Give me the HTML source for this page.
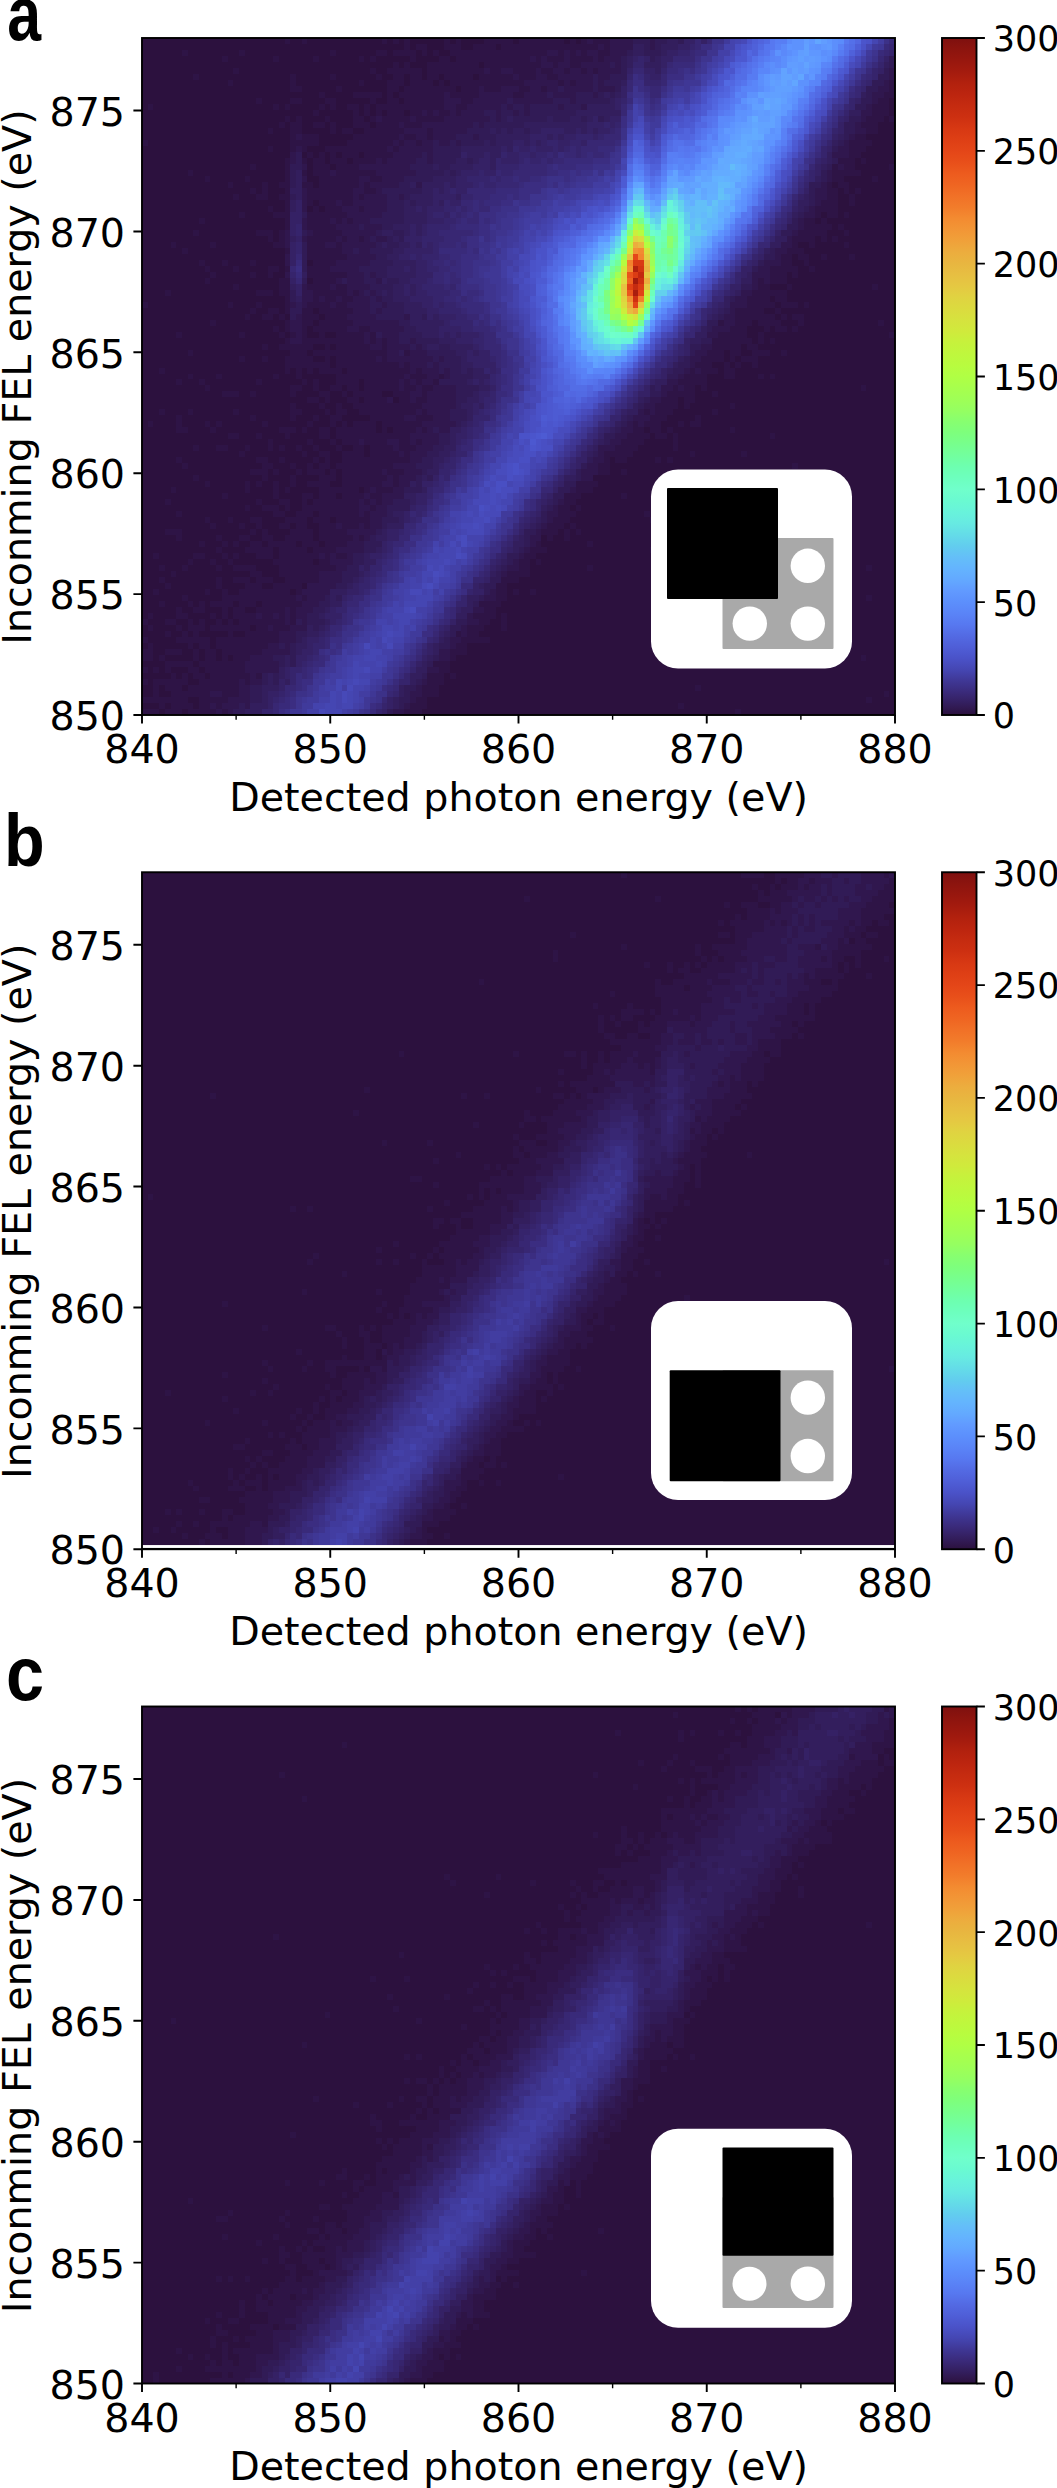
<!DOCTYPE html>
<html lang="en"><head><meta charset="utf-8"><title>Figure</title>
<style>html,body{margin:0;padding:0;background:#fff;width:1057px;height:2488px;overflow:hidden}svg{display:block}</style></head><body>
<svg width="1057" height="2488" viewBox="0 0 1057 2488" role="img" aria-label="Three heat maps of incoming FEL energy versus detected photon energy">
<defs><linearGradient id="tg" x1="0" y1="1" x2="0" y2="0"><stop offset="0.0000" stop-color="#2c113e"/><stop offset="0.0167" stop-color="#331e5d"/><stop offset="0.0333" stop-color="#3a2a7a"/><stop offset="0.0500" stop-color="#3f3795"/><stop offset="0.0667" stop-color="#4546b2"/><stop offset="0.0833" stop-color="#4a52c8"/><stop offset="0.1000" stop-color="#4f5ed7"/><stop offset="0.1167" stop-color="#536ae3"/><stop offset="0.1333" stop-color="#5778f0"/><stop offset="0.1500" stop-color="#5a84f7"/><stop offset="0.1667" stop-color="#5c8ffc"/><stop offset="0.1833" stop-color="#619aff"/><stop offset="0.2000" stop-color="#63a9ff"/><stop offset="0.2167" stop-color="#64b4fe"/><stop offset="0.2333" stop-color="#64bff8"/><stop offset="0.2500" stop-color="#62cdee"/><stop offset="0.2667" stop-color="#64dce8"/><stop offset="0.2833" stop-color="#67eae2"/><stop offset="0.3000" stop-color="#68f3db"/><stop offset="0.3167" stop-color="#6afad1"/><stop offset="0.3333" stop-color="#70ffcb"/><stop offset="0.3500" stop-color="#6dffbe"/><stop offset="0.3667" stop-color="#6dffb0"/><stop offset="0.3833" stop-color="#72ff9e"/><stop offset="0.4000" stop-color="#77ff8d"/><stop offset="0.4167" stop-color="#7dff7d"/><stop offset="0.4333" stop-color="#87ff70"/><stop offset="0.4500" stop-color="#95ff61"/><stop offset="0.4667" stop-color="#9fff56"/><stop offset="0.4833" stop-color="#a7ff4d"/><stop offset="0.5000" stop-color="#b0ff44"/><stop offset="0.5167" stop-color="#b8fc3f"/><stop offset="0.5333" stop-color="#bff73d"/><stop offset="0.5500" stop-color="#c6f23c"/><stop offset="0.5667" stop-color="#d0ea3c"/><stop offset="0.5833" stop-color="#d6e33e"/><stop offset="0.6000" stop-color="#dbdb3f"/><stop offset="0.6167" stop-color="#e0d341"/><stop offset="0.6333" stop-color="#e5c842"/><stop offset="0.6500" stop-color="#e7bf42"/><stop offset="0.6667" stop-color="#e8b640"/><stop offset="0.6833" stop-color="#ecad3e"/><stop offset="0.7000" stop-color="#f0a13a"/><stop offset="0.7167" stop-color="#f29636"/><stop offset="0.7333" stop-color="#f38b31"/><stop offset="0.7500" stop-color="#f27c2b"/><stop offset="0.7667" stop-color="#f17127"/><stop offset="0.7833" stop-color="#ef6522"/><stop offset="0.8000" stop-color="#ed5b1e"/><stop offset="0.8167" stop-color="#e84f1a"/><stop offset="0.8333" stop-color="#e44618"/><stop offset="0.8500" stop-color="#de3f15"/><stop offset="0.8667" stop-color="#d73813"/><stop offset="0.8833" stop-color="#cd3011"/><stop offset="0.9000" stop-color="#c52b10"/><stop offset="0.9167" stop-color="#bc250f"/><stop offset="0.9333" stop-color="#b2210e"/><stop offset="0.9500" stop-color="#a41b0e"/><stop offset="0.9667" stop-color="#98170e"/><stop offset="0.9833" stop-color="#8c140e"/><stop offset="1.0000" stop-color="#7e100f"/></linearGradient></defs>
<rect width="1057" height="2488" fill="#fff"/>
<g transform="translate(0,0)">
<rect x="142" y="38" width="753" height="677" fill="#2c113e"/>
<g transform="translate(142,38) scale(5.70455,5.99115)" shape-rendering="crispEdges">
<path fill="#2e1446" d="M25 0h1v1h-1zM28 0h1v1h-1zM42 0h1v1h-1zM44 0h1v1h-1zM46 0h1v1h-1zM53 0h1v1h-1zM55 0h1v1h-1zM60 0h5v1h-5zM66 0h8v1h-8zM75 0h1v1h-1zM77 0h1v1h-1zM79 0h3v1h-3zM46 1h1v1h-1zM48 1h2v1h-2zM53 1h3v1h-3zM58 1h4v1h-4zM63 1h17v1h-17zM81 1h1v1h-1zM7 2h1v1h-1zM17 2h1v1h-1zM33 2h1v1h-1zM41 2h2v1h-2zM44 2h4v1h-4zM49 2h1v1h-1zM51 2h1v1h-1zM54 2h17v1h-17zM73 2h1v1h-1zM75 2h1v1h-1zM77 2h1v1h-1zM80 2h2v1h-2zM14 3h1v1h-1zM23 3h1v1h-1zM30 3h1v1h-1zM38 3h1v1h-1zM40 3h1v1h-1zM47 3h1v1h-1zM52 3h2v1h-2zM55 3h13v1h-13zM69 3h1v1h-1zM71 3h3v1h-3zM75 3h4v1h-4zM80 3h1v1h-1zM44 4h1v1h-1zM46 4h1v1h-1zM50 4h9v1h-9zM60 4h10v1h-10zM72 4h1v1h-1zM75 4h2v1h-2zM16 5h1v1h-1zM40 5h1v1h-1zM43 5h6v1h-6zM50 5h10v1h-10zM61 5h2v1h-2zM65 5h4v1h-4zM70 5h2v1h-2zM74 5h1v1h-1zM77 5h1v1h-1zM79 5h1v1h-1zM9 6h1v1h-1zM26 6h1v1h-1zM33 6h1v1h-1zM41 6h1v1h-1zM44 6h2v1h-2zM47 6h2v1h-2zM50 6h2v1h-2zM53 6h5v1h-5zM59 6h6v1h-6zM66 6h3v1h-3zM71 6h2v1h-2zM15 7h1v1h-1zM26 7h1v1h-1zM38 7h1v1h-1zM43 7h3v1h-3zM47 7h4v1h-4zM52 7h1v1h-1zM54 7h13v1h-13zM73 7h1v1h-1zM75 7h1v1h-1zM131 7h1v1h-1zM26 8h2v1h-2zM34 8h1v1h-1zM43 8h2v1h-2zM46 8h9v1h-9zM56 8h3v1h-3zM60 8h3v1h-3zM66 8h2v1h-2zM70 8h1v1h-1zM131 8h1v1h-1zM31 9h1v1h-1zM37 9h5v1h-5zM43 9h1v1h-1zM45 9h8v1h-8zM54 9h5v1h-5zM65 9h2v1h-2zM130 9h2v1h-2zM20 10h1v1h-1zM26 10h2v1h-2zM32 10h2v1h-2zM40 10h1v1h-1zM43 10h2v1h-2zM46 10h7v1h-7zM56 10h2v1h-2zM129 10h2v1h-2zM1 11h1v1h-1zM23 11h1v1h-1zM25 11h1v1h-1zM31 11h1v1h-1zM33 11h1v1h-1zM36 11h2v1h-2zM39 11h1v1h-1zM41 11h12v1h-12zM55 11h2v1h-2zM128 11h3v1h-3zM30 12h1v1h-1zM37 12h1v1h-1zM39 12h1v1h-1zM41 12h1v1h-1zM43 12h3v1h-3zM47 12h2v1h-2zM50 12h1v1h-1zM52 12h2v1h-2zM55 12h1v1h-1zM128 12h3v1h-3zM25 13h1v1h-1zM27 13h1v1h-1zM32 13h1v1h-1zM37 13h2v1h-2zM40 13h1v1h-1zM42 13h5v1h-5zM48 13h5v1h-5zM127 13h3v1h-3zM131 13h1v1h-1zM24 14h1v1h-1zM26 14h2v1h-2zM30 14h2v1h-2zM33 14h1v1h-1zM37 14h3v1h-3zM41 14h4v1h-4zM46 14h3v1h-3zM126 14h3v1h-3zM22 15h1v1h-1zM26 15h2v1h-2zM33 15h1v1h-1zM35 15h2v1h-2zM39 15h7v1h-7zM50 15h1v1h-1zM127 15h2v1h-2zM26 16h1v1h-1zM28 16h3v1h-3zM37 16h8v1h-8zM46 16h2v1h-2zM50 16h1v1h-1zM125 16h2v1h-2zM0 17h1v1h-1zM26 17h5v1h-5zM36 17h8v1h-8zM45 17h1v1h-1zM48 17h1v1h-1zM124 17h4v1h-4zM22 18h1v1h-1zM26 18h1v1h-1zM28 18h1v1h-1zM32 18h11v1h-11zM44 18h1v1h-1zM124 18h3v1h-3zM29 19h1v1h-1zM31 19h1v1h-1zM33 19h1v1h-1zM35 19h3v1h-3zM39 19h5v1h-5zM124 19h2v1h-2zM25 20h1v1h-1zM28 20h1v1h-1zM30 20h2v1h-2zM33 20h3v1h-3zM37 20h4v1h-4zM42 20h1v1h-1zM122 20h3v1h-3zM126 20h1v1h-1zM19 21h1v1h-1zM25 21h1v1h-1zM30 21h3v1h-3zM34 21h4v1h-4zM121 21h1v1h-1zM123 21h2v1h-2zM131 21h1v1h-1zM8 22h1v1h-1zM25 22h1v1h-1zM28 22h1v1h-1zM30 22h3v1h-3zM34 22h7v1h-7zM121 22h5v1h-5zM11 23h1v1h-1zM18 23h1v1h-1zM25 23h1v1h-1zM31 23h7v1h-7zM40 23h2v1h-2zM121 23h2v1h-2zM128 23h1v1h-1zM15 24h1v1h-1zM21 24h1v1h-1zM24 24h2v1h-2zM28 24h2v1h-2zM31 24h7v1h-7zM39 24h1v1h-1zM120 24h1v1h-1zM122 24h2v1h-2zM19 25h1v1h-1zM21 25h1v1h-1zM25 25h1v1h-1zM29 25h8v1h-8zM39 25h2v1h-2zM120 25h2v1h-2zM123 25h1v1h-1zM125 25h1v1h-1zM16 26h1v1h-1zM20 26h2v1h-2zM24 26h2v1h-2zM29 26h8v1h-8zM38 26h1v1h-1zM120 26h2v1h-2zM124 26h1v1h-1zM25 27h1v1h-1zM29 27h1v1h-1zM31 27h3v1h-3zM35 27h2v1h-2zM119 27h3v1h-3zM124 27h1v1h-1zM22 28h1v1h-1zM25 28h1v1h-1zM30 28h1v1h-1zM32 28h3v1h-3zM38 28h1v1h-1zM118 28h4v1h-4zM17 29h1v1h-1zM23 29h3v1h-3zM29 29h7v1h-7zM118 29h1v1h-1zM120 29h2v1h-2zM123 29h1v1h-1zM10 30h1v1h-1zM25 30h1v1h-1zM29 30h4v1h-4zM34 30h1v1h-1zM36 30h1v1h-1zM116 30h2v1h-2zM119 30h1v1h-1zM25 31h1v1h-1zM29 31h5v1h-5zM116 31h5v1h-5zM122 31h1v1h-1zM9 32h1v1h-1zM20 32h3v1h-3zM24 32h1v1h-1zM30 32h5v1h-5zM115 32h5v1h-5zM123 32h1v1h-1zM22 33h1v1h-1zM24 33h1v1h-1zM29 33h5v1h-5zM35 33h1v1h-1zM38 33h1v1h-1zM114 33h4v1h-4zM119 33h1v1h-1zM121 33h1v1h-1zM5 34h1v1h-1zM12 34h1v1h-1zM23 34h2v1h-2zM29 34h3v1h-3zM34 34h1v1h-1zM114 34h1v1h-1zM117 34h1v1h-1zM123 34h1v1h-1zM7 35h1v1h-1zM25 35h1v1h-1zM29 35h6v1h-6zM113 35h3v1h-3zM29 36h7v1h-7zM112 36h2v1h-2zM115 36h2v1h-2zM119 36h1v1h-1zM124 36h1v1h-1zM10 37h1v1h-1zM14 37h1v1h-1zM19 37h1v1h-1zM30 37h4v1h-4zM112 37h2v1h-2zM116 37h1v1h-1zM11 38h1v1h-1zM16 38h1v1h-1zM22 38h2v1h-2zM25 38h1v1h-1zM29 38h4v1h-4zM110 38h5v1h-5zM117 38h1v1h-1zM12 39h1v1h-1zM19 39h1v1h-1zM22 39h1v1h-1zM29 39h7v1h-7zM110 39h3v1h-3zM114 39h1v1h-1zM11 40h1v1h-1zM24 40h2v1h-2zM30 40h4v1h-4zM108 40h1v1h-1zM110 40h3v1h-3zM16 41h1v1h-1zM24 41h2v1h-2zM29 41h4v1h-4zM34 41h2v1h-2zM108 41h2v1h-2zM113 41h1v1h-1zM128 41h1v1h-1zM4 42h1v1h-1zM20 42h3v1h-3zM24 42h2v1h-2zM30 42h6v1h-6zM37 42h1v1h-1zM107 42h6v1h-6zM25 43h1v1h-1zM30 43h1v1h-1zM32 43h2v1h-2zM35 43h2v1h-2zM106 43h4v1h-4zM111 43h2v1h-2zM0 44h1v1h-1zM15 44h1v1h-1zM20 44h1v1h-1zM25 44h1v1h-1zM29 44h4v1h-4zM34 44h2v1h-2zM106 44h5v1h-5zM112 44h3v1h-3zM116 44h1v1h-1zM19 45h1v1h-1zM22 45h2v1h-2zM25 45h1v1h-1zM28 45h2v1h-2zM31 45h6v1h-6zM104 45h5v1h-5zM111 45h1v1h-1zM18 46h1v1h-1zM21 46h2v1h-2zM24 46h1v1h-1zM28 46h3v1h-3zM32 46h4v1h-4zM104 46h7v1h-7zM112 46h1v1h-1zM114 46h2v1h-2zM12 47h1v1h-1zM25 47h1v1h-1zM28 47h2v1h-2zM31 47h6v1h-6zM101 47h1v1h-1zM104 47h3v1h-3zM108 47h4v1h-4zM115 47h1v1h-1zM129 47h1v1h-1zM23 48h1v1h-1zM25 48h1v1h-1zM28 48h1v1h-1zM30 48h6v1h-6zM38 48h2v1h-2zM103 48h3v1h-3zM109 48h1v1h-1zM111 48h2v1h-2zM114 48h1v1h-1zM6 49h1v1h-1zM17 49h1v1h-1zM24 49h1v1h-1zM26 49h1v1h-1zM28 49h1v1h-1zM31 49h1v1h-1zM34 49h5v1h-5zM40 49h1v1h-1zM101 49h5v1h-5zM108 49h1v1h-1zM131 49h1v1h-1zM25 50h1v1h-1zM28 50h11v1h-11zM40 50h1v1h-1zM42 50h1v1h-1zM100 50h7v1h-7zM108 50h1v1h-1zM110 50h1v1h-1zM21 51h1v1h-1zM24 51h6v1h-6zM32 51h1v1h-1zM34 51h6v1h-6zM42 51h1v1h-1zM100 51h5v1h-5zM106 51h2v1h-2zM8 52h1v1h-1zM26 52h3v1h-3zM30 52h13v1h-13zM46 52h1v1h-1zM99 52h3v1h-3zM103 52h2v1h-2zM107 52h3v1h-3zM112 52h1v1h-1zM17 53h1v1h-1zM21 53h1v1h-1zM25 53h5v1h-5zM32 53h1v1h-1zM34 53h7v1h-7zM42 53h1v1h-1zM98 53h4v1h-4zM103 53h1v1h-1zM105 53h3v1h-3zM25 54h8v1h-8zM34 54h11v1h-11zM46 54h1v1h-1zM97 54h3v1h-3zM102 54h1v1h-1zM104 54h1v1h-1zM107 54h1v1h-1zM3 55h1v1h-1zM25 55h1v1h-1zM27 55h1v1h-1zM29 55h1v1h-1zM31 55h4v1h-4zM36 55h11v1h-11zM48 55h1v1h-1zM96 55h1v1h-1zM98 55h3v1h-3zM102 55h2v1h-2zM8 56h1v1h-1zM13 56h1v1h-1zM23 56h1v1h-1zM27 56h1v1h-1zM34 56h12v1h-12zM47 56h3v1h-3zM52 56h1v1h-1zM95 56h4v1h-4zM102 56h2v1h-2zM108 56h1v1h-1zM110 56h1v1h-1zM6 57h1v1h-1zM10 57h1v1h-1zM20 57h1v1h-1zM28 57h1v1h-1zM30 57h1v1h-1zM34 57h4v1h-4zM39 57h6v1h-6zM46 57h1v1h-1zM48 57h1v1h-1zM51 57h1v1h-1zM94 57h5v1h-5zM11 58h1v1h-1zM26 58h2v1h-2zM30 58h1v1h-1zM33 58h2v1h-2zM36 58h2v1h-2zM39 58h6v1h-6zM46 58h2v1h-2zM49 58h2v1h-2zM93 58h1v1h-1zM95 58h2v1h-2zM98 58h1v1h-1zM126 58h1v1h-1zM14 59h3v1h-3zM19 59h1v1h-1zM26 59h1v1h-1zM31 59h2v1h-2zM35 59h1v1h-1zM37 59h5v1h-5zM44 59h3v1h-3zM49 59h1v1h-1zM92 59h5v1h-5zM100 59h1v1h-1zM29 60h2v1h-2zM32 60h1v1h-1zM36 60h2v1h-2zM39 60h4v1h-4zM45 60h2v1h-2zM48 60h2v1h-2zM91 60h3v1h-3zM95 60h2v1h-2zM26 61h1v1h-1zM31 61h1v1h-1zM34 61h1v1h-1zM37 61h12v1h-12zM90 61h4v1h-4zM95 61h1v1h-1zM103 61h1v1h-1zM3 62h1v1h-1zM8 62h1v1h-1zM16 62h1v1h-1zM26 62h2v1h-2zM32 62h1v1h-1zM34 62h2v1h-2zM38 62h10v1h-10zM49 62h1v1h-1zM88 62h1v1h-1zM90 62h3v1h-3zM100 62h1v1h-1zM6 63h1v1h-1zM19 63h1v1h-1zM26 63h1v1h-1zM30 63h1v1h-1zM33 63h2v1h-2zM40 63h6v1h-6zM48 63h3v1h-3zM89 63h3v1h-3zM97 63h1v1h-1zM1 64h1v1h-1zM6 64h1v1h-1zM11 64h1v1h-1zM13 64h1v1h-1zM21 64h1v1h-1zM29 64h1v1h-1zM33 64h1v1h-1zM35 64h1v1h-1zM37 64h4v1h-4zM42 64h7v1h-7zM86 64h1v1h-1zM88 64h3v1h-3zM94 64h1v1h-1zM96 64h2v1h-2zM6 65h2v1h-2zM12 65h1v1h-1zM24 65h3v1h-3zM28 65h1v1h-1zM31 65h2v1h-2zM34 65h7v1h-7zM42 65h1v1h-1zM44 65h4v1h-4zM49 65h1v1h-1zM86 65h2v1h-2zM89 65h2v1h-2zM92 65h1v1h-1zM103 65h1v1h-1zM15 66h2v1h-2zM20 66h1v1h-1zM25 66h1v1h-1zM31 66h2v1h-2zM34 66h13v1h-13zM85 66h4v1h-4zM90 66h2v1h-2zM93 66h1v1h-1zM110 66h1v1h-1zM22 67h1v1h-1zM29 67h1v1h-1zM33 67h1v1h-1zM35 67h3v1h-3zM39 67h4v1h-4zM45 67h2v1h-2zM48 67h1v1h-1zM84 67h4v1h-4zM93 67h1v1h-1zM9 68h1v1h-1zM13 68h2v1h-2zM18 68h1v1h-1zM22 68h1v1h-1zM24 68h1v1h-1zM27 68h1v1h-1zM30 68h1v1h-1zM34 68h1v1h-1zM37 68h2v1h-2zM40 68h4v1h-4zM45 68h3v1h-3zM83 68h4v1h-4zM93 68h1v1h-1zM17 69h1v1h-1zM28 69h1v1h-1zM31 69h2v1h-2zM35 69h4v1h-4zM40 69h5v1h-5zM46 69h1v1h-1zM81 69h5v1h-5zM96 69h1v1h-1zM105 69h1v1h-1zM6 70h1v1h-1zM20 70h2v1h-2zM24 70h1v1h-1zM30 70h1v1h-1zM32 70h1v1h-1zM35 70h12v1h-12zM81 70h1v1h-1zM83 70h2v1h-2zM90 70h1v1h-1zM92 70h1v1h-1zM7 71h1v1h-1zM21 71h2v1h-2zM26 71h1v1h-1zM29 71h1v1h-1zM31 71h2v1h-2zM34 71h10v1h-10zM80 71h2v1h-2zM114 71h1v1h-1zM19 72h3v1h-3zM23 72h1v1h-1zM27 72h1v1h-1zM29 72h3v1h-3zM33 72h1v1h-1zM35 72h7v1h-7zM43 72h3v1h-3zM80 72h2v1h-2zM84 72h1v1h-1zM9 73h1v1h-1zM21 73h1v1h-1zM26 73h1v1h-1zM31 73h3v1h-3zM35 73h8v1h-8zM44 73h1v1h-1zM11 74h1v1h-1zM18 74h1v1h-1zM20 74h1v1h-1zM23 74h1v1h-1zM26 74h1v1h-1zM29 74h4v1h-4zM35 74h7v1h-7zM44 74h1v1h-1zM76 74h4v1h-4zM5 75h1v1h-1zM18 75h1v1h-1zM23 75h1v1h-1zM25 75h1v1h-1zM31 75h7v1h-7zM39 75h1v1h-1zM41 75h3v1h-3zM76 75h3v1h-3zM14 76h1v1h-1zM23 76h1v1h-1zM28 76h2v1h-2zM31 76h3v1h-3zM35 76h4v1h-4zM40 76h2v1h-2zM74 76h3v1h-3zM84 76h1v1h-1zM4 77h1v1h-1zM20 77h1v1h-1zM24 77h2v1h-2zM28 77h1v1h-1zM30 77h8v1h-8zM39 77h1v1h-1zM41 77h1v1h-1zM74 77h2v1h-2zM106 77h1v1h-1zM123 77h1v1h-1zM18 78h1v1h-1zM21 78h3v1h-3zM25 78h1v1h-1zM28 78h10v1h-10zM40 78h1v1h-1zM73 78h2v1h-2zM76 78h1v1h-1zM6 79h1v1h-1zM23 79h2v1h-2zM27 79h3v1h-3zM31 79h7v1h-7zM39 79h1v1h-1zM73 79h3v1h-3zM88 79h1v1h-1zM11 80h1v1h-1zM15 80h1v1h-1zM19 80h2v1h-2zM25 80h4v1h-4zM30 80h3v1h-3zM34 80h6v1h-6zM72 80h3v1h-3zM89 80h1v1h-1zM12 81h1v1h-1zM17 81h1v1h-1zM20 81h1v1h-1zM24 81h2v1h-2zM27 81h2v1h-2zM31 81h3v1h-3zM35 81h3v1h-3zM39 81h1v1h-1zM71 81h3v1h-3zM75 81h1v1h-1zM4 82h3v1h-3zM19 82h1v1h-1zM21 82h1v1h-1zM26 82h4v1h-4zM31 82h5v1h-5zM70 82h3v1h-3zM74 82h1v1h-1zM76 82h1v1h-1zM6 83h1v1h-1zM13 83h1v1h-1zM17 83h2v1h-2zM21 83h2v1h-2zM25 83h5v1h-5zM31 83h6v1h-6zM38 83h1v1h-1zM71 83h1v1h-1zM74 83h1v1h-1zM10 84h1v1h-1zM14 84h1v1h-1zM16 84h1v1h-1zM19 84h2v1h-2zM22 84h5v1h-5zM28 84h3v1h-3zM32 84h4v1h-4zM69 84h1v1h-1zM78 84h1v1h-1zM13 85h1v1h-1zM18 85h5v1h-5zM24 85h5v1h-5zM30 85h4v1h-4zM68 85h3v1h-3zM89 85h1v1h-1zM103 85h1v1h-1zM117 85h1v1h-1zM2 86h1v1h-1zM9 86h2v1h-2zM14 86h1v1h-1zM16 86h1v1h-1zM20 86h3v1h-3zM24 86h7v1h-7zM32 86h1v1h-1zM34 86h2v1h-2zM67 86h2v1h-2zM8 87h1v1h-1zM12 87h1v1h-1zM15 87h1v1h-1zM23 87h7v1h-7zM31 87h2v1h-2zM66 87h2v1h-2zM69 87h1v1h-1zM96 87h1v1h-1zM106 87h1v1h-1zM110 87h1v1h-1zM3 88h1v1h-1zM7 88h1v1h-1zM13 88h1v1h-1zM16 88h4v1h-4zM24 88h10v1h-10zM66 88h2v1h-2zM78 88h1v1h-1zM127 88h1v1h-1zM5 89h1v1h-1zM19 89h2v1h-2zM24 89h7v1h-7zM64 89h4v1h-4zM3 90h1v1h-1zM13 90h1v1h-1zM16 90h3v1h-3zM20 90h3v1h-3zM25 90h6v1h-6zM63 90h3v1h-3zM4 91h1v1h-1zM13 91h1v1h-1zM18 91h3v1h-3zM23 91h5v1h-5zM62 91h2v1h-2zM2 92h1v1h-1zM11 92h1v1h-1zM14 92h1v1h-1zM17 92h9v1h-9zM27 92h1v1h-1zM62 92h2v1h-2zM65 92h1v1h-1zM68 92h1v1h-1zM7 93h1v1h-1zM14 93h13v1h-13zM28 93h1v1h-1zM62 93h2v1h-2zM105 93h1v1h-1zM127 93h1v1h-1zM3 94h1v1h-1zM8 94h1v1h-1zM10 94h1v1h-1zM12 94h4v1h-4zM17 94h3v1h-3zM21 94h7v1h-7zM59 94h4v1h-4zM90 94h1v1h-1zM6 95h1v1h-1zM9 95h2v1h-2zM14 95h1v1h-1zM16 95h2v1h-2zM20 95h5v1h-5zM26 95h1v1h-1zM60 95h2v1h-2zM1 96h1v1h-1zM6 96h2v1h-2zM12 96h1v1h-1zM14 96h1v1h-1zM16 96h4v1h-4zM21 96h2v1h-2zM24 96h1v1h-1zM26 96h1v1h-1zM58 96h4v1h-4zM63 96h1v1h-1zM98 96h1v1h-1zM0 97h1v1h-1zM4 97h2v1h-2zM8 97h1v1h-1zM10 97h1v1h-1zM13 97h1v1h-1zM15 97h1v1h-1zM17 97h8v1h-8zM26 97h1v1h-1zM59 97h2v1h-2zM63 97h1v1h-1zM1 98h1v1h-1zM6 98h1v1h-1zM8 98h3v1h-3zM12 98h7v1h-7zM20 98h2v1h-2zM23 98h3v1h-3zM57 98h3v1h-3zM63 98h1v1h-1zM4 99h1v1h-1zM7 99h1v1h-1zM9 99h1v1h-1zM15 99h1v1h-1zM18 99h6v1h-6zM55 99h1v1h-1zM57 99h2v1h-2zM0 100h1v1h-1zM6 100h6v1h-6zM13 100h11v1h-11zM56 100h5v1h-5zM1 101h1v1h-1zM8 101h1v1h-1zM10 101h2v1h-2zM13 101h9v1h-9zM55 101h2v1h-2zM0 102h2v1h-2zM4 102h3v1h-3zM9 102h1v1h-1zM11 102h2v1h-2zM14 102h7v1h-7zM54 102h3v1h-3zM0 103h2v1h-2zM3 103h1v1h-1zM9 103h1v1h-1zM11 103h2v1h-2zM14 103h1v1h-1zM16 103h3v1h-3zM54 103h1v1h-1zM126 103h1v1h-1zM4 104h5v1h-5zM10 104h8v1h-8zM51 104h3v1h-3zM0 105h1v1h-1zM2 105h1v1h-1zM4 105h1v1h-1zM8 105h2v1h-2zM11 105h7v1h-7zM52 105h2v1h-2zM5 106h1v1h-1zM7 106h1v1h-1zM9 106h2v1h-2zM12 106h7v1h-7zM20 106h1v1h-1zM50 106h3v1h-3zM54 106h1v1h-1zM0 107h1v1h-1zM2 107h6v1h-6zM10 107h7v1h-7zM18 107h1v1h-1zM50 107h3v1h-3zM2 108h1v1h-1zM4 108h3v1h-3zM8 108h9v1h-9zM49 108h3v1h-3zM97 108h1v1h-1zM2 109h1v1h-1zM5 109h7v1h-7zM14 109h3v1h-3zM49 109h3v1h-3zM130 109h1v1h-1zM0 110h8v1h-8zM10 110h5v1h-5zM48 110h2v1h-2zM127 110h1v1h-1zM3 111h1v1h-1zM5 111h4v1h-4zM10 111h2v1h-2zM13 111h1v1h-1zM47 111h3v1h-3zM94 111h1v1h-1zM0 112h3v1h-3zM4 112h3v1h-3zM8 112h5v1h-5zM14 112h1v1h-1zM46 112h3v1h-3zM104 112h1v1h-1z"/>
<path fill="#30174e" d="M78 0h1v1h-1zM82 0h4v1h-4zM89 0h1v1h-1zM80 1h1v1h-1zM82 1h4v1h-4zM89 1h1v1h-1zM71 2h2v1h-2zM74 2h1v1h-1zM76 2h1v1h-1zM78 2h2v1h-2zM82 2h3v1h-3zM68 3h1v1h-1zM70 3h1v1h-1zM74 3h1v1h-1zM79 3h1v1h-1zM81 3h3v1h-3zM70 4h2v1h-2zM73 4h2v1h-2zM77 4h5v1h-5zM83 4h1v1h-1zM60 5h1v1h-1zM63 5h2v1h-2zM69 5h1v1h-1zM72 5h2v1h-2zM75 5h2v1h-2zM78 5h1v1h-1zM80 5h4v1h-4zM131 5h1v1h-1zM65 6h1v1h-1zM69 6h2v1h-2zM73 6h6v1h-6zM80 6h2v1h-2zM131 6h1v1h-1zM67 7h6v1h-6zM74 7h1v1h-1zM76 7h3v1h-3zM80 7h1v1h-1zM130 7h1v1h-1zM59 8h1v1h-1zM63 8h3v1h-3zM68 8h2v1h-2zM71 8h2v1h-2zM74 8h5v1h-5zM80 8h3v1h-3zM129 8h2v1h-2zM53 9h1v1h-1zM59 9h6v1h-6zM67 9h4v1h-4zM72 9h4v1h-4zM79 9h1v1h-1zM128 9h2v1h-2zM53 10h3v1h-3zM58 10h6v1h-6zM65 10h7v1h-7zM75 10h1v1h-1zM128 10h1v1h-1zM53 11h2v1h-2zM57 11h6v1h-6zM64 11h1v1h-1zM67 11h1v1h-1zM73 11h1v1h-1zM77 11h1v1h-1zM127 11h1v1h-1zM49 12h1v1h-1zM51 12h1v1h-1zM54 12h1v1h-1zM56 12h4v1h-4zM62 12h1v1h-1zM65 12h1v1h-1zM67 12h1v1h-1zM126 12h2v1h-2zM41 13h1v1h-1zM47 13h1v1h-1zM53 13h8v1h-8zM62 13h1v1h-1zM126 13h1v1h-1zM45 14h1v1h-1zM49 14h9v1h-9zM59 14h1v1h-1zM125 14h1v1h-1zM46 15h4v1h-4zM51 15h6v1h-6zM125 15h2v1h-2zM27 16h1v1h-1zM45 16h1v1h-1zM48 16h2v1h-2zM51 16h4v1h-4zM58 16h1v1h-1zM124 16h1v1h-1zM44 17h1v1h-1zM46 17h2v1h-2zM49 17h2v1h-2zM52 17h2v1h-2zM55 17h1v1h-1zM123 17h1v1h-1zM27 18h1v1h-1zM43 18h1v1h-1zM45 18h6v1h-6zM122 18h2v1h-2zM26 19h1v1h-1zM44 19h5v1h-5zM50 19h1v1h-1zM121 19h3v1h-3zM26 20h1v1h-1zM41 20h1v1h-1zM43 20h5v1h-5zM50 20h1v1h-1zM28 21h1v1h-1zM38 21h9v1h-9zM122 21h1v1h-1zM33 22h1v1h-1zM41 22h7v1h-7zM120 22h1v1h-1zM28 23h1v1h-1zM38 23h2v1h-2zM42 23h4v1h-4zM120 23h1v1h-1zM38 24h1v1h-1zM40 24h5v1h-5zM48 24h1v1h-1zM119 24h1v1h-1zM28 25h1v1h-1zM37 25h2v1h-2zM41 25h1v1h-1zM118 25h2v1h-2zM28 26h1v1h-1zM37 26h1v1h-1zM39 26h4v1h-4zM45 26h1v1h-1zM118 26h2v1h-2zM28 27h1v1h-1zM34 27h1v1h-1zM37 27h6v1h-6zM118 27h1v1h-1zM28 28h1v1h-1zM35 28h3v1h-3zM39 28h4v1h-4zM117 28h1v1h-1zM36 29h6v1h-6zM116 29h2v1h-2zM28 30h1v1h-1zM33 30h1v1h-1zM35 30h1v1h-1zM37 30h3v1h-3zM115 30h1v1h-1zM28 31h1v1h-1zM34 31h4v1h-4zM39 31h3v1h-3zM115 31h1v1h-1zM25 32h1v1h-1zM29 32h1v1h-1zM35 32h6v1h-6zM114 32h1v1h-1zM25 33h1v1h-1zM28 33h1v1h-1zM34 33h1v1h-1zM36 33h2v1h-2zM39 33h1v1h-1zM41 33h2v1h-2zM113 33h1v1h-1zM25 34h1v1h-1zM32 34h2v1h-2zM35 34h6v1h-6zM112 34h2v1h-2zM35 35h2v1h-2zM38 35h2v1h-2zM111 35h2v1h-2zM25 36h1v1h-1zM36 36h5v1h-5zM111 36h1v1h-1zM25 37h1v1h-1zM34 37h6v1h-6zM109 37h3v1h-3zM33 38h5v1h-5zM108 38h2v1h-2zM25 39h1v1h-1zM36 39h3v1h-3zM40 39h1v1h-1zM107 39h3v1h-3zM34 40h1v1h-1zM36 40h3v1h-3zM41 40h1v1h-1zM107 40h1v1h-1zM109 40h1v1h-1zM28 41h1v1h-1zM33 41h1v1h-1zM36 41h4v1h-4zM107 41h1v1h-1zM28 42h2v1h-2zM36 42h1v1h-1zM38 42h1v1h-1zM40 42h1v1h-1zM105 42h2v1h-2zM28 43h2v1h-2zM31 43h1v1h-1zM34 43h1v1h-1zM37 43h3v1h-3zM41 43h1v1h-1zM104 43h2v1h-2zM26 44h1v1h-1zM28 44h1v1h-1zM33 44h1v1h-1zM36 44h4v1h-4zM42 44h1v1h-1zM103 44h3v1h-3zM37 45h3v1h-3zM41 45h1v1h-1zM103 45h1v1h-1zM27 46h1v1h-1zM36 46h5v1h-5zM46 46h1v1h-1zM102 46h2v1h-2zM26 47h2v1h-2zM37 47h8v1h-8zM102 47h2v1h-2zM26 48h2v1h-2zM36 48h2v1h-2zM40 48h6v1h-6zM100 48h3v1h-3zM27 49h1v1h-1zM39 49h1v1h-1zM42 49h3v1h-3zM99 49h2v1h-2zM26 50h2v1h-2zM39 50h1v1h-1zM41 50h1v1h-1zM43 50h2v1h-2zM47 50h1v1h-1zM40 51h2v1h-2zM43 51h4v1h-4zM48 51h1v1h-1zM98 51h2v1h-2zM43 52h2v1h-2zM47 52h3v1h-3zM97 52h2v1h-2zM41 53h1v1h-1zM43 53h8v1h-8zM52 53h1v1h-1zM96 53h2v1h-2zM45 54h1v1h-1zM47 54h3v1h-3zM51 54h1v1h-1zM96 54h1v1h-1zM47 55h1v1h-1zM49 55h3v1h-3zM53 55h1v1h-1zM95 55h1v1h-1zM97 55h1v1h-1zM46 56h1v1h-1zM50 56h2v1h-2zM53 56h1v1h-1zM94 56h1v1h-1zM45 57h1v1h-1zM47 57h1v1h-1zM49 57h2v1h-2zM92 57h2v1h-2zM45 58h1v1h-1zM48 58h1v1h-1zM51 58h4v1h-4zM91 58h2v1h-2zM94 58h1v1h-1zM47 59h2v1h-2zM50 59h5v1h-5zM91 59h1v1h-1zM43 60h1v1h-1zM47 60h1v1h-1zM50 60h5v1h-5zM89 60h2v1h-2zM49 61h6v1h-6zM88 61h2v1h-2zM48 62h1v1h-1zM50 62h4v1h-4zM87 62h1v1h-1zM89 62h1v1h-1zM46 63h2v1h-2zM51 63h3v1h-3zM86 63h3v1h-3zM49 64h6v1h-6zM85 64h1v1h-1zM87 64h1v1h-1zM48 65h1v1h-1zM50 65h1v1h-1zM52 65h2v1h-2zM84 65h2v1h-2zM47 66h5v1h-5zM83 66h2v1h-2zM38 67h1v1h-1zM43 67h2v1h-2zM47 67h1v1h-1zM49 67h3v1h-3zM82 67h2v1h-2zM44 68h1v1h-1zM48 68h3v1h-3zM80 68h3v1h-3zM45 69h1v1h-1zM47 69h3v1h-3zM80 69h1v1h-1zM47 70h2v1h-2zM79 70h2v1h-2zM44 71h4v1h-4zM78 71h2v1h-2zM42 72h1v1h-1zM46 72h3v1h-3zM77 72h3v1h-3zM43 73h1v1h-1zM45 73h3v1h-3zM77 73h2v1h-2zM42 74h2v1h-2zM45 74h2v1h-2zM40 75h1v1h-1zM44 75h2v1h-2zM75 75h1v1h-1zM39 76h1v1h-1zM42 76h4v1h-4zM38 77h1v1h-1zM40 77h1v1h-1zM42 77h2v1h-2zM73 77h1v1h-1zM38 78h2v1h-2zM41 78h2v1h-2zM72 78h1v1h-1zM38 79h1v1h-1zM40 79h3v1h-3zM71 79h2v1h-2zM40 80h2v1h-2zM71 80h1v1h-1zM34 81h1v1h-1zM38 81h1v1h-1zM40 81h2v1h-2zM70 81h1v1h-1zM36 82h5v1h-5zM69 82h1v1h-1zM37 83h1v1h-1zM39 83h1v1h-1zM68 83h2v1h-2zM36 84h3v1h-3zM68 84h1v1h-1zM34 85h5v1h-5zM67 85h1v1h-1zM31 86h1v1h-1zM33 86h1v1h-1zM36 86h1v1h-1zM66 86h1v1h-1zM33 87h4v1h-4zM65 87h1v1h-1zM34 88h2v1h-2zM64 88h2v1h-2zM31 89h4v1h-4zM63 89h1v1h-1zM31 90h4v1h-4zM29 91h5v1h-5zM28 92h5v1h-5zM61 92h1v1h-1zM27 93h1v1h-1zM29 93h3v1h-3zM60 93h2v1h-2zM28 94h3v1h-3zM25 95h1v1h-1zM27 95h3v1h-3zM58 95h2v1h-2zM20 96h1v1h-1zM23 96h1v1h-1zM25 96h1v1h-1zM27 96h2v1h-2zM57 96h1v1h-1zM25 97h1v1h-1zM28 97h1v1h-1zM57 97h2v1h-2zM22 98h1v1h-1zM26 98h3v1h-3zM56 98h1v1h-1zM24 99h3v1h-3zM56 99h1v1h-1zM24 100h3v1h-3zM54 100h2v1h-2zM22 101h2v1h-2zM25 101h1v1h-1zM54 101h1v1h-1zM21 102h5v1h-5zM52 102h2v1h-2zM19 103h4v1h-4zM52 103h2v1h-2zM18 104h6v1h-6zM18 105h6v1h-6zM50 105h2v1h-2zM19 106h1v1h-1zM17 107h1v1h-1zM19 107h2v1h-2zM49 107h1v1h-1zM17 108h2v1h-2zM48 108h1v1h-1zM12 109h2v1h-2zM17 109h2v1h-2zM47 109h2v1h-2zM15 110h4v1h-4zM47 110h1v1h-1zM12 111h1v1h-1zM14 111h3v1h-3zM18 111h1v1h-1zM46 111h1v1h-1zM13 112h1v1h-1zM15 112h1v1h-1zM44 112h2v1h-2z"/>
<path fill="#311b56" d="M86 0h3v1h-3zM90 0h2v1h-2zM94 0h1v1h-1zM88 1h1v1h-1zM90 1h1v1h-1zM85 2h1v1h-1zM88 2h3v1h-3zM84 3h1v1h-1zM89 3h1v1h-1zM131 3h1v1h-1zM82 4h1v1h-1zM84 4h1v1h-1zM131 4h1v1h-1zM84 5h1v1h-1zM130 5h1v1h-1zM79 6h1v1h-1zM82 6h3v1h-3zM129 6h2v1h-2zM79 7h1v1h-1zM81 7h3v1h-3zM128 7h2v1h-2zM73 8h1v1h-1zM79 8h1v1h-1zM83 8h1v1h-1zM127 8h2v1h-2zM71 9h1v1h-1zM76 9h3v1h-3zM80 9h1v1h-1zM82 9h1v1h-1zM127 9h1v1h-1zM64 10h1v1h-1zM72 10h3v1h-3zM76 10h6v1h-6zM126 10h2v1h-2zM63 11h1v1h-1zM65 11h2v1h-2zM68 11h5v1h-5zM74 11h3v1h-3zM125 11h2v1h-2zM60 12h2v1h-2zM63 12h2v1h-2zM66 12h1v1h-1zM68 12h8v1h-8zM61 13h1v1h-1zM63 13h1v1h-1zM65 13h6v1h-6zM72 13h3v1h-3zM77 13h1v1h-1zM80 13h1v1h-1zM124 13h2v1h-2zM58 14h1v1h-1zM60 14h7v1h-7zM123 14h2v1h-2zM57 15h4v1h-4zM62 15h1v1h-1zM64 15h1v1h-1zM67 15h1v1h-1zM123 15h2v1h-2zM55 16h3v1h-3zM59 16h3v1h-3zM123 16h1v1h-1zM51 17h1v1h-1zM54 17h1v1h-1zM56 17h4v1h-4zM61 17h1v1h-1zM122 17h1v1h-1zM51 18h5v1h-5zM121 18h1v1h-1zM27 19h1v1h-1zM49 19h1v1h-1zM51 19h5v1h-5zM27 20h1v1h-1zM48 20h2v1h-2zM51 20h4v1h-4zM57 20h1v1h-1zM121 20h1v1h-1zM26 21h2v1h-2zM47 21h4v1h-4zM52 21h2v1h-2zM120 21h1v1h-1zM26 22h1v1h-1zM48 22h5v1h-5zM54 22h1v1h-1zM119 22h1v1h-1zM26 23h1v1h-1zM46 23h5v1h-5zM119 23h1v1h-1zM26 24h1v1h-1zM45 24h2v1h-2zM117 24h2v1h-2zM42 25h7v1h-7zM117 25h1v1h-1zM26 26h1v1h-1zM43 26h2v1h-2zM46 26h1v1h-1zM117 26h1v1h-1zM43 27h3v1h-3zM47 27h1v1h-1zM117 27h1v1h-1zM43 28h3v1h-3zM116 28h1v1h-1zM28 29h1v1h-1zM42 29h4v1h-4zM115 29h1v1h-1zM40 30h6v1h-6zM114 30h1v1h-1zM38 31h1v1h-1zM42 31h2v1h-2zM113 31h2v1h-2zM28 32h1v1h-1zM41 32h1v1h-1zM44 32h2v1h-2zM112 32h2v1h-2zM40 33h1v1h-1zM43 33h1v1h-1zM45 33h1v1h-1zM28 34h1v1h-1zM41 34h1v1h-1zM43 34h2v1h-2zM28 35h1v1h-1zM37 35h1v1h-1zM40 35h4v1h-4zM110 35h1v1h-1zM28 36h1v1h-1zM41 36h2v1h-2zM109 36h2v1h-2zM28 37h1v1h-1zM40 37h4v1h-4zM108 37h1v1h-1zM28 38h1v1h-1zM38 38h5v1h-5zM107 38h1v1h-1zM39 39h1v1h-1zM41 39h2v1h-2zM28 40h1v1h-1zM35 40h1v1h-1zM39 40h2v1h-2zM43 40h2v1h-2zM40 41h4v1h-4zM105 41h2v1h-2zM26 42h1v1h-1zM39 42h1v1h-1zM41 42h1v1h-1zM43 42h1v1h-1zM26 43h1v1h-1zM40 43h1v1h-1zM42 43h2v1h-2zM103 43h1v1h-1zM27 44h1v1h-1zM40 44h2v1h-2zM43 44h3v1h-3zM26 45h2v1h-2zM40 45h1v1h-1zM42 45h4v1h-4zM102 45h1v1h-1zM26 46h1v1h-1zM41 46h5v1h-5zM49 46h1v1h-1zM101 46h1v1h-1zM45 47h2v1h-2zM99 47h2v1h-2zM46 48h2v1h-2zM99 48h1v1h-1zM41 49h1v1h-1zM45 49h4v1h-4zM45 50h2v1h-2zM48 50h4v1h-4zM98 50h2v1h-2zM47 51h1v1h-1zM49 51h1v1h-1zM52 51h2v1h-2zM96 51h2v1h-2zM45 52h1v1h-1zM50 52h5v1h-5zM96 52h1v1h-1zM51 53h1v1h-1zM53 53h3v1h-3zM95 53h1v1h-1zM50 54h1v1h-1zM52 54h4v1h-4zM94 54h2v1h-2zM52 55h1v1h-1zM54 55h2v1h-2zM57 55h1v1h-1zM93 55h2v1h-2zM54 56h4v1h-4zM92 56h2v1h-2zM52 57h5v1h-5zM55 58h4v1h-4zM89 58h1v1h-1zM55 59h3v1h-3zM89 59h2v1h-2zM55 60h2v1h-2zM88 60h1v1h-1zM55 61h1v1h-1zM87 61h1v1h-1zM54 62h3v1h-3zM54 63h3v1h-3zM85 63h1v1h-1zM55 64h1v1h-1zM84 64h1v1h-1zM51 65h1v1h-1zM83 65h1v1h-1zM52 66h2v1h-2zM81 66h2v1h-2zM52 67h2v1h-2zM81 67h1v1h-1zM51 68h2v1h-2zM50 69h2v1h-2zM79 69h1v1h-1zM49 70h2v1h-2zM78 70h1v1h-1zM48 71h3v1h-3zM77 71h1v1h-1zM49 72h1v1h-1zM76 72h1v1h-1zM48 73h1v1h-1zM50 73h1v1h-1zM76 73h1v1h-1zM48 74h1v1h-1zM74 74h2v1h-2zM46 75h3v1h-3zM73 75h2v1h-2zM72 76h2v1h-2zM44 77h3v1h-3zM72 77h1v1h-1zM43 78h4v1h-4zM71 78h1v1h-1zM43 79h1v1h-1zM70 79h1v1h-1zM42 80h3v1h-3zM70 80h1v1h-1zM42 81h1v1h-1zM69 81h1v1h-1zM41 82h1v1h-1zM67 82h2v1h-2zM40 83h1v1h-1zM67 83h1v1h-1zM39 84h3v1h-3zM67 84h1v1h-1zM39 85h2v1h-2zM66 85h1v1h-1zM37 86h2v1h-2zM64 86h2v1h-2zM37 87h2v1h-2zM64 87h1v1h-1zM36 88h2v1h-2zM63 88h1v1h-1zM35 89h3v1h-3zM62 89h1v1h-1zM35 90h2v1h-2zM61 90h2v1h-2zM34 91h2v1h-2zM60 91h2v1h-2zM60 92h1v1h-1zM32 93h1v1h-1zM34 93h1v1h-1zM59 93h1v1h-1zM31 94h2v1h-2zM58 94h1v1h-1zM30 95h2v1h-2zM29 96h2v1h-2zM27 97h1v1h-1zM29 97h3v1h-3zM55 97h2v1h-2zM30 98h1v1h-1zM54 98h2v1h-2zM27 99h2v1h-2zM54 99h1v1h-1zM27 100h1v1h-1zM53 100h1v1h-1zM24 101h1v1h-1zM26 101h1v1h-1zM52 101h2v1h-2zM26 102h1v1h-1zM23 103h2v1h-2zM26 103h1v1h-1zM51 103h1v1h-1zM24 104h1v1h-1zM26 104h1v1h-1zM50 104h1v1h-1zM21 106h1v1h-1zM23 106h1v1h-1zM49 106h1v1h-1zM21 107h1v1h-1zM23 107h1v1h-1zM48 107h1v1h-1zM19 108h2v1h-2zM46 108h2v1h-2zM19 109h2v1h-2zM46 109h1v1h-1zM19 110h2v1h-2zM45 110h2v1h-2zM17 111h1v1h-1zM45 111h1v1h-1zM16 112h2v1h-2zM43 112h1v1h-1z"/>
<path fill="#331e5d" d="M92 0h2v1h-2zM86 1h2v1h-2zM91 1h3v1h-3zM86 2h2v1h-2zM91 2h1v1h-1zM85 3h1v1h-1zM90 3h1v1h-1zM85 4h1v1h-1zM88 4h3v1h-3zM130 4h1v1h-1zM90 5h1v1h-1zM84 7h1v1h-1zM81 9h1v1h-1zM83 9h1v1h-1zM126 9h1v1h-1zM82 10h1v1h-1zM78 11h5v1h-5zM76 12h8v1h-8zM124 12h2v1h-2zM64 13h1v1h-1zM71 13h1v1h-1zM75 13h2v1h-2zM78 13h1v1h-1zM81 13h1v1h-1zM67 14h11v1h-11zM61 15h1v1h-1zM63 15h1v1h-1zM65 15h2v1h-2zM68 15h2v1h-2zM74 15h2v1h-2zM77 15h1v1h-1zM79 15h1v1h-1zM62 16h6v1h-6zM71 16h1v1h-1zM73 16h1v1h-1zM122 16h1v1h-1zM60 17h1v1h-1zM62 17h3v1h-3zM67 17h1v1h-1zM69 17h1v1h-1zM121 17h1v1h-1zM56 18h7v1h-7zM64 18h1v1h-1zM57 19h3v1h-3zM61 19h2v1h-2zM120 19h1v1h-1zM55 20h2v1h-2zM58 20h1v1h-1zM61 20h1v1h-1zM120 20h1v1h-1zM51 21h1v1h-1zM54 21h4v1h-4zM61 21h1v1h-1zM119 21h1v1h-1zM27 22h1v1h-1zM53 22h1v1h-1zM55 22h1v1h-1zM27 23h1v1h-1zM51 23h4v1h-4zM118 23h1v1h-1zM27 24h1v1h-1zM47 24h1v1h-1zM49 24h4v1h-4zM54 24h1v1h-1zM26 25h2v1h-2zM49 25h2v1h-2zM52 25h1v1h-1zM27 26h1v1h-1zM47 26h4v1h-4zM55 26h1v1h-1zM116 26h1v1h-1zM26 27h1v1h-1zM46 27h1v1h-1zM48 27h3v1h-3zM52 27h1v1h-1zM115 27h2v1h-2zM26 28h1v1h-1zM46 28h2v1h-2zM49 28h1v1h-1zM115 28h1v1h-1zM46 29h4v1h-4zM114 29h1v1h-1zM46 30h4v1h-4zM44 31h3v1h-3zM48 31h1v1h-1zM42 32h2v1h-2zM46 32h1v1h-1zM48 32h1v1h-1zM26 33h1v1h-1zM44 33h1v1h-1zM111 33h2v1h-2zM42 34h1v1h-1zM45 34h2v1h-2zM48 34h1v1h-1zM110 34h2v1h-2zM44 35h2v1h-2zM109 35h1v1h-1zM43 36h2v1h-2zM44 37h4v1h-4zM43 38h3v1h-3zM47 38h1v1h-1zM28 39h1v1h-1zM43 39h5v1h-5zM106 39h1v1h-1zM42 40h1v1h-1zM45 40h2v1h-2zM105 40h2v1h-2zM26 41h1v1h-1zM44 41h2v1h-2zM47 41h1v1h-1zM42 42h1v1h-1zM44 42h2v1h-2zM47 42h1v1h-1zM104 42h1v1h-1zM27 43h1v1h-1zM44 43h3v1h-3zM102 43h1v1h-1zM46 44h3v1h-3zM102 44h1v1h-1zM46 45h4v1h-4zM101 45h1v1h-1zM47 46h2v1h-2zM51 46h1v1h-1zM100 46h1v1h-1zM47 47h6v1h-6zM48 48h4v1h-4zM98 48h1v1h-1zM49 49h3v1h-3zM53 49h1v1h-1zM55 49h1v1h-1zM97 49h2v1h-2zM52 50h3v1h-3zM96 50h2v1h-2zM50 51h2v1h-2zM54 51h4v1h-4zM55 52h2v1h-2zM58 52h1v1h-1zM56 53h1v1h-1zM94 53h1v1h-1zM56 54h2v1h-2zM93 54h1v1h-1zM56 55h1v1h-1zM58 55h2v1h-2zM92 55h1v1h-1zM58 56h3v1h-3zM57 57h1v1h-1zM59 57h1v1h-1zM90 57h2v1h-2zM59 58h2v1h-2zM90 58h1v1h-1zM58 59h1v1h-1zM57 60h2v1h-2zM87 60h1v1h-1zM56 61h2v1h-2zM59 61h1v1h-1zM86 61h1v1h-1zM57 62h1v1h-1zM85 62h2v1h-2zM57 63h1v1h-1zM84 63h1v1h-1zM56 64h1v1h-1zM83 64h1v1h-1zM54 65h2v1h-2zM82 65h1v1h-1zM54 66h1v1h-1zM54 67h1v1h-1zM80 67h1v1h-1zM53 68h2v1h-2zM79 68h1v1h-1zM52 69h2v1h-2zM78 69h1v1h-1zM51 70h2v1h-2zM51 71h1v1h-1zM50 72h2v1h-2zM49 73h1v1h-1zM74 73h2v1h-2zM47 74h1v1h-1zM49 75h1v1h-1zM46 76h2v1h-2zM47 77h1v1h-1zM71 77h1v1h-1zM70 78h1v1h-1zM44 79h2v1h-2zM45 80h1v1h-1zM69 80h1v1h-1zM43 81h3v1h-3zM68 81h1v1h-1zM42 82h1v1h-1zM41 83h2v1h-2zM66 83h1v1h-1zM65 84h2v1h-2zM41 85h1v1h-1zM65 85h1v1h-1zM39 86h1v1h-1zM39 87h2v1h-2zM63 87h1v1h-1zM39 88h1v1h-1zM62 88h1v1h-1zM38 89h1v1h-1zM61 89h1v1h-1zM37 90h1v1h-1zM36 91h1v1h-1zM59 91h1v1h-1zM33 92h3v1h-3zM33 93h1v1h-1zM57 93h2v1h-2zM33 94h2v1h-2zM57 94h1v1h-1zM32 95h1v1h-1zM56 95h2v1h-2zM31 96h1v1h-1zM55 96h2v1h-2zM32 97h1v1h-1zM29 98h1v1h-1zM31 98h1v1h-1zM29 99h2v1h-2zM53 99h1v1h-1zM28 100h1v1h-1zM52 100h1v1h-1zM27 101h2v1h-2zM51 101h1v1h-1zM27 102h1v1h-1zM51 102h1v1h-1zM25 103h1v1h-1zM50 103h1v1h-1zM25 104h1v1h-1zM49 104h1v1h-1zM24 105h1v1h-1zM48 105h2v1h-2zM22 106h1v1h-1zM24 106h1v1h-1zM47 106h2v1h-2zM22 107h1v1h-1zM25 107h1v1h-1zM47 107h1v1h-1zM21 108h3v1h-3zM45 108h1v1h-1zM21 109h1v1h-1zM45 109h1v1h-1zM21 110h1v1h-1zM44 110h1v1h-1zM19 111h3v1h-3zM44 111h1v1h-1zM18 112h3v1h-3z"/>
<path fill="#352165" d="M95 0h2v1h-2zM98 0h1v1h-1zM94 1h2v1h-2zM92 2h2v1h-2zM86 3h1v1h-1zM88 3h1v1h-1zM91 3h2v1h-2zM130 3h1v1h-1zM91 4h1v1h-1zM85 5h1v1h-1zM88 5h2v1h-2zM129 5h1v1h-1zM89 6h2v1h-2zM84 8h1v1h-1zM84 9h1v1h-1zM83 10h1v1h-1zM125 10h1v1h-1zM83 11h1v1h-1zM79 13h1v1h-1zM82 13h2v1h-2zM123 13h1v1h-1zM78 14h3v1h-3zM82 14h1v1h-1zM122 14h1v1h-1zM70 15h4v1h-4zM76 15h1v1h-1zM78 15h1v1h-1zM80 15h2v1h-2zM122 15h1v1h-1zM68 16h3v1h-3zM72 16h1v1h-1zM74 16h2v1h-2zM79 16h1v1h-1zM121 16h1v1h-1zM65 17h2v1h-2zM68 17h1v1h-1zM70 17h1v1h-1zM73 17h2v1h-2zM77 17h1v1h-1zM63 18h1v1h-1zM66 18h2v1h-2zM69 18h3v1h-3zM73 18h1v1h-1zM120 18h1v1h-1zM56 19h1v1h-1zM60 19h1v1h-1zM64 19h2v1h-2zM68 19h1v1h-1zM59 20h2v1h-2zM63 20h3v1h-3zM119 20h1v1h-1zM58 21h3v1h-3zM118 21h1v1h-1zM56 22h3v1h-3zM60 22h2v1h-2zM118 22h1v1h-1zM55 23h2v1h-2zM53 24h1v1h-1zM55 24h3v1h-3zM51 25h1v1h-1zM53 25h1v1h-1zM55 25h2v1h-2zM116 25h1v1h-1zM51 26h4v1h-4zM115 26h1v1h-1zM27 27h1v1h-1zM51 27h1v1h-1zM54 27h2v1h-2zM27 28h1v1h-1zM48 28h1v1h-1zM50 28h3v1h-3zM114 28h1v1h-1zM26 29h2v1h-2zM50 29h1v1h-1zM53 29h1v1h-1zM26 30h2v1h-2zM50 30h3v1h-3zM113 30h1v1h-1zM26 31h1v1h-1zM47 31h1v1h-1zM49 31h1v1h-1zM26 32h1v1h-1zM47 32h1v1h-1zM49 32h1v1h-1zM111 32h1v1h-1zM27 33h1v1h-1zM46 33h3v1h-3zM26 34h1v1h-1zM47 34h1v1h-1zM50 34h1v1h-1zM26 35h1v1h-1zM46 35h5v1h-5zM26 36h1v1h-1zM45 36h2v1h-2zM48 36h1v1h-1zM108 36h1v1h-1zM26 37h1v1h-1zM48 37h2v1h-2zM107 37h1v1h-1zM46 38h1v1h-1zM48 38h2v1h-2zM105 38h2v1h-2zM48 39h3v1h-3zM105 39h1v1h-1zM26 40h1v1h-1zM47 40h3v1h-3zM27 41h1v1h-1zM46 41h1v1h-1zM48 41h1v1h-1zM103 41h2v1h-2zM27 42h1v1h-1zM46 42h1v1h-1zM48 42h2v1h-2zM103 42h1v1h-1zM47 43h4v1h-4zM49 44h2v1h-2zM52 44h1v1h-1zM101 44h1v1h-1zM50 45h2v1h-2zM100 45h1v1h-1zM50 46h1v1h-1zM52 46h3v1h-3zM99 46h1v1h-1zM53 47h1v1h-1zM52 48h4v1h-4zM52 49h1v1h-1zM54 49h1v1h-1zM56 49h3v1h-3zM55 50h3v1h-3zM95 50h1v1h-1zM58 51h1v1h-1zM95 51h1v1h-1zM57 52h1v1h-1zM59 52h2v1h-2zM95 52h1v1h-1zM57 53h4v1h-4zM58 54h4v1h-4zM61 55h1v1h-1zM91 55h1v1h-1zM91 56h1v1h-1zM58 57h1v1h-1zM60 57h1v1h-1zM89 57h1v1h-1zM61 58h1v1h-1zM88 58h1v1h-1zM59 59h2v1h-2zM87 59h2v1h-2zM59 60h1v1h-1zM58 61h1v1h-1zM58 62h1v1h-1zM84 62h1v1h-1zM57 64h1v1h-1zM56 65h1v1h-1zM81 65h1v1h-1zM55 66h2v1h-2zM80 66h1v1h-1zM55 67h1v1h-1zM79 67h1v1h-1zM78 68h1v1h-1zM54 69h1v1h-1zM77 69h1v1h-1zM53 70h1v1h-1zM76 70h2v1h-2zM52 71h1v1h-1zM76 71h1v1h-1zM75 72h1v1h-1zM51 73h1v1h-1zM49 74h2v1h-2zM73 74h1v1h-1zM72 75h1v1h-1zM48 76h2v1h-2zM71 76h1v1h-1zM48 77h2v1h-2zM70 77h1v1h-1zM47 78h1v1h-1zM46 79h1v1h-1zM69 79h1v1h-1zM46 80h1v1h-1zM68 80h1v1h-1zM67 81h1v1h-1zM43 82h2v1h-2zM66 82h1v1h-1zM43 83h2v1h-2zM65 83h1v1h-1zM42 84h1v1h-1zM42 85h1v1h-1zM64 85h1v1h-1zM40 86h2v1h-2zM63 86h1v1h-1zM62 87h1v1h-1zM38 88h1v1h-1zM61 88h1v1h-1zM39 89h1v1h-1zM38 90h1v1h-1zM60 90h1v1h-1zM37 91h1v1h-1zM58 91h1v1h-1zM36 92h2v1h-2zM58 92h2v1h-2zM35 93h1v1h-1zM33 95h1v1h-1zM55 95h1v1h-1zM32 96h3v1h-3zM33 97h1v1h-1zM54 97h1v1h-1zM32 98h1v1h-1zM53 98h1v1h-1zM31 99h1v1h-1zM52 99h1v1h-1zM29 100h2v1h-2zM29 101h1v1h-1zM50 101h1v1h-1zM28 102h2v1h-2zM50 102h1v1h-1zM27 103h2v1h-2zM49 103h1v1h-1zM27 104h1v1h-1zM48 104h1v1h-1zM25 105h1v1h-1zM25 106h1v1h-1zM24 107h1v1h-1zM24 108h1v1h-1zM22 109h2v1h-2zM22 110h1v1h-1zM43 110h1v1h-1zM22 111h1v1h-1zM43 111h1v1h-1zM42 112h1v1h-1z"/>
<path fill="#36246c" d="M96 1h1v1h-1zM94 2h2v1h-2zM131 2h1v1h-1zM87 3h1v1h-1zM86 4h2v1h-2zM129 4h1v1h-1zM91 5h1v1h-1zM128 5h1v1h-1zM85 6h1v1h-1zM88 6h1v1h-1zM128 6h1v1h-1zM88 7h3v1h-3zM127 7h1v1h-1zM126 8h1v1h-1zM84 10h1v1h-1zM124 10h1v1h-1zM124 11h1v1h-1zM123 12h1v1h-1zM122 13h1v1h-1zM81 14h1v1h-1zM83 14h1v1h-1zM82 15h1v1h-1zM121 15h1v1h-1zM76 16h3v1h-3zM80 16h1v1h-1zM71 17h2v1h-2zM75 17h2v1h-2zM120 17h1v1h-1zM65 18h1v1h-1zM68 18h1v1h-1zM72 18h1v1h-1zM74 18h1v1h-1zM76 18h1v1h-1zM119 18h1v1h-1zM63 19h1v1h-1zM66 19h2v1h-2zM69 19h2v1h-2zM72 19h1v1h-1zM76 19h1v1h-1zM119 19h1v1h-1zM62 20h1v1h-1zM66 20h1v1h-1zM68 20h2v1h-2zM71 20h1v1h-1zM118 20h1v1h-1zM62 21h4v1h-4zM59 22h1v1h-1zM63 22h2v1h-2zM117 22h1v1h-1zM57 23h4v1h-4zM62 23h1v1h-1zM117 23h1v1h-1zM58 24h1v1h-1zM60 24h2v1h-2zM116 24h1v1h-1zM54 25h1v1h-1zM56 26h2v1h-2zM53 27h1v1h-1zM114 27h1v1h-1zM53 28h2v1h-2zM56 28h1v1h-1zM51 29h2v1h-2zM55 29h1v1h-1zM113 29h1v1h-1zM53 30h2v1h-2zM27 31h1v1h-1zM50 31h4v1h-4zM112 31h1v1h-1zM27 32h1v1h-1zM50 32h2v1h-2zM49 33h4v1h-4zM110 33h1v1h-1zM27 34h1v1h-1zM49 34h1v1h-1zM51 34h1v1h-1zM27 35h1v1h-1zM51 35h1v1h-1zM108 35h1v1h-1zM47 36h1v1h-1zM49 36h3v1h-3zM107 36h1v1h-1zM50 37h1v1h-1zM106 37h1v1h-1zM50 38h2v1h-2zM26 39h1v1h-1zM104 39h1v1h-1zM50 40h1v1h-1zM104 40h1v1h-1zM49 41h4v1h-4zM54 41h1v1h-1zM50 42h4v1h-4zM102 42h1v1h-1zM51 43h2v1h-2zM51 44h1v1h-1zM53 44h2v1h-2zM100 44h1v1h-1zM52 45h4v1h-4zM99 45h1v1h-1zM55 46h2v1h-2zM54 47h4v1h-4zM98 47h1v1h-1zM56 48h2v1h-2zM97 48h1v1h-1zM59 49h1v1h-1zM58 50h2v1h-2zM59 51h1v1h-1zM94 51h1v1h-1zM94 52h1v1h-1zM61 53h1v1h-1zM93 53h1v1h-1zM92 54h1v1h-1zM60 55h1v1h-1zM62 55h1v1h-1zM61 56h1v1h-1zM90 56h1v1h-1zM61 57h1v1h-1zM61 59h1v1h-1zM60 60h2v1h-2zM86 60h1v1h-1zM60 61h1v1h-1zM85 61h1v1h-1zM59 62h1v1h-1zM58 63h3v1h-3zM82 63h2v1h-2zM58 64h1v1h-1zM82 64h1v1h-1zM57 65h1v1h-1zM80 65h1v1h-1zM57 66h1v1h-1zM56 67h1v1h-1zM55 68h1v1h-1zM55 69h2v1h-2zM54 70h1v1h-1zM53 71h2v1h-2zM75 71h1v1h-1zM52 72h2v1h-2zM74 72h1v1h-1zM53 73h1v1h-1zM73 73h1v1h-1zM51 74h1v1h-1zM72 74h1v1h-1zM50 75h1v1h-1zM50 76h1v1h-1zM70 76h1v1h-1zM69 77h1v1h-1zM48 78h2v1h-2zM69 78h1v1h-1zM48 79h1v1h-1zM68 79h1v1h-1zM47 80h1v1h-1zM67 80h1v1h-1zM66 81h1v1h-1zM45 82h1v1h-1zM43 84h1v1h-1zM64 84h1v1h-1zM43 85h1v1h-1zM63 85h1v1h-1zM42 86h1v1h-1zM62 86h1v1h-1zM41 87h1v1h-1zM61 87h1v1h-1zM40 88h2v1h-2zM40 89h1v1h-1zM60 89h1v1h-1zM39 90h1v1h-1zM58 90h2v1h-2zM38 91h2v1h-2zM38 92h1v1h-1zM57 92h1v1h-1zM36 93h1v1h-1zM56 93h1v1h-1zM35 94h1v1h-1zM55 94h2v1h-2zM34 95h2v1h-2zM34 97h1v1h-1zM52 98h1v1h-1zM32 99h1v1h-1zM31 100h1v1h-1zM51 100h1v1h-1zM30 101h2v1h-2zM30 102h1v1h-1zM49 102h1v1h-1zM29 103h1v1h-1zM28 104h1v1h-1zM26 105h2v1h-2zM47 105h1v1h-1zM26 106h1v1h-1zM46 106h1v1h-1zM26 107h1v1h-1zM45 107h2v1h-2zM24 109h1v1h-1zM44 109h1v1h-1zM23 110h1v1h-1zM42 111h1v1h-1zM21 112h2v1h-2zM41 112h1v1h-1z"/>
<path fill="#382773" d="M97 0h1v1h-1zM99 0h1v1h-1zM97 1h1v1h-1zM131 1h1v1h-1zM96 2h1v1h-1zM130 2h1v1h-1zM93 3h4v1h-4zM129 3h1v1h-1zM92 4h1v1h-1zM86 5h2v1h-2zM91 6h1v1h-1zM127 6h1v1h-1zM85 7h1v1h-1zM91 7h1v1h-1zM126 7h1v1h-1zM85 8h1v1h-1zM89 8h2v1h-2zM125 8h1v1h-1zM89 9h2v1h-2zM125 9h1v1h-1zM84 11h1v1h-1zM123 11h1v1h-1zM84 12h1v1h-1zM83 15h1v1h-1zM81 16h3v1h-3zM78 17h5v1h-5zM75 18h1v1h-1zM77 18h3v1h-3zM71 19h1v1h-1zM74 19h2v1h-2zM77 19h1v1h-1zM79 19h2v1h-2zM67 20h1v1h-1zM70 20h1v1h-1zM72 20h2v1h-2zM66 21h5v1h-5zM117 21h1v1h-1zM62 22h1v1h-1zM65 22h6v1h-6zM61 23h1v1h-1zM63 23h2v1h-2zM66 23h2v1h-2zM116 23h1v1h-1zM59 24h1v1h-1zM62 24h4v1h-4zM57 25h5v1h-5zM115 25h1v1h-1zM58 26h3v1h-3zM114 26h1v1h-1zM56 27h2v1h-2zM59 27h1v1h-1zM55 28h1v1h-1zM57 28h1v1h-1zM59 28h2v1h-2zM54 29h1v1h-1zM56 29h1v1h-1zM58 29h1v1h-1zM55 30h1v1h-1zM57 30h2v1h-2zM112 30h1v1h-1zM54 31h1v1h-1zM111 31h1v1h-1zM52 32h6v1h-6zM53 33h3v1h-3zM52 34h3v1h-3zM56 34h1v1h-1zM108 34h2v1h-2zM27 36h1v1h-1zM52 36h2v1h-2zM51 37h2v1h-2zM54 37h1v1h-1zM26 38h1v1h-1zM52 38h2v1h-2zM51 39h2v1h-2zM54 39h1v1h-1zM27 40h1v1h-1zM51 40h2v1h-2zM54 40h2v1h-2zM53 41h1v1h-1zM54 42h2v1h-2zM53 43h2v1h-2zM56 43h1v1h-1zM100 43h2v1h-2zM55 44h1v1h-1zM56 45h1v1h-1zM98 45h1v1h-1zM57 46h2v1h-2zM98 46h1v1h-1zM59 47h1v1h-1zM58 48h3v1h-3zM96 48h1v1h-1zM60 49h2v1h-2zM95 49h2v1h-2zM60 50h2v1h-2zM60 51h3v1h-3zM61 52h2v1h-2zM93 52h1v1h-1zM62 53h1v1h-1zM92 53h1v1h-1zM62 54h1v1h-1zM90 55h1v1h-1zM62 56h1v1h-1zM89 56h1v1h-1zM62 57h1v1h-1zM88 57h1v1h-1zM62 58h1v1h-1zM87 58h1v1h-1zM86 59h1v1h-1zM85 60h1v1h-1zM61 61h1v1h-1zM60 62h1v1h-1zM83 62h1v1h-1zM59 64h1v1h-1zM81 64h1v1h-1zM58 65h2v1h-2zM58 66h1v1h-1zM79 66h1v1h-1zM57 67h1v1h-1zM78 67h1v1h-1zM56 68h2v1h-2zM77 68h1v1h-1zM76 69h1v1h-1zM55 70h1v1h-1zM75 70h1v1h-1zM54 72h1v1h-1zM52 73h1v1h-1zM52 74h1v1h-1zM51 75h2v1h-2zM70 75h2v1h-2zM50 77h1v1h-1zM47 79h1v1h-1zM49 79h1v1h-1zM67 79h1v1h-1zM48 80h1v1h-1zM66 80h1v1h-1zM46 81h2v1h-2zM46 82h1v1h-1zM65 82h1v1h-1zM45 83h2v1h-2zM64 83h1v1h-1zM44 84h2v1h-2zM63 84h1v1h-1zM43 86h1v1h-1zM42 87h1v1h-1zM60 88h1v1h-1zM41 89h1v1h-1zM59 89h1v1h-1zM40 90h1v1h-1zM40 91h1v1h-1zM39 92h1v1h-1zM37 93h2v1h-2zM36 94h2v1h-2zM54 95h1v1h-1zM35 96h1v1h-1zM54 96h1v1h-1zM35 97h1v1h-1zM53 97h1v1h-1zM33 98h2v1h-2zM33 99h1v1h-1zM51 99h1v1h-1zM32 100h1v1h-1zM50 100h1v1h-1zM32 101h1v1h-1zM49 101h1v1h-1zM30 103h1v1h-1zM48 103h1v1h-1zM29 104h1v1h-1zM47 104h1v1h-1zM28 105h1v1h-1zM28 106h1v1h-1zM25 108h2v1h-2zM44 108h1v1h-1zM25 109h1v1h-1zM43 109h1v1h-1zM24 110h1v1h-1zM42 110h1v1h-1zM23 111h1v1h-1zM23 112h1v1h-1z"/>
<path fill="#392a7a" d="M131 0h1v1h-1zM130 1h1v1h-1zM97 2h2v1h-2zM129 2h1v1h-1zM93 4h4v1h-4zM128 4h1v1h-1zM92 5h2v1h-2zM127 5h1v1h-1zM87 6h1v1h-1zM126 6h1v1h-1zM88 8h1v1h-1zM124 9h1v1h-1zM85 10h1v1h-1zM89 10h1v1h-1zM122 12h1v1h-1zM121 14h1v1h-1zM120 16h1v1h-1zM83 17h1v1h-1zM119 17h1v1h-1zM80 18h3v1h-3zM73 19h1v1h-1zM78 19h1v1h-1zM81 19h1v1h-1zM118 19h1v1h-1zM74 20h5v1h-5zM71 21h1v1h-1zM73 21h3v1h-3zM71 22h2v1h-2zM116 22h1v1h-1zM65 23h1v1h-1zM68 23h2v1h-2zM66 24h1v1h-1zM115 24h1v1h-1zM62 25h4v1h-4zM61 26h3v1h-3zM65 26h1v1h-1zM58 27h1v1h-1zM60 27h3v1h-3zM58 28h1v1h-1zM113 28h1v1h-1zM57 29h1v1h-1zM112 29h1v1h-1zM56 30h1v1h-1zM60 30h1v1h-1zM111 30h1v1h-1zM55 31h4v1h-4zM58 32h1v1h-1zM110 32h1v1h-1zM56 33h1v1h-1zM109 33h1v1h-1zM55 34h1v1h-1zM52 35h5v1h-5zM58 35h1v1h-1zM107 35h1v1h-1zM54 36h2v1h-2zM27 37h1v1h-1zM53 37h1v1h-1zM55 37h1v1h-1zM105 37h1v1h-1zM54 38h2v1h-2zM27 39h1v1h-1zM53 39h1v1h-1zM55 39h1v1h-1zM53 40h1v1h-1zM103 40h1v1h-1zM55 41h1v1h-1zM102 41h1v1h-1zM57 42h2v1h-2zM101 42h1v1h-1zM55 43h1v1h-1zM57 43h1v1h-1zM56 44h4v1h-4zM99 44h1v1h-1zM57 45h3v1h-3zM60 46h1v1h-1zM58 47h1v1h-1zM60 47h1v1h-1zM97 47h1v1h-1zM61 48h1v1h-1zM62 50h1v1h-1zM93 51h1v1h-1zM63 52h1v1h-1zM63 53h1v1h-1zM91 53h1v1h-1zM63 54h1v1h-1zM90 54h2v1h-2zM89 55h1v1h-1zM63 56h1v1h-1zM63 57h1v1h-1zM62 59h2v1h-2zM62 60h1v1h-1zM84 61h1v1h-1zM61 62h1v1h-1zM61 63h1v1h-1zM80 64h1v1h-1zM79 65h1v1h-1zM59 66h1v1h-1zM78 66h1v1h-1zM77 67h1v1h-1zM76 68h1v1h-1zM57 69h1v1h-1zM55 71h1v1h-1zM74 71h1v1h-1zM73 72h1v1h-1zM72 73h1v1h-1zM53 74h1v1h-1zM71 74h1v1h-1zM51 76h1v1h-1zM68 77h1v1h-1zM50 78h1v1h-1zM68 78h1v1h-1zM65 81h1v1h-1zM47 82h1v1h-1zM44 85h1v1h-1zM44 86h1v1h-1zM61 86h1v1h-1zM43 87h1v1h-1zM42 88h2v1h-2zM42 89h1v1h-1zM41 90h1v1h-1zM56 91h2v1h-2zM55 93h1v1h-1zM36 95h2v1h-2zM53 95h1v1h-1zM36 96h1v1h-1zM53 96h1v1h-1zM36 97h1v1h-1zM52 97h1v1h-1zM51 98h1v1h-1zM34 99h1v1h-1zM48 102h1v1h-1zM31 103h1v1h-1zM30 104h2v1h-2zM29 105h1v1h-1zM46 105h1v1h-1zM27 106h1v1h-1zM29 106h1v1h-1zM45 106h1v1h-1zM27 107h1v1h-1zM44 107h1v1h-1zM27 108h1v1h-1zM43 108h1v1h-1zM26 109h1v1h-1zM25 110h1v1h-1zM24 111h2v1h-2zM41 111h1v1h-1zM40 112h1v1h-1z"/>
<path fill="#3b2d81" d="M98 1h2v1h-2zM97 3h1v1h-1zM94 5h1v1h-1zM96 5h1v1h-1zM86 6h1v1h-1zM92 6h3v1h-3zM86 7h2v1h-2zM125 7h1v1h-1zM87 8h1v1h-1zM91 8h1v1h-1zM124 8h1v1h-1zM85 9h1v1h-1zM88 9h1v1h-1zM90 10h1v1h-1zM89 11h1v1h-1zM84 13h1v1h-1zM121 13h1v1h-1zM84 14h1v1h-1zM120 15h1v1h-1zM119 16h1v1h-1zM118 18h1v1h-1zM79 20h3v1h-3zM117 20h1v1h-1zM72 21h1v1h-1zM76 21h3v1h-3zM73 22h2v1h-2zM76 22h1v1h-1zM70 23h1v1h-1zM74 23h1v1h-1zM115 23h1v1h-1zM67 24h4v1h-4zM72 24h1v1h-1zM66 25h4v1h-4zM64 26h1v1h-1zM66 26h2v1h-2zM63 27h2v1h-2zM113 27h1v1h-1zM61 28h2v1h-2zM112 28h1v1h-1zM59 29h3v1h-3zM59 30h1v1h-1zM61 30h1v1h-1zM59 31h2v1h-2zM110 31h1v1h-1zM59 32h2v1h-2zM57 33h2v1h-2zM60 33h1v1h-1zM57 34h2v1h-2zM57 35h1v1h-1zM56 36h3v1h-3zM106 36h1v1h-1zM56 37h2v1h-2zM27 38h1v1h-1zM56 38h2v1h-2zM104 38h1v1h-1zM56 39h2v1h-2zM103 39h1v1h-1zM56 40h1v1h-1zM56 41h3v1h-3zM56 42h1v1h-1zM59 42h1v1h-1zM100 42h1v1h-1zM58 43h1v1h-1zM60 44h1v1h-1zM60 45h1v1h-1zM59 46h1v1h-1zM62 47h1v1h-1zM62 48h1v1h-1zM95 48h1v1h-1zM94 50h1v1h-1zM63 51h1v1h-1zM92 52h1v1h-1zM64 53h1v1h-1zM64 54h1v1h-1zM63 55h2v1h-2zM64 56h1v1h-1zM88 56h1v1h-1zM64 57h1v1h-1zM87 57h1v1h-1zM63 58h2v1h-2zM86 58h1v1h-1zM64 59h1v1h-1zM85 59h1v1h-1zM84 60h1v1h-1zM62 61h1v1h-1zM83 61h1v1h-1zM62 62h1v1h-1zM82 62h1v1h-1zM60 64h2v1h-2zM60 66h1v1h-1zM58 67h2v1h-2zM58 68h1v1h-1zM75 69h1v1h-1zM56 70h2v1h-2zM74 70h1v1h-1zM56 71h1v1h-1zM55 72h1v1h-1zM54 73h1v1h-1zM70 74h1v1h-1zM53 75h1v1h-1zM52 76h1v1h-1zM69 76h1v1h-1zM51 77h2v1h-2zM67 77h1v1h-1zM51 78h1v1h-1zM67 78h1v1h-1zM50 79h1v1h-1zM66 79h1v1h-1zM48 81h2v1h-2zM48 82h1v1h-1zM64 82h1v1h-1zM63 83h1v1h-1zM46 84h2v1h-2zM62 84h1v1h-1zM45 85h2v1h-2zM61 85h2v1h-2zM44 87h1v1h-1zM60 87h1v1h-1zM44 88h1v1h-1zM59 88h1v1h-1zM58 89h1v1h-1zM42 90h1v1h-1zM41 91h1v1h-1zM40 92h1v1h-1zM56 92h1v1h-1zM39 93h1v1h-1zM38 94h2v1h-2zM54 94h1v1h-1zM38 95h1v1h-1zM37 96h1v1h-1zM35 98h1v1h-1zM50 98h1v1h-1zM49 99h2v1h-2zM33 100h2v1h-2zM34 101h1v1h-1zM48 101h1v1h-1zM31 102h1v1h-1zM33 102h1v1h-1zM32 103h1v1h-1zM47 103h1v1h-1zM46 104h1v1h-1zM30 105h1v1h-1zM45 105h1v1h-1zM28 107h2v1h-2zM28 108h1v1h-1zM42 108h1v1h-1zM26 110h1v1h-1zM26 111h1v1h-1zM40 111h1v1h-1zM24 112h1v1h-1z"/>
<path fill="#3c3188" d="M100 0h2v1h-2zM130 0h1v1h-1zM128 3h1v1h-1zM97 4h1v1h-1zM127 4h1v1h-1zM95 5h1v1h-1zM92 7h1v1h-1zM91 9h1v1h-1zM88 10h1v1h-1zM123 10h1v1h-1zM85 11h1v1h-1zM90 11h1v1h-1zM122 11h1v1h-1zM89 12h1v1h-1zM121 12h1v1h-1zM120 14h1v1h-1zM84 15h1v1h-1zM84 16h1v1h-1zM118 17h1v1h-1zM83 18h1v1h-1zM82 19h1v1h-1zM117 19h1v1h-1zM116 20h1v1h-1zM79 21h3v1h-3zM75 22h1v1h-1zM77 22h2v1h-2zM80 22h1v1h-1zM71 23h3v1h-3zM75 23h1v1h-1zM71 24h1v1h-1zM74 24h1v1h-1zM114 25h1v1h-1zM113 26h1v1h-1zM66 27h2v1h-2zM63 28h3v1h-3zM62 29h2v1h-2zM111 29h1v1h-1zM62 30h1v1h-1zM62 31h1v1h-1zM61 32h1v1h-1zM109 32h1v1h-1zM61 33h1v1h-1zM59 34h2v1h-2zM60 35h1v1h-1zM59 36h1v1h-1zM105 36h1v1h-1zM58 37h3v1h-3zM58 38h1v1h-1zM58 39h1v1h-1zM57 40h3v1h-3zM102 40h1v1h-1zM59 41h1v1h-1zM101 41h1v1h-1zM59 43h1v1h-1zM97 45h1v1h-1zM61 46h2v1h-2zM97 46h1v1h-1zM61 47h1v1h-1zM96 47h1v1h-1zM63 48h1v1h-1zM62 49h3v1h-3zM94 49h1v1h-1zM63 50h1v1h-1zM93 50h1v1h-1zM92 51h1v1h-1zM64 52h2v1h-2zM91 52h1v1h-1zM90 53h1v1h-1zM65 54h1v1h-1zM65 55h1v1h-1zM85 58h1v1h-1zM63 60h2v1h-2zM63 61h1v1h-1zM81 63h1v1h-1zM62 64h1v1h-1zM60 65h2v1h-2zM78 65h1v1h-1zM59 68h1v1h-1zM73 71h1v1h-1zM56 72h1v1h-1zM55 73h1v1h-1zM71 73h1v1h-1zM54 74h2v1h-2zM54 75h1v1h-1zM68 76h1v1h-1zM53 77h1v1h-1zM65 79h1v1h-1zM49 80h3v1h-3zM65 80h1v1h-1zM49 82h1v1h-1zM47 83h2v1h-2zM61 84h1v1h-1zM45 86h1v1h-1zM60 86h1v1h-1zM59 87h1v1h-1zM58 88h1v1h-1zM43 89h1v1h-1zM57 89h1v1h-1zM43 90h1v1h-1zM56 90h2v1h-2zM41 92h1v1h-1zM55 92h1v1h-1zM40 93h2v1h-2zM54 93h1v1h-1zM53 94h1v1h-1zM38 96h1v1h-1zM52 96h1v1h-1zM51 97h1v1h-1zM36 98h2v1h-2zM35 99h2v1h-2zM35 100h1v1h-1zM49 100h1v1h-1zM33 101h1v1h-1zM32 102h1v1h-1zM34 102h1v1h-1zM47 102h1v1h-1zM46 103h1v1h-1zM44 106h1v1h-1zM43 107h1v1h-1zM27 109h2v1h-2zM41 109h2v1h-2zM41 110h1v1h-1zM25 112h1v1h-1zM39 112h1v1h-1z"/>
<path fill="#3e348e" d="M100 1h1v1h-1zM99 2h2v1h-2zM128 2h1v1h-1zM98 3h2v1h-2zM97 5h1v1h-1zM126 5h1v1h-1zM95 6h2v1h-2zM125 6h1v1h-1zM93 7h2v1h-2zM86 8h1v1h-1zM92 8h1v1h-1zM86 9h2v1h-2zM123 9h1v1h-1zM88 11h1v1h-1zM121 11h1v1h-1zM88 12h1v1h-1zM90 12h1v1h-1zM120 13h1v1h-1zM119 15h1v1h-1zM83 19h1v1h-1zM82 20h2v1h-2zM82 21h1v1h-1zM116 21h1v1h-1zM115 22h1v1h-1zM76 23h2v1h-2zM73 24h1v1h-1zM75 24h1v1h-1zM114 24h1v1h-1zM70 25h1v1h-1zM73 25h1v1h-1zM68 26h3v1h-3zM65 27h1v1h-1zM68 27h2v1h-2zM64 29h2v1h-2zM63 30h2v1h-2zM61 31h1v1h-1zM63 31h2v1h-2zM62 32h2v1h-2zM59 33h1v1h-1zM108 33h1v1h-1zM61 34h1v1h-1zM107 34h1v1h-1zM59 35h1v1h-1zM62 35h1v1h-1zM106 35h1v1h-1zM60 36h2v1h-2zM61 37h1v1h-1zM59 38h2v1h-2zM59 39h1v1h-1zM60 40h1v1h-1zM60 41h2v1h-2zM60 42h2v1h-2zM60 43h2v1h-2zM61 44h2v1h-2zM61 45h1v1h-1zM96 46h1v1h-1zM63 47h1v1h-1zM64 50h2v1h-2zM64 51h2v1h-2zM65 53h2v1h-2zM66 54h1v1h-1zM89 54h1v1h-1zM88 55h1v1h-1zM65 56h1v1h-1zM87 56h1v1h-1zM65 57h1v1h-1zM86 57h1v1h-1zM65 58h2v1h-2zM84 59h1v1h-1zM65 60h1v1h-1zM83 60h1v1h-1zM82 61h1v1h-1zM63 62h1v1h-1zM81 62h1v1h-1zM62 63h1v1h-1zM80 63h1v1h-1zM79 64h1v1h-1zM77 66h1v1h-1zM60 67h1v1h-1zM76 67h1v1h-1zM60 68h1v1h-1zM75 68h1v1h-1zM58 69h1v1h-1zM74 69h1v1h-1zM58 70h1v1h-1zM73 70h1v1h-1zM57 71h1v1h-1zM72 72h1v1h-1zM56 73h1v1h-1zM70 73h1v1h-1zM56 74h1v1h-1zM69 74h1v1h-1zM68 75h2v1h-2zM53 76h1v1h-1zM52 78h1v1h-1zM51 79h1v1h-1zM64 80h1v1h-1zM50 81h1v1h-1zM63 81h2v1h-2zM63 82h1v1h-1zM62 83h1v1h-1zM47 85h1v1h-1zM60 85h1v1h-1zM46 86h1v1h-1zM45 87h1v1h-1zM45 88h1v1h-1zM44 89h1v1h-1zM44 90h1v1h-1zM42 91h1v1h-1zM40 94h1v1h-1zM39 95h1v1h-1zM39 96h1v1h-1zM51 96h1v1h-1zM37 97h1v1h-1zM38 98h1v1h-1zM37 99h1v1h-1zM36 100h1v1h-1zM48 100h1v1h-1zM47 101h1v1h-1zM32 104h1v1h-1zM45 104h1v1h-1zM31 105h1v1h-1zM44 105h1v1h-1zM30 106h1v1h-1zM29 108h1v1h-1zM29 109h1v1h-1zM27 110h1v1h-1zM40 110h1v1h-1zM27 111h1v1h-1zM38 112h1v1h-1z"/>
<path fill="#3f3795" d="M101 1h1v1h-1zM129 1h1v1h-1zM127 3h1v1h-1zM98 4h1v1h-1zM98 5h1v1h-1zM125 5h1v1h-1zM95 7h3v1h-3zM124 7h1v1h-1zM95 8h1v1h-1zM92 9h1v1h-1zM87 10h1v1h-1zM122 10h1v1h-1zM91 11h1v1h-1zM85 12h1v1h-1zM85 13h1v1h-1zM89 13h1v1h-1zM119 14h1v1h-1zM118 16h1v1h-1zM84 17h1v1h-1zM117 18h1v1h-1zM79 22h1v1h-1zM82 22h1v1h-1zM78 23h2v1h-2zM114 23h1v1h-1zM76 24h3v1h-3zM71 25h2v1h-2zM74 25h1v1h-1zM71 26h1v1h-1zM112 27h1v1h-1zM66 28h3v1h-3zM66 29h1v1h-1zM65 30h1v1h-1zM110 30h1v1h-1zM65 31h1v1h-1zM109 31h1v1h-1zM64 32h1v1h-1zM62 33h2v1h-2zM63 34h1v1h-1zM61 35h1v1h-1zM62 37h1v1h-1zM104 37h1v1h-1zM61 38h2v1h-2zM103 38h1v1h-1zM60 39h3v1h-3zM102 39h1v1h-1zM61 40h2v1h-2zM101 40h1v1h-1zM62 41h1v1h-1zM100 41h1v1h-1zM62 42h1v1h-1zM62 43h1v1h-1zM99 43h1v1h-1zM63 44h1v1h-1zM98 44h1v1h-1zM62 45h2v1h-2zM63 46h1v1h-1zM64 47h1v1h-1zM95 47h1v1h-1zM64 48h1v1h-1zM94 48h1v1h-1zM65 49h1v1h-1zM66 56h1v1h-1zM65 59h1v1h-1zM64 61h1v1h-1zM64 62h1v1h-1zM63 63h2v1h-2zM79 63h1v1h-1zM63 64h1v1h-1zM62 65h1v1h-1zM77 65h1v1h-1zM61 66h1v1h-1zM76 66h1v1h-1zM75 67h1v1h-1zM74 68h1v1h-1zM59 69h1v1h-1zM59 70h1v1h-1zM58 71h1v1h-1zM72 71h1v1h-1zM57 72h2v1h-2zM71 72h1v1h-1zM56 75h1v1h-1zM54 76h1v1h-1zM53 78h1v1h-1zM66 78h1v1h-1zM52 79h1v1h-1zM52 80h1v1h-1zM51 81h1v1h-1zM50 82h1v1h-1zM62 82h1v1h-1zM49 83h2v1h-2zM61 83h1v1h-1zM48 84h2v1h-2zM48 85h1v1h-1zM59 85h1v1h-1zM47 86h1v1h-1zM59 86h1v1h-1zM58 87h1v1h-1zM46 88h1v1h-1zM57 88h1v1h-1zM56 89h1v1h-1zM45 90h1v1h-1zM43 91h1v1h-1zM55 91h1v1h-1zM42 92h1v1h-1zM54 92h1v1h-1zM53 93h1v1h-1zM41 94h1v1h-1zM52 94h1v1h-1zM40 95h1v1h-1zM51 95h2v1h-2zM40 96h1v1h-1zM38 97h2v1h-2zM50 97h1v1h-1zM49 98h1v1h-1zM35 101h1v1h-1zM46 101h1v1h-1zM46 102h1v1h-1zM33 103h1v1h-1zM45 103h1v1h-1zM33 104h1v1h-1zM44 104h1v1h-1zM32 105h2v1h-2zM43 105h1v1h-1zM31 106h1v1h-1zM42 106h2v1h-2zM30 107h2v1h-2zM42 107h1v1h-1zM30 108h1v1h-1zM41 108h1v1h-1zM40 109h1v1h-1zM28 110h1v1h-1zM39 110h1v1h-1zM39 111h1v1h-1zM26 112h2v1h-2z"/>
<path fill="#403a9b" d="M102 0h1v1h-1zM128 1h1v1h-1zM127 2h1v1h-1zM126 4h1v1h-1zM97 6h1v1h-1zM93 8h2v1h-2zM123 8h1v1h-1zM122 9h1v1h-1zM86 10h1v1h-1zM91 10h1v1h-1zM120 12h1v1h-1zM88 13h1v1h-1zM90 13h1v1h-1zM85 14h1v1h-1zM89 14h2v1h-2zM89 15h1v1h-1zM117 17h1v1h-1zM116 19h1v1h-1zM83 21h1v1h-1zM115 21h1v1h-1zM81 22h1v1h-1zM80 23h1v1h-1zM75 25h2v1h-2zM113 25h1v1h-1zM72 26h1v1h-1zM74 26h2v1h-2zM112 26h1v1h-1zM70 27h2v1h-2zM69 28h2v1h-2zM111 28h1v1h-1zM67 29h1v1h-1zM70 29h1v1h-1zM66 30h1v1h-1zM66 31h1v1h-1zM65 32h1v1h-1zM108 32h1v1h-1zM64 33h2v1h-2zM107 33h1v1h-1zM62 34h1v1h-1zM64 34h1v1h-1zM63 35h1v1h-1zM62 36h2v1h-2zM63 40h1v1h-1zM63 41h1v1h-1zM63 42h1v1h-1zM99 42h1v1h-1zM64 46h1v1h-1zM65 47h1v1h-1zM66 50h1v1h-1zM92 50h1v1h-1zM66 51h1v1h-1zM66 52h1v1h-1zM90 52h1v1h-1zM66 55h2v1h-2zM66 57h1v1h-1zM81 61h1v1h-1zM78 64h1v1h-1zM62 66h1v1h-1zM61 67h2v1h-2zM61 68h1v1h-1zM73 69h1v1h-1zM72 70h1v1h-1zM59 71h1v1h-1zM71 71h1v1h-1zM70 72h1v1h-1zM57 73h1v1h-1zM57 74h1v1h-1zM55 75h1v1h-1zM67 76h1v1h-1zM54 77h2v1h-2zM66 77h1v1h-1zM53 79h1v1h-1zM63 79h2v1h-2zM63 80h1v1h-1zM62 81h1v1h-1zM51 82h1v1h-1zM51 83h1v1h-1zM50 84h1v1h-1zM60 84h1v1h-1zM49 85h1v1h-1zM48 86h1v1h-1zM58 86h1v1h-1zM46 87h2v1h-2zM56 88h1v1h-1zM45 89h1v1h-1zM55 89h1v1h-1zM55 90h1v1h-1zM44 91h1v1h-1zM43 92h1v1h-1zM53 92h1v1h-1zM42 93h2v1h-2zM42 94h1v1h-1zM51 94h1v1h-1zM41 95h1v1h-1zM50 96h1v1h-1zM40 97h1v1h-1zM49 97h1v1h-1zM39 98h1v1h-1zM48 98h1v1h-1zM38 99h1v1h-1zM47 99h2v1h-2zM37 100h1v1h-1zM47 100h1v1h-1zM36 101h1v1h-1zM36 102h1v1h-1zM34 103h1v1h-1zM44 103h1v1h-1zM43 104h1v1h-1zM32 106h1v1h-1zM41 107h1v1h-1zM40 108h1v1h-1zM30 109h1v1h-1zM29 110h2v1h-2zM28 111h2v1h-2zM28 112h1v1h-1zM37 112h1v1h-1z"/>
<path fill="#423da1" d="M129 0h1v1h-1zM100 3h1v1h-1zM99 4h1v1h-1zM124 6h1v1h-1zM96 8h1v1h-1zM93 9h3v1h-3zM92 10h1v1h-1zM95 10h1v1h-1zM121 10h1v1h-1zM87 11h1v1h-1zM91 12h1v1h-1zM89 16h1v1h-1zM117 16h1v1h-1zM84 18h1v1h-1zM84 19h1v1h-1zM114 22h1v1h-1zM82 23h1v1h-1zM79 24h3v1h-3zM77 25h2v1h-2zM73 26h1v1h-1zM76 26h1v1h-1zM73 27h2v1h-2zM71 28h1v1h-1zM68 29h2v1h-2zM72 29h1v1h-1zM110 29h1v1h-1zM67 30h3v1h-3zM109 30h1v1h-1zM67 31h1v1h-1zM66 32h1v1h-1zM65 34h1v1h-1zM106 34h1v1h-1zM104 36h1v1h-1zM63 37h2v1h-2zM63 38h1v1h-1zM63 39h1v1h-1zM64 41h1v1h-1zM64 42h1v1h-1zM63 43h2v1h-2zM97 44h1v1h-1zM64 45h1v1h-1zM96 45h1v1h-1zM65 46h1v1h-1zM65 48h2v1h-2zM66 49h1v1h-1zM93 49h1v1h-1zM91 51h1v1h-1zM67 52h1v1h-1zM89 53h1v1h-1zM67 54h1v1h-1zM88 54h1v1h-1zM87 55h1v1h-1zM85 57h1v1h-1zM67 58h1v1h-1zM84 58h1v1h-1zM66 59h1v1h-1zM83 59h1v1h-1zM66 60h1v1h-1zM82 60h1v1h-1zM65 61h1v1h-1zM80 62h1v1h-1zM64 64h1v1h-1zM77 64h1v1h-1zM63 65h1v1h-1zM76 65h1v1h-1zM75 66h1v1h-1zM74 67h1v1h-1zM60 69h1v1h-1zM60 70h2v1h-2zM71 70h1v1h-1zM59 72h1v1h-1zM58 73h1v1h-1zM69 73h1v1h-1zM58 74h1v1h-1zM68 74h1v1h-1zM55 76h1v1h-1zM66 76h1v1h-1zM65 77h1v1h-1zM54 78h2v1h-2zM65 78h1v1h-1zM53 80h1v1h-1zM52 81h1v1h-1zM52 82h2v1h-2zM61 82h1v1h-1zM60 83h1v1h-1zM52 84h1v1h-1zM50 85h1v1h-1zM57 87h1v1h-1zM47 88h2v1h-2zM46 89h2v1h-2zM54 91h1v1h-1zM51 92h1v1h-1zM44 93h1v1h-1zM52 93h1v1h-1zM43 94h1v1h-1zM50 95h1v1h-1zM41 96h1v1h-1zM48 97h1v1h-1zM40 98h1v1h-1zM39 99h1v1h-1zM38 100h2v1h-2zM46 100h1v1h-1zM37 101h1v1h-1zM35 102h1v1h-1zM37 102h1v1h-1zM44 102h2v1h-2zM35 103h1v1h-1zM34 104h2v1h-2zM34 105h1v1h-1zM42 105h1v1h-1zM33 106h2v1h-2zM33 107h1v1h-1zM40 107h1v1h-1zM31 108h1v1h-1zM35 108h1v1h-1zM31 109h2v1h-2zM38 109h2v1h-2zM38 111h1v1h-1zM36 112h1v1h-1z"/>
<path fill="#4340a7" d="M101 2h2v1h-2zM101 3h1v1h-1zM126 3h1v1h-1zM100 4h1v1h-1zM99 5h1v1h-1zM98 6h1v1h-1zM98 7h1v1h-1zM123 7h1v1h-1zM97 8h1v1h-1zM93 10h1v1h-1zM87 12h1v1h-1zM119 13h1v1h-1zM88 14h1v1h-1zM88 15h1v1h-1zM118 15h1v1h-1zM116 17h1v1h-1zM116 18h1v1h-1zM115 20h1v1h-1zM81 23h1v1h-1zM113 24h1v1h-1zM79 25h2v1h-2zM77 26h2v1h-2zM72 27h1v1h-1zM75 27h1v1h-1zM111 27h1v1h-1zM72 28h2v1h-2zM71 29h1v1h-1zM70 30h1v1h-1zM69 31h1v1h-1zM108 31h1v1h-1zM68 32h1v1h-1zM107 32h1v1h-1zM66 33h1v1h-1zM66 34h1v1h-1zM64 35h1v1h-1zM66 35h1v1h-1zM105 35h1v1h-1zM64 36h2v1h-2zM103 37h1v1h-1zM65 38h1v1h-1zM102 38h1v1h-1zM64 40h1v1h-1zM65 41h1v1h-1zM98 43h1v1h-1zM64 44h1v1h-1zM65 45h1v1h-1zM95 46h1v1h-1zM66 47h1v1h-1zM94 47h1v1h-1zM67 50h1v1h-1zM91 50h1v1h-1zM67 51h1v1h-1zM67 53h2v1h-2zM67 56h1v1h-1zM86 56h1v1h-1zM67 57h1v1h-1zM67 61h1v1h-1zM80 61h1v1h-1zM65 62h1v1h-1zM79 62h1v1h-1zM65 63h1v1h-1zM78 63h1v1h-1zM64 65h1v1h-1zM63 66h1v1h-1zM62 68h1v1h-1zM73 68h1v1h-1zM61 69h2v1h-2zM72 69h1v1h-1zM60 71h1v1h-1zM69 72h1v1h-1zM59 73h1v1h-1zM57 75h1v1h-1zM66 75h2v1h-2zM56 76h2v1h-2zM65 76h1v1h-1zM56 77h1v1h-1zM56 78h1v1h-1zM64 78h1v1h-1zM54 80h1v1h-1zM62 80h1v1h-1zM53 81h1v1h-1zM52 83h1v1h-1zM59 84h1v1h-1zM57 85h2v1h-2zM49 86h1v1h-1zM57 86h1v1h-1zM48 87h1v1h-1zM55 87h1v1h-1zM49 88h1v1h-1zM54 88h2v1h-2zM48 89h1v1h-1zM54 89h1v1h-1zM46 90h1v1h-1zM48 90h1v1h-1zM54 90h1v1h-1zM45 91h2v1h-2zM52 91h2v1h-2zM44 92h2v1h-2zM45 93h1v1h-1zM51 93h1v1h-1zM45 94h1v1h-1zM50 94h1v1h-1zM42 95h1v1h-1zM48 95h2v1h-2zM42 96h2v1h-2zM49 96h1v1h-1zM43 97h1v1h-1zM47 97h1v1h-1zM41 98h1v1h-1zM46 98h1v1h-1zM40 99h1v1h-1zM46 99h1v1h-1zM41 100h1v1h-1zM38 101h1v1h-1zM41 101h1v1h-1zM44 101h2v1h-2zM38 102h1v1h-1zM42 102h2v1h-2zM36 103h1v1h-1zM43 103h1v1h-1zM36 104h1v1h-1zM35 105h1v1h-1zM35 106h1v1h-1zM40 106h2v1h-2zM32 107h1v1h-1zM32 108h2v1h-2zM39 108h1v1h-1zM31 110h2v1h-2zM38 110h1v1h-1zM37 111h1v1h-1zM29 112h2v1h-2zM35 112h1v1h-1z"/>
<path fill="#4443ad" d="M103 0h1v1h-1zM102 1h2v1h-2zM124 5h1v1h-1zM99 6h1v1h-1zM122 8h1v1h-1zM96 9h1v1h-1zM94 10h1v1h-1zM86 11h1v1h-1zM92 11h1v1h-1zM120 11h1v1h-1zM86 12h1v1h-1zM86 13h1v1h-1zM85 15h1v1h-1zM90 15h1v1h-1zM89 17h1v1h-1zM115 19h1v1h-1zM114 20h1v1h-1zM84 21h1v1h-1zM114 21h1v1h-1zM83 22h1v1h-1zM81 25h1v1h-1zM112 25h1v1h-1zM74 28h1v1h-1zM110 28h1v1h-1zM109 29h1v1h-1zM71 30h1v1h-1zM68 31h1v1h-1zM70 31h1v1h-1zM67 32h1v1h-1zM70 32h1v1h-1zM67 33h2v1h-2zM65 35h1v1h-1zM65 37h1v1h-1zM64 38h1v1h-1zM64 39h1v1h-1zM100 40h1v1h-1zM65 42h1v1h-1zM98 42h1v1h-1zM65 43h1v1h-1zM97 43h1v1h-1zM65 44h1v1h-1zM96 44h1v1h-1zM66 46h1v1h-1zM93 48h1v1h-1zM92 49h1v1h-1zM68 51h1v1h-1zM90 51h1v1h-1zM68 52h1v1h-1zM68 54h1v1h-1zM68 56h1v1h-1zM68 58h1v1h-1zM66 61h1v1h-1zM66 62h1v1h-1zM65 64h1v1h-1zM76 64h1v1h-1zM65 65h2v1h-2zM65 66h1v1h-1zM63 67h2v1h-2zM63 68h1v1h-1zM72 68h1v1h-1zM69 71h2v1h-2zM60 72h1v1h-1zM68 72h1v1h-1zM68 73h1v1h-1zM59 74h1v1h-1zM67 74h1v1h-1zM58 75h1v1h-1zM58 76h1v1h-1zM57 77h1v1h-1zM54 79h2v1h-2zM55 80h1v1h-1zM54 81h1v1h-1zM60 81h2v1h-2zM55 82h1v1h-1zM60 82h1v1h-1zM53 83h2v1h-2zM57 83h3v1h-3zM51 84h1v1h-1zM53 84h1v1h-1zM55 84h1v1h-1zM58 84h1v1h-1zM52 85h1v1h-1zM56 85h1v1h-1zM50 86h2v1h-2zM49 87h1v1h-1zM56 87h1v1h-1zM53 88h1v1h-1zM47 90h1v1h-1zM50 90h1v1h-1zM52 90h2v1h-2zM47 91h2v1h-2zM46 92h1v1h-1zM49 92h1v1h-1zM52 92h1v1h-1zM46 93h2v1h-2zM44 94h1v1h-1zM43 95h3v1h-3zM48 96h1v1h-1zM41 97h2v1h-2zM44 97h1v1h-1zM44 98h1v1h-1zM47 98h1v1h-1zM41 99h1v1h-1zM40 100h1v1h-1zM44 100h2v1h-2zM40 101h1v1h-1zM42 101h1v1h-1zM39 102h1v1h-1zM37 103h2v1h-2zM41 103h2v1h-2zM38 104h3v1h-3zM42 104h1v1h-1zM36 105h1v1h-1zM40 105h2v1h-2zM36 106h1v1h-1zM38 106h2v1h-2zM35 107h1v1h-1zM37 108h2v1h-2zM34 109h1v1h-1zM37 109h1v1h-1zM34 110h1v1h-1zM37 110h1v1h-1zM30 111h2v1h-2zM34 111h1v1h-1z"/>
<path fill="#4546b2" d="M104 0h1v1h-1zM128 0h1v1h-1zM127 1h1v1h-1zM101 4h1v1h-1zM125 4h1v1h-1zM100 5h1v1h-1zM123 6h1v1h-1zM96 10h1v1h-1zM120 10h1v1h-1zM93 11h1v1h-1zM95 11h1v1h-1zM91 13h1v1h-1zM118 14h1v1h-1zM88 16h1v1h-1zM90 16h1v1h-1zM84 20h1v1h-1zM83 23h1v1h-1zM113 23h1v1h-1zM82 24h1v1h-1zM82 25h1v1h-1zM79 26h1v1h-1zM76 27h1v1h-1zM75 28h2v1h-2zM74 29h1v1h-1zM71 31h1v1h-1zM69 32h1v1h-1zM106 33h1v1h-1zM67 34h1v1h-1zM67 35h1v1h-1zM66 37h1v1h-1zM65 39h1v1h-1zM101 39h1v1h-1zM66 45h1v1h-1zM67 46h1v1h-1zM67 47h1v1h-1zM67 48h1v1h-1zM67 49h2v1h-2zM68 50h1v1h-1zM68 55h1v1h-1zM67 59h2v1h-2zM67 60h1v1h-1zM68 61h1v1h-1zM66 63h1v1h-1zM77 63h1v1h-1zM66 64h1v1h-1zM75 65h1v1h-1zM64 66h1v1h-1zM74 66h1v1h-1zM72 67h2v1h-2zM64 68h1v1h-1zM63 69h1v1h-1zM71 69h1v1h-1zM62 70h2v1h-2zM68 70h1v1h-1zM70 70h1v1h-1zM61 71h2v1h-2zM68 71h1v1h-1zM61 72h1v1h-1zM60 73h1v1h-1zM67 73h1v1h-1zM64 74h1v1h-1zM60 75h1v1h-1zM64 76h1v1h-1zM63 77h2v1h-2zM57 78h2v1h-2zM56 79h1v1h-1zM58 79h1v1h-1zM56 80h2v1h-2zM61 80h1v1h-1zM55 81h1v1h-1zM54 82h1v1h-1zM56 82h1v1h-1zM57 84h1v1h-1zM51 85h1v1h-1zM53 85h2v1h-2zM52 86h3v1h-3zM50 87h3v1h-3zM54 87h1v1h-1zM51 88h1v1h-1zM49 89h2v1h-2zM53 89h1v1h-1zM49 90h1v1h-1zM51 91h1v1h-1zM50 92h1v1h-1zM48 93h3v1h-3zM46 94h4v1h-4zM44 96h4v1h-4zM45 97h2v1h-2zM42 98h2v1h-2zM45 98h1v1h-1zM42 99h1v1h-1zM44 99h2v1h-2zM43 100h1v1h-1zM40 102h2v1h-2zM39 103h2v1h-2zM37 104h1v1h-1zM41 104h1v1h-1zM37 105h2v1h-2zM37 106h1v1h-1zM34 107h1v1h-1zM36 107h1v1h-1zM38 107h2v1h-2zM34 108h1v1h-1zM33 109h1v1h-1zM36 109h1v1h-1zM33 110h1v1h-1zM36 110h1v1h-1zM32 111h2v1h-2zM35 111h2v1h-2zM32 112h3v1h-3z"/>
<path fill="#4749b8" d="M105 0h1v1h-1zM103 2h1v1h-1zM126 2h1v1h-1zM102 3h1v1h-1zM125 3h1v1h-1zM99 7h1v1h-1zM122 7h1v1h-1zM98 8h1v1h-1zM121 8h1v1h-1zM97 9h1v1h-1zM121 9h1v1h-1zM97 10h1v1h-1zM92 12h1v1h-1zM94 12h1v1h-1zM87 13h1v1h-1zM86 14h1v1h-1zM91 14h1v1h-1zM117 15h1v1h-1zM85 16h1v1h-1zM116 16h1v1h-1zM90 17h1v1h-1zM112 24h1v1h-1zM80 26h2v1h-2zM111 26h1v1h-1zM77 27h2v1h-2zM73 29h1v1h-1zM76 29h1v1h-1zM72 30h1v1h-1zM108 30h1v1h-1zM71 32h1v1h-1zM69 33h2v1h-2zM68 34h1v1h-1zM105 34h1v1h-1zM66 36h2v1h-2zM67 37h1v1h-1zM66 38h1v1h-1zM67 39h1v1h-1zM65 40h2v1h-2zM99 41h1v1h-1zM66 42h1v1h-1zM66 43h2v1h-2zM66 44h1v1h-1zM67 45h1v1h-1zM91 49h1v1h-1zM89 52h1v1h-1zM69 53h1v1h-1zM88 53h1v1h-1zM69 54h1v1h-1zM87 54h1v1h-1zM69 55h1v1h-1zM86 55h1v1h-1zM69 56h1v1h-1zM85 56h1v1h-1zM68 57h1v1h-1zM84 57h1v1h-1zM69 59h1v1h-1zM82 59h1v1h-1zM68 60h2v1h-2zM81 60h1v1h-1zM67 62h1v1h-1zM78 62h1v1h-1zM67 63h1v1h-1zM75 64h1v1h-1zM65 67h1v1h-1zM66 68h1v1h-1zM64 69h1v1h-1zM69 69h1v1h-1zM69 70h1v1h-1zM62 73h2v1h-2zM61 74h1v1h-1zM65 74h2v1h-2zM59 75h1v1h-1zM65 75h1v1h-1zM59 76h2v1h-2zM62 76h1v1h-1zM58 77h3v1h-3zM62 77h1v1h-1zM61 78h1v1h-1zM63 78h1v1h-1zM57 79h1v1h-1zM60 79h3v1h-3zM58 80h2v1h-2zM56 81h2v1h-2zM59 81h1v1h-1zM57 82h3v1h-3zM55 83h1v1h-1zM54 84h1v1h-1zM55 85h1v1h-1zM56 86h1v1h-1zM53 87h1v1h-1zM50 88h1v1h-1zM52 88h1v1h-1zM52 89h1v1h-1zM51 90h1v1h-1zM49 91h1v1h-1zM47 92h2v1h-2zM46 95h1v1h-1zM43 99h1v1h-1zM42 100h1v1h-1zM39 101h1v1h-1zM43 101h1v1h-1zM39 105h1v1h-1zM37 107h1v1h-1zM36 108h1v1h-1zM35 109h1v1h-1zM35 110h1v1h-1zM31 112h1v1h-1z"/>
<path fill="#484cbd" d="M103 3h1v1h-1zM102 4h1v1h-1zM124 4h1v1h-1zM101 5h1v1h-1zM100 6h1v1h-1zM100 7h1v1h-1zM94 11h1v1h-1zM93 12h1v1h-1zM96 12h1v1h-1zM119 12h1v1h-1zM118 13h1v1h-1zM87 14h1v1h-1zM117 14h1v1h-1zM91 15h1v1h-1zM85 17h1v1h-1zM89 18h1v1h-1zM115 18h1v1h-1zM84 22h1v1h-1zM113 22h1v1h-1zM83 24h1v1h-1zM111 25h1v1h-1zM79 27h1v1h-1zM81 27h1v1h-1zM110 27h1v1h-1zM77 28h1v1h-1zM75 29h1v1h-1zM73 30h1v1h-1zM72 31h1v1h-1zM69 34h1v1h-1zM68 35h1v1h-1zM104 35h1v1h-1zM68 36h1v1h-1zM103 36h1v1h-1zM102 37h1v1h-1zM67 38h1v1h-1zM101 38h1v1h-1zM66 39h1v1h-1zM66 41h2v1h-2zM67 42h1v1h-1zM67 44h1v1h-1zM95 45h1v1h-1zM94 46h1v1h-1zM68 48h1v1h-1zM69 50h1v1h-1zM90 50h1v1h-1zM69 52h1v1h-1zM69 57h1v1h-1zM83 58h1v1h-1zM79 61h1v1h-1zM68 62h1v1h-1zM77 62h1v1h-1zM76 63h1v1h-1zM67 64h1v1h-1zM67 65h1v1h-1zM73 65h2v1h-2zM72 66h2v1h-2zM67 67h1v1h-1zM71 67h1v1h-1zM65 68h1v1h-1zM65 69h2v1h-2zM70 69h1v1h-1zM64 70h2v1h-2zM63 71h1v1h-1zM66 71h2v1h-2zM62 72h2v1h-2zM67 72h1v1h-1zM61 73h1v1h-1zM65 73h2v1h-2zM60 74h1v1h-1zM61 75h1v1h-1zM63 75h2v1h-2zM61 76h1v1h-1zM63 76h1v1h-1zM61 77h1v1h-1zM60 78h1v1h-1zM62 78h1v1h-1zM59 79h1v1h-1zM60 80h1v1h-1zM58 81h1v1h-1zM56 83h1v1h-1zM56 84h1v1h-1zM55 86h1v1h-1zM51 89h1v1h-1zM50 91h1v1h-1zM47 95h1v1h-1z"/>
<path fill="#494fc3" d="M104 1h1v1h-1zM120 9h1v1h-1zM96 11h1v1h-1zM119 11h1v1h-1zM95 12h1v1h-1zM118 12h1v1h-1zM92 13h1v1h-1zM86 15h2v1h-2zM88 17h1v1h-1zM115 17h1v1h-1zM90 18h1v1h-1zM114 19h1v1h-1zM113 21h1v1h-1zM112 22h1v1h-1zM112 23h1v1h-1zM80 27h1v1h-1zM109 28h1v1h-1zM75 30h1v1h-1zM73 31h2v1h-2zM107 31h1v1h-1zM106 32h1v1h-1zM71 33h1v1h-1zM100 39h1v1h-1zM67 40h1v1h-1zM99 40h1v1h-1zM68 41h1v1h-1zM98 41h1v1h-1zM68 42h1v1h-1zM68 45h1v1h-1zM68 46h1v1h-1zM68 47h1v1h-1zM93 47h1v1h-1zM69 51h1v1h-1zM70 54h1v1h-1zM69 58h1v1h-1zM80 60h1v1h-1zM68 63h1v1h-1zM68 64h2v1h-2zM74 64h1v1h-1zM68 65h1v1h-1zM66 67h1v1h-1zM70 67h1v1h-1zM67 68h1v1h-1zM70 68h2v1h-2zM67 69h2v1h-2zM66 70h2v1h-2zM64 71h1v1h-1zM64 72h1v1h-1zM66 72h1v1h-1zM64 73h1v1h-1zM62 74h2v1h-2zM62 75h1v1h-1zM59 78h1v1h-1z"/>
<path fill="#4a52c8" d="M127 0h1v1h-1zM126 1h1v1h-1zM104 2h1v1h-1zM99 8h1v1h-1zM98 9h1v1h-1zM98 10h1v1h-1zM119 10h1v1h-1zM97 11h1v1h-1zM93 13h2v1h-2zM85 18h1v1h-1zM88 18h1v1h-1zM90 19h1v1h-1zM111 24h1v1h-1zM83 25h1v1h-1zM82 26h1v1h-1zM78 28h1v1h-1zM80 28h1v1h-1zM78 29h1v1h-1zM108 29h1v1h-1zM74 30h1v1h-1zM72 32h1v1h-1zM70 34h1v1h-1zM104 34h1v1h-1zM69 35h2v1h-2zM70 36h1v1h-1zM68 37h1v1h-1zM68 38h1v1h-1zM68 40h1v1h-1zM97 42h1v1h-1zM68 44h1v1h-1zM92 48h1v1h-1zM69 49h1v1h-1zM89 51h1v1h-1zM70 52h1v1h-1zM70 56h1v1h-1zM70 57h1v1h-1zM70 58h1v1h-1zM80 59h2v1h-2zM70 60h1v1h-1zM69 61h1v1h-1zM69 62h1v1h-1zM76 62h1v1h-1zM69 63h1v1h-1zM75 63h1v1h-1zM69 65h1v1h-1zM72 65h1v1h-1zM66 66h2v1h-2zM69 67h1v1h-1zM69 68h1v1h-1zM65 71h1v1h-1zM65 72h1v1h-1z"/>
<path fill="#4b55cc" d="M106 0h1v1h-1zM126 0h1v1h-1zM105 1h1v1h-1zM125 2h1v1h-1zM124 3h1v1h-1zM103 5h1v1h-1zM123 5h1v1h-1zM101 6h1v1h-1zM122 6h1v1h-1zM121 7h1v1h-1zM97 12h1v1h-1zM96 13h1v1h-1zM117 13h1v1h-1zM92 14h1v1h-1zM94 14h1v1h-1zM86 16h2v1h-2zM88 19h2v1h-2zM113 20h1v1h-1zM110 26h1v1h-1zM109 27h1v1h-1zM79 28h1v1h-1zM77 29h1v1h-1zM76 31h1v1h-1zM106 31h1v1h-1zM73 32h1v1h-1zM105 33h1v1h-1zM71 34h1v1h-1zM103 35h1v1h-1zM69 36h1v1h-1zM69 37h2v1h-2zM69 38h1v1h-1zM68 39h1v1h-1zM68 43h1v1h-1zM95 44h1v1h-1zM69 45h1v1h-1zM69 46h1v1h-1zM69 48h1v1h-1zM70 50h1v1h-1zM70 51h1v1h-1zM88 52h1v1h-1zM70 53h1v1h-1zM87 53h1v1h-1zM71 54h1v1h-1zM70 55h1v1h-1zM83 57h1v1h-1zM82 58h1v1h-1zM70 59h2v1h-2zM79 60h1v1h-1zM70 61h1v1h-1zM77 61h2v1h-2zM70 62h1v1h-1zM74 63h1v1h-1zM71 64h1v1h-1zM73 64h1v1h-1zM70 65h2v1h-2zM68 66h1v1h-1zM71 66h1v1h-1zM68 68h1v1h-1z"/>
<path fill="#4c58d0" d="M105 2h1v1h-1zM104 3h2v1h-2zM102 5h1v1h-1zM102 6h1v1h-1zM101 7h1v1h-1zM100 8h1v1h-1zM99 9h1v1h-1zM118 11h1v1h-1zM95 13h1v1h-1zM95 14h1v1h-1zM92 15h1v1h-1zM116 15h1v1h-1zM91 16h1v1h-1zM114 18h1v1h-1zM85 19h1v1h-1zM89 20h1v1h-1zM110 25h1v1h-1zM83 26h1v1h-1zM82 27h1v1h-1zM81 28h1v1h-1zM79 29h1v1h-1zM76 30h2v1h-2zM74 32h1v1h-1zM72 33h1v1h-1zM72 35h1v1h-1zM102 36h1v1h-1zM101 37h1v1h-1zM69 39h1v1h-1zM99 39h1v1h-1zM98 40h1v1h-1zM96 43h1v1h-1zM69 47h1v1h-1zM91 48h1v1h-1zM86 54h1v1h-1zM85 55h1v1h-1zM71 56h1v1h-1zM84 56h1v1h-1zM71 57h1v1h-1zM71 60h1v1h-1zM78 60h1v1h-1zM71 61h1v1h-1zM71 62h1v1h-1zM75 62h1v1h-1zM71 63h1v1h-1zM73 63h1v1h-1zM70 64h1v1h-1zM72 64h1v1h-1zM69 66h1v1h-1zM68 67h1v1h-1z"/>
<path fill="#4d5bd3" d="M106 1h1v1h-1zM103 4h1v1h-1zM123 4h1v1h-1zM122 5h1v1h-1zM98 11h1v1h-1zM98 12h1v1h-1zM96 14h1v1h-1zM116 14h1v1h-1zM93 15h1v1h-1zM115 16h1v1h-1zM91 17h1v1h-1zM114 17h1v1h-1zM113 19h1v1h-1zM90 20h1v1h-1zM112 21h1v1h-1zM84 23h1v1h-1zM111 23h1v1h-1zM84 24h1v1h-1zM78 30h1v1h-1zM107 30h1v1h-1zM75 31h1v1h-1zM77 31h1v1h-1zM73 33h1v1h-1zM72 34h1v1h-1zM71 35h1v1h-1zM71 36h1v1h-1zM70 38h1v1h-1zM100 38h1v1h-1zM69 40h2v1h-2zM97 41h1v1h-1zM69 43h2v1h-2zM69 44h1v1h-1zM94 45h1v1h-1zM93 46h1v1h-1zM92 47h1v1h-1zM70 48h1v1h-1zM70 49h1v1h-1zM90 49h1v1h-1zM89 50h1v1h-1zM71 53h1v1h-1zM71 55h1v1h-1zM71 58h1v1h-1zM81 58h1v1h-1zM72 59h1v1h-1zM72 61h1v1h-1zM76 61h1v1h-1zM72 62h2v1h-2zM70 63h1v1h-1zM72 63h1v1h-1zM70 66h1v1h-1z"/>
<path fill="#4e5ed7" d="M107 0h1v1h-1zM125 1h1v1h-1zM101 8h1v1h-1zM120 8h1v1h-1zM119 9h1v1h-1zM99 10h1v1h-1zM99 11h1v1h-1zM117 12h1v1h-1zM97 13h1v1h-1zM116 13h1v1h-1zM93 14h1v1h-1zM94 15h1v1h-1zM96 15h1v1h-1zM87 17h1v1h-1zM88 20h1v1h-1zM112 20h1v1h-1zM111 22h1v1h-1zM80 29h1v1h-1zM75 32h1v1h-1zM105 32h1v1h-1zM104 33h1v1h-1zM71 37h1v1h-1zM69 41h1v1h-1zM69 42h1v1h-1zM70 45h1v1h-1zM71 52h1v1h-1zM72 54h1v1h-1zM72 56h1v1h-1zM72 58h1v1h-1zM73 59h1v1h-1zM79 59h1v1h-1zM77 60h1v1h-1zM73 61h1v1h-1zM75 61h1v1h-1zM74 62h1v1h-1z"/>
<path fill="#4f61da" d="M107 1h1v1h-1zM107 2h1v1h-1zM124 2h1v1h-1zM104 4h1v1h-1zM103 6h1v1h-1zM121 6h1v1h-1zM100 9h1v1h-1zM118 10h1v1h-1zM115 15h1v1h-1zM92 16h1v1h-1zM114 16h1v1h-1zM91 18h1v1h-1zM85 20h1v1h-1zM89 21h2v1h-2zM109 26h1v1h-1zM83 27h1v1h-1zM82 28h1v1h-1zM108 28h1v1h-1zM107 29h1v1h-1zM79 30h1v1h-1zM76 32h1v1h-1zM74 33h1v1h-1zM70 39h1v1h-1zM70 41h1v1h-1zM70 42h1v1h-1zM96 42h1v1h-1zM95 43h1v1h-1zM70 44h1v1h-1zM70 46h1v1h-1zM91 47h1v1h-1zM71 51h1v1h-1zM72 53h1v1h-1zM72 57h1v1h-1zM72 60h2v1h-2zM75 60h1v1h-1zM74 61h1v1h-1z"/>
<path fill="#5164dd" d="M108 0h1v1h-1zM106 3h1v1h-1zM123 3h1v1h-1zM120 7h1v1h-1zM102 8h1v1h-1zM119 8h1v1h-1zM101 9h1v1h-1zM100 10h1v1h-1zM95 15h1v1h-1zM94 16h2v1h-2zM86 17h1v1h-1zM86 18h2v1h-2zM89 22h1v1h-1zM107 28h1v1h-1zM73 34h1v1h-1zM103 34h1v1h-1zM102 35h1v1h-1zM72 36h1v1h-1zM70 47h1v1h-1zM71 49h1v1h-1zM71 50h1v1h-1zM88 51h1v1h-1zM72 55h1v1h-1zM73 56h1v1h-1zM73 57h1v1h-1zM82 57h1v1h-1zM73 58h2v1h-2zM78 59h1v1h-1zM74 60h1v1h-1z"/>
<path fill="#5267e1" d="M125 0h1v1h-1zM106 2h1v1h-1zM105 4h1v1h-1zM104 5h1v1h-1zM103 7h1v1h-1zM102 9h1v1h-1zM100 11h1v1h-1zM117 11h1v1h-1zM97 14h2v1h-2zM96 16h1v1h-1zM113 18h1v1h-1zM91 19h1v1h-1zM110 24h1v1h-1zM109 25h1v1h-1zM81 29h1v1h-1zM80 30h1v1h-1zM105 31h1v1h-1zM75 33h1v1h-1zM74 34h2v1h-2zM71 38h1v1h-1zM71 40h1v1h-1zM94 44h1v1h-1zM71 45h1v1h-1zM71 46h1v1h-1zM71 47h1v1h-1zM71 48h1v1h-1zM89 49h1v1h-1zM72 50h1v1h-1zM72 52h1v1h-1zM73 55h1v1h-1zM84 55h1v1h-1zM83 56h1v1h-1zM78 58h1v1h-1zM75 59h1v1h-1zM76 60h1v1h-1z"/>
<path fill="#526ae3" d="M109 0h1v1h-1zM108 1h1v1h-1zM122 4h1v1h-1zM121 5h1v1h-1zM120 6h1v1h-1zM102 7h1v1h-1zM119 7h1v1h-1zM118 9h1v1h-1zM99 12h1v1h-1zM116 12h1v1h-1zM93 16h1v1h-1zM92 17h1v1h-1zM86 19h2v1h-2zM112 19h1v1h-1zM111 21h1v1h-1zM90 22h1v1h-1zM110 23h1v1h-1zM84 25h1v1h-1zM108 26h1v1h-1zM108 27h1v1h-1zM82 29h1v1h-1zM78 31h1v1h-1zM77 32h1v1h-1zM73 35h1v1h-1zM73 36h1v1h-1zM72 37h1v1h-1zM100 37h1v1h-1zM72 38h1v1h-1zM99 38h1v1h-1zM71 39h1v1h-1zM97 40h1v1h-1zM71 43h1v1h-1zM90 48h1v1h-1zM72 51h1v1h-1zM73 52h1v1h-1zM87 52h1v1h-1zM73 53h1v1h-1zM74 57h1v1h-1zM80 57h2v1h-2zM80 58h1v1h-1zM74 59h1v1h-1zM76 59h2v1h-2z"/>
<path fill="#536de6" d="M124 1h1v1h-1zM122 3h1v1h-1zM105 5h1v1h-1zM104 6h2v1h-2zM103 8h1v1h-1zM118 8h1v1h-1zM101 10h1v1h-1zM117 10h1v1h-1zM100 12h1v1h-1zM98 13h1v1h-1zM115 14h1v1h-1zM97 15h1v1h-1zM114 15h1v1h-1zM95 17h2v1h-2zM113 17h1v1h-1zM92 18h1v1h-1zM91 20h1v1h-1zM85 21h1v1h-1zM88 21h1v1h-1zM85 22h1v1h-1zM109 24h1v1h-1zM83 28h1v1h-1zM81 30h1v1h-1zM106 30h1v1h-1zM79 31h1v1h-1zM104 32h1v1h-1zM101 35h1v1h-1zM101 36h1v1h-1zM73 37h1v1h-1zM98 39h1v1h-1zM71 42h1v1h-1zM71 44h2v1h-2zM72 49h1v1h-1zM86 53h1v1h-1zM73 54h1v1h-1zM85 54h1v1h-1zM74 55h1v1h-1zM74 56h1v1h-1zM75 57h1v1h-1zM75 58h3v1h-3zM79 58h1v1h-1z"/>
<path fill="#5470e9" d="M124 0h1v1h-1zM108 2h1v1h-1zM123 2h1v1h-1zM107 3h1v1h-1zM106 4h1v1h-1zM104 7h1v1h-1zM117 9h1v1h-1zM115 13h1v1h-1zM113 15h1v1h-1zM97 16h1v1h-1zM87 20h1v1h-1zM88 22h1v1h-1zM89 23h1v1h-1zM80 31h1v1h-1zM78 32h1v1h-1zM76 33h1v1h-1zM103 33h1v1h-1zM102 34h1v1h-1zM74 35h1v1h-1zM71 41h1v1h-1zM96 41h1v1h-1zM94 43h1v1h-1zM92 46h1v1h-1zM72 47h1v1h-1zM73 51h1v1h-1zM75 56h1v1h-1zM82 56h1v1h-1z"/>
<path fill="#5572eb" d="M123 1h1v1h-1zM121 4h1v1h-1zM106 5h1v1h-1zM103 9h1v1h-1zM102 10h1v1h-1zM101 11h1v1h-1zM99 13h1v1h-1zM99 14h1v1h-1zM93 17h2v1h-2zM93 18h1v1h-1zM112 18h1v1h-1zM111 20h1v1h-1zM110 21h1v1h-1zM110 22h1v1h-1zM104 31h1v1h-1zM74 36h1v1h-1zM73 38h1v1h-1zM72 39h1v1h-1zM72 40h1v1h-1zM95 42h1v1h-1zM93 45h1v1h-1zM72 46h1v1h-1zM72 48h1v1h-1zM74 54h1v1h-1zM79 57h1v1h-1z"/>
<path fill="#5675ee" d="M109 1h1v1h-1zM109 2h1v1h-1zM107 4h1v1h-1zM105 7h1v1h-1zM102 11h1v1h-1zM116 11h1v1h-1zM115 12h1v1h-1zM100 13h1v1h-1zM114 13h1v1h-1zM98 15h1v1h-1zM113 16h1v1h-1zM95 18h1v1h-1zM97 18h1v1h-1zM86 20h1v1h-1zM109 23h1v1h-1zM89 24h1v1h-1zM108 25h1v1h-1zM84 26h1v1h-1zM105 29h2v1h-2zM105 30h1v1h-1zM79 32h1v1h-1zM77 33h2v1h-2zM76 34h1v1h-1zM75 35h1v1h-1zM74 37h1v1h-1zM99 37h1v1h-1zM98 38h1v1h-1zM72 42h1v1h-1zM92 45h1v1h-1zM83 55h1v1h-1zM76 57h1v1h-1zM78 57h1v1h-1z"/>
<path fill="#5778f0" d="M110 0h1v1h-1zM123 0h1v1h-1zM110 1h1v1h-1zM108 3h1v1h-1zM104 8h1v1h-1zM103 10h1v1h-1zM101 12h1v1h-1zM100 14h1v1h-1zM98 16h1v1h-1zM94 18h1v1h-1zM96 18h1v1h-1zM95 19h1v1h-1zM111 19h1v1h-1zM91 21h1v1h-1zM85 23h1v1h-1zM90 23h1v1h-1zM106 28h1v1h-1zM82 30h1v1h-1zM104 30h1v1h-1zM81 31h1v1h-1zM103 32h1v1h-1zM75 36h1v1h-1zM100 36h1v1h-1zM73 39h1v1h-1zM72 41h2v1h-2zM72 43h1v1h-1zM90 47h1v1h-1zM73 48h1v1h-1zM73 49h1v1h-1zM73 50h1v1h-1zM74 53h1v1h-1zM75 54h1v1h-1zM84 54h1v1h-1zM75 55h1v1h-1zM76 56h1v1h-1zM77 57h1v1h-1z"/>
<path fill="#577bf2" d="M122 2h1v1h-1zM121 3h1v1h-1zM107 5h1v1h-1zM120 5h1v1h-1zM106 6h2v1h-2zM114 14h1v1h-1zM99 15h1v1h-1zM94 19h1v1h-1zM96 19h1v1h-1zM87 21h1v1h-1zM88 23h1v1h-1zM107 26h1v1h-1zM107 27h1v1h-1zM80 32h1v1h-1zM102 33h1v1h-1zM77 34h1v1h-1zM101 34h1v1h-1zM76 35h1v1h-1zM75 37h1v1h-1zM73 40h1v1h-1zM96 40h1v1h-1zM72 45h1v1h-1zM91 46h1v1h-1zM75 53h1v1h-1zM79 56h2v1h-2z"/>
<path fill="#587ef4" d="M111 0h2v1h-2zM109 3h1v1h-1zM108 4h1v1h-1zM119 5h1v1h-1zM119 6h1v1h-1zM117 8h1v1h-1zM104 10h1v1h-1zM116 10h1v1h-1zM103 11h1v1h-1zM115 11h1v1h-1zM102 12h1v1h-1zM100 16h1v1h-1zM97 17h1v1h-1zM112 17h1v1h-1zM111 18h1v1h-1zM92 19h2v1h-2zM92 20h1v1h-1zM86 21h1v1h-1zM91 22h1v1h-1zM90 24h1v1h-1zM84 27h1v1h-1zM83 29h1v1h-1zM74 38h1v1h-1zM97 39h1v1h-1zM95 41h1v1h-1zM93 44h1v1h-1zM73 45h1v1h-1zM74 49h1v1h-1zM74 50h1v1h-1zM74 51h1v1h-1zM74 52h1v1h-1zM85 53h1v1h-1zM76 55h1v1h-1zM78 56h1v1h-1z"/>
<path fill="#5981f6" d="M111 1h1v1h-1zM122 1h1v1h-1zM110 2h1v1h-1zM106 7h1v1h-1zM105 9h1v1h-1zM115 10h1v1h-1zM103 12h1v1h-1zM114 12h1v1h-1zM113 14h1v1h-1zM100 15h1v1h-1zM112 15h1v1h-1zM112 16h1v1h-1zM98 18h1v1h-1zM110 19h1v1h-1zM93 20h1v1h-1zM95 20h2v1h-2zM110 20h1v1h-1zM109 21h1v1h-1zM109 22h1v1h-1zM108 24h1v1h-1zM103 31h1v1h-1zM79 33h1v1h-1zM100 35h1v1h-1zM76 36h1v1h-1zM73 42h1v1h-1zM73 46h1v1h-1zM74 48h1v1h-1zM88 50h1v1h-1zM87 51h1v1h-1zM75 52h1v1h-1zM86 52h1v1h-1zM77 55h1v1h-1zM77 56h1v1h-1zM81 56h1v1h-1z"/>
<path fill="#5984f7" d="M110 3h1v1h-1zM120 4h1v1h-1zM118 6h1v1h-1zM118 7h1v1h-1zM105 8h1v1h-1zM104 9h1v1h-1zM98 17h1v1h-1zM97 19h1v1h-1zM94 20h1v1h-1zM94 21h1v1h-1zM96 21h1v1h-1zM86 22h2v1h-2zM89 25h1v1h-1zM107 25h1v1h-1zM96 39h1v1h-1zM73 44h1v1h-1zM73 47h1v1h-1zM76 54h1v1h-1zM81 55h2v1h-2z"/>
<path fill="#5a86f9" d="M111 3h1v1h-1zM119 4h1v1h-1zM108 5h2v1h-2zM107 7h1v1h-1zM117 7h1v1h-1zM106 8h2v1h-2zM116 8h1v1h-1zM116 9h1v1h-1zM99 16h1v1h-1zM111 17h1v1h-1zM97 20h1v1h-1zM92 21h1v1h-1zM91 23h1v1h-1zM85 24h1v1h-1zM88 24h1v1h-1zM90 25h1v1h-1zM106 27h1v1h-1zM78 34h1v1h-1zM77 35h1v1h-1zM99 36h1v1h-1zM76 37h1v1h-1zM98 37h1v1h-1zM75 38h1v1h-1zM79 55h2v1h-2z"/>
<path fill="#5b89fa" d="M112 1h1v1h-1zM112 2h1v1h-1zM121 2h1v1h-1zM109 4h1v1h-1zM111 4h1v1h-1zM105 11h1v1h-1zM101 13h2v1h-2zM112 13h2v1h-2zM101 14h1v1h-1zM112 14h1v1h-1zM99 17h2v1h-2zM99 18h1v1h-1zM110 18h1v1h-1zM95 21h1v1h-1zM95 22h1v1h-1zM108 23h1v1h-1zM106 26h1v1h-1zM82 31h1v1h-1zM81 32h1v1h-1zM102 32h1v1h-1zM100 34h1v1h-1zM97 38h1v1h-1zM74 39h1v1h-1zM74 40h1v1h-1zM74 41h1v1h-1zM94 42h1v1h-1zM91 45h1v1h-1zM90 46h1v1h-1zM89 48h1v1h-1z"/>
<path fill="#5b8cfb" d="M113 0h1v1h-1zM122 0h1v1h-1zM108 8h1v1h-1zM104 11h1v1h-1zM114 11h1v1h-1zM113 12h1v1h-1zM103 13h1v1h-1zM102 14h1v1h-1zM98 19h1v1h-1zM109 20h1v1h-1zM93 21h1v1h-1zM87 23h1v1h-1zM107 24h1v1h-1zM84 28h1v1h-1zM104 29h1v1h-1zM83 30h1v1h-1zM74 42h1v1h-1zM73 43h1v1h-1zM93 43h1v1h-1zM74 46h1v1h-1zM74 47h1v1h-1zM75 51h1v1h-1zM76 52h1v1h-1zM76 53h1v1h-1zM77 54h2v1h-2zM83 54h1v1h-1z"/>
<path fill="#5c8ffc" d="M121 0h1v1h-1zM121 1h1v1h-1zM113 2h1v1h-1zM119 2h1v1h-1zM112 3h1v1h-1zM120 3h1v1h-1zM110 4h1v1h-1zM112 4h1v1h-1zM110 5h1v1h-1zM108 6h1v1h-1zM116 6h1v1h-1zM108 7h1v1h-1zM115 9h1v1h-1zM101 15h1v1h-1zM99 19h1v1h-1zM109 19h1v1h-1zM94 22h1v1h-1zM88 25h1v1h-1zM89 26h1v1h-1zM105 28h1v1h-1zM101 33h1v1h-1zM99 35h1v1h-1zM88 49h1v1h-1zM85 52h1v1h-1zM77 53h1v1h-1zM78 55h1v1h-1z"/>
<path fill="#5d92fd" d="M114 0h2v1h-2zM114 1h2v1h-2zM118 1h1v1h-1zM111 2h1v1h-1zM120 2h1v1h-1zM111 5h1v1h-1zM118 5h1v1h-1zM115 7h2v1h-2zM106 9h2v1h-2zM105 10h1v1h-1zM114 10h1v1h-1zM106 11h1v1h-1zM104 12h2v1h-2zM105 13h1v1h-1zM110 15h1v1h-1zM101 16h1v1h-1zM101 17h1v1h-1zM101 18h1v1h-1zM97 21h1v1h-1zM108 21h1v1h-1zM108 22h1v1h-1zM86 23h1v1h-1zM106 25h1v1h-1zM105 27h1v1h-1zM103 30h1v1h-1zM102 31h1v1h-1zM100 33h1v1h-1zM79 34h1v1h-1zM96 38h1v1h-1zM75 39h1v1h-1zM94 41h1v1h-1zM74 43h1v1h-1zM74 44h1v1h-1zM92 44h1v1h-1zM74 45h1v1h-1zM75 49h1v1h-1zM84 53h1v1h-1zM82 54h1v1h-1z"/>
<path fill="#5e94ff" d="M113 1h1v1h-1zM117 1h1v1h-1zM114 2h1v1h-1zM119 3h1v1h-1zM117 5h1v1h-1zM109 8h1v1h-1zM115 8h1v1h-1zM114 9h1v1h-1zM108 10h1v1h-1zM106 12h1v1h-1zM104 13h1v1h-1zM103 14h1v1h-1zM102 16h1v1h-1zM111 16h1v1h-1zM102 17h1v1h-1zM109 17h2v1h-2zM100 18h1v1h-1zM109 18h1v1h-1zM98 21h1v1h-1zM92 22h1v1h-1zM96 22h1v1h-1zM107 23h1v1h-1zM91 24h1v1h-1zM85 25h1v1h-1zM105 26h1v1h-1zM82 32h1v1h-1zM101 32h1v1h-1zM80 33h2v1h-2zM78 35h1v1h-1zM77 36h1v1h-1zM97 37h1v1h-1zM75 50h1v1h-1zM81 54h1v1h-1z"/>
<path fill="#5f97ff" d="M117 0h1v1h-1zM120 0h1v1h-1zM119 1h1v1h-1zM117 2h2v1h-2zM113 3h1v1h-1zM118 4h1v1h-1zM113 5h1v1h-1zM109 6h1v1h-1zM117 6h1v1h-1zM109 7h1v1h-1zM113 10h1v1h-1zM103 15h1v1h-1zM111 15h1v1h-1zM109 16h2v1h-2zM98 20h2v1h-2zM107 22h1v1h-1zM94 23h1v1h-1zM106 24h1v1h-1zM105 25h1v1h-1zM85 26h1v1h-1zM90 26h1v1h-1zM104 27h1v1h-1zM104 28h1v1h-1zM103 29h1v1h-1zM78 36h1v1h-1zM98 36h1v1h-1zM77 38h1v1h-1zM75 40h1v1h-1zM95 40h1v1h-1zM75 42h1v1h-1zM90 45h1v1h-1zM89 47h1v1h-1zM76 50h1v1h-1zM83 53h1v1h-1z"/>
<path fill="#609aff" d="M120 1h1v1h-1zM114 3h1v1h-1zM116 3h1v1h-1zM118 3h1v1h-1zM115 4h1v1h-1zM117 4h1v1h-1zM115 5h1v1h-1zM111 6h1v1h-1zM110 8h1v1h-1zM114 8h1v1h-1zM113 9h1v1h-1zM106 10h1v1h-1zM112 11h2v1h-2zM107 12h1v1h-1zM109 12h1v1h-1zM112 12h1v1h-1zM111 13h1v1h-1zM104 14h1v1h-1zM111 14h1v1h-1zM102 15h1v1h-1zM100 20h1v1h-1zM108 20h1v1h-1zM99 21h1v1h-1zM97 22h1v1h-1zM95 23h2v1h-2zM106 23h1v1h-1zM90 27h1v1h-1zM77 37h1v1h-1zM76 38h1v1h-1zM75 41h1v1h-1zM91 44h1v1h-1zM75 46h1v1h-1zM75 48h1v1h-1zM76 51h1v1h-1zM80 54h1v1h-1z"/>
<path fill="#619dff" d="M116 0h1v1h-1zM119 0h1v1h-1zM115 2h1v1h-1zM117 3h1v1h-1zM113 4h2v1h-2zM116 5h1v1h-1zM110 6h1v1h-1zM114 6h1v1h-1zM111 7h1v1h-1zM113 7h1v1h-1zM109 9h1v1h-1zM112 9h1v1h-1zM107 10h1v1h-1zM108 12h1v1h-1zM108 13h2v1h-2zM105 14h1v1h-1zM104 15h1v1h-1zM103 16h1v1h-1zM108 17h1v1h-1zM100 19h1v1h-1zM107 19h2v1h-2zM107 20h1v1h-1zM96 25h1v1h-1zM88 26h1v1h-1zM102 30h1v1h-1zM79 35h1v1h-1zM98 35h1v1h-1zM76 39h1v1h-1zM75 43h1v1h-1zM75 47h1v1h-1zM87 50h1v1h-1zM77 52h1v1h-1zM78 53h1v1h-1z"/>
<path fill="#61a0ff" d="M116 1h1v1h-1zM116 2h1v1h-1zM115 3h1v1h-1zM114 5h1v1h-1zM110 7h1v1h-1zM111 8h3v1h-3zM108 9h1v1h-1zM110 9h2v1h-2zM112 10h1v1h-1zM107 11h2v1h-2zM110 12h2v1h-2zM106 13h1v1h-1zM106 14h1v1h-1zM109 15h1v1h-1zM104 16h1v1h-1zM101 19h1v1h-1zM107 21h1v1h-1zM99 22h1v1h-1zM95 24h1v1h-1zM104 24h1v1h-1zM91 25h1v1h-1zM104 26h1v1h-1zM83 31h1v1h-1zM95 39h1v1h-1zM75 45h1v1h-1zM80 53h1v1h-1zM79 54h1v1h-1z"/>
<path fill="#62a3ff" d="M116 4h1v1h-1zM112 5h1v1h-1zM112 6h2v1h-2zM112 7h1v1h-1zM110 10h1v1h-1zM110 11h2v1h-2zM110 13h1v1h-1zM108 14h3v1h-3zM105 15h2v1h-2zM108 15h1v1h-1zM103 17h1v1h-1zM107 17h1v1h-1zM107 18h1v1h-1zM106 20h1v1h-1zM100 21h1v1h-1zM106 21h1v1h-1zM93 22h1v1h-1zM98 22h1v1h-1zM92 23h2v1h-2zM98 23h1v1h-1zM86 24h1v1h-1zM96 24h2v1h-2zM105 24h1v1h-1zM95 25h1v1h-1zM89 27h1v1h-1zM84 29h1v1h-1zM99 33h1v1h-1zM99 34h1v1h-1zM97 36h1v1h-1zM92 43h1v1h-1zM86 51h1v1h-1z"/>
<path fill="#62a6ff" d="M118 0h1v1h-1zM115 6h1v1h-1zM114 7h1v1h-1zM109 10h1v1h-1zM111 10h1v1h-1zM107 14h1v1h-1zM104 17h1v1h-1zM106 17h1v1h-1zM102 18h1v1h-1zM108 18h1v1h-1zM106 19h1v1h-1zM105 20h1v1h-1zM106 22h1v1h-1zM99 23h1v1h-1zM105 23h1v1h-1zM87 24h1v1h-1zM92 24h1v1h-1zM94 25h1v1h-1zM98 25h1v1h-1zM103 27h1v1h-1zM100 32h1v1h-1zM80 34h1v1h-1zM76 41h1v1h-1zM93 42h1v1h-1zM75 44h1v1h-1zM79 53h1v1h-1zM82 53h1v1h-1z"/>
<path fill="#63a9ff" d="M109 11h1v1h-1zM105 16h2v1h-2zM108 16h1v1h-1zM103 18h2v1h-2zM102 19h2v1h-2zM102 20h1v1h-1zM101 21h1v1h-1zM97 23h1v1h-1zM93 24h1v1h-1zM98 26h1v1h-1zM102 28h1v1h-1zM102 29h1v1h-1zM101 31h1v1h-1zM83 32h1v1h-1zM78 37h1v1h-1zM96 37h1v1h-1zM76 40h1v1h-1zM91 43h1v1h-1zM76 47h1v1h-1zM76 49h1v1h-1z"/>
<path fill="#63abff" d="M107 13h1v1h-1zM107 15h1v1h-1zM107 16h1v1h-1zM105 17h1v1h-1zM105 18h1v1h-1zM101 20h1v1h-1zM103 20h2v1h-2zM102 21h1v1h-1zM100 22h3v1h-3zM105 22h1v1h-1zM94 24h1v1h-1zM104 25h1v1h-1zM91 26h1v1h-1zM89 28h1v1h-1zM101 29h1v1h-1zM81 34h1v1h-1zM98 34h1v1h-1zM80 35h1v1h-1zM97 35h1v1h-1zM79 36h1v1h-1zM77 40h1v1h-1zM76 48h1v1h-1zM84 52h1v1h-1zM81 53h1v1h-1z"/>
<path fill="#63aeff" d="M106 18h1v1h-1zM104 19h2v1h-2zM105 21h1v1h-1zM103 22h1v1h-1zM103 23h2v1h-2zM98 24h3v1h-3zM99 25h2v1h-2zM102 25h2v1h-2zM95 26h1v1h-1zM96 27h1v1h-1zM90 28h1v1h-1zM103 28h1v1h-1zM101 30h1v1h-1zM78 38h1v1h-1zM88 48h1v1h-1zM77 51h1v1h-1z"/>
<path fill="#63b1ff" d="M104 21h1v1h-1zM104 22h1v1h-1zM100 23h1v1h-1zM102 23h1v1h-1zM97 25h1v1h-1zM99 26h2v1h-2zM103 26h1v1h-1zM99 27h1v1h-1zM102 27h1v1h-1zM84 30h1v1h-1zM100 31h1v1h-1zM82 33h1v1h-1zM98 33h1v1h-1zM95 38h1v1h-1zM76 42h1v1h-1zM90 44h1v1h-1zM89 46h1v1h-1zM77 49h1v1h-1zM77 50h1v1h-1zM78 51h1v1h-1zM85 51h1v1h-1zM79 52h1v1h-1z"/>
<path fill="#63b4fe" d="M101 23h1v1h-1zM103 24h1v1h-1zM86 25h1v1h-1zM96 26h2v1h-2zM101 27h1v1h-1zM101 28h1v1h-1zM99 32h1v1h-1zM77 39h1v1h-1zM76 44h1v1h-1zM78 52h1v1h-1z"/>
<path fill="#63b7fc" d="M85 27h1v1h-1zM88 27h1v1h-1zM95 27h1v1h-1zM99 30h2v1h-2zM98 31h2v1h-2zM81 35h1v1h-1zM96 36h1v1h-1zM94 40h1v1h-1zM92 42h1v1h-1z"/>
<path fill="#63bafb" d="M101 24h2v1h-2zM87 25h1v1h-1zM92 25h1v1h-1zM94 26h1v1h-1zM102 26h1v1h-1zM96 29h1v1h-1zM98 29h1v1h-1zM100 29h1v1h-1zM80 36h1v1h-1zM76 43h1v1h-1zM76 45h1v1h-1zM78 50h1v1h-1zM80 52h1v1h-1z"/>
<path fill="#63bcf9" d="M103 21h1v1h-1zM91 27h1v1h-1zM95 28h2v1h-2zM100 28h1v1h-1zM96 31h1v1h-1zM97 33h1v1h-1zM97 34h1v1h-1zM95 37h1v1h-1zM77 41h1v1h-1zM89 45h1v1h-1zM76 46h1v1h-1z"/>
<path fill="#63bff8" d="M101 25h1v1h-1zM97 27h2v1h-2zM97 28h2v1h-2zM89 29h1v1h-1zM97 29h1v1h-1zM96 30h1v1h-1zM98 30h1v1h-1zM96 33h1v1h-1zM96 35h1v1h-1zM93 41h1v1h-1zM77 42h1v1h-1zM77 44h1v1h-1zM82 52h1v1h-1z"/>
<path fill="#63c2f6" d="M101 26h1v1h-1zM100 27h1v1h-1zM99 29h1v1h-1zM84 31h1v1h-1zM98 32h1v1h-1zM82 34h1v1h-1zM96 34h1v1h-1zM90 43h1v1h-1zM77 48h1v1h-1zM79 51h1v1h-1zM84 51h1v1h-1zM83 52h1v1h-1z"/>
<path fill="#63c5f4" d="M99 28h1v1h-1zM97 30h1v1h-1zM79 37h1v1h-1zM78 39h1v1h-1zM94 39h1v1h-1zM78 41h1v1h-1zM88 47h1v1h-1zM87 49h1v1h-1zM86 50h1v1h-1zM81 52h1v1h-1z"/>
<path fill="#63c8f2" d="M93 25h1v1h-1zM86 26h1v1h-1zM88 28h1v1h-1zM90 29h1v1h-1zM96 32h1v1h-1zM77 47h1v1h-1z"/>
<path fill="#62caf0" d="M87 26h1v1h-1zM92 26h1v1h-1zM85 28h1v1h-1zM95 29h1v1h-1zM95 30h1v1h-1zM97 32h1v1h-1zM95 36h1v1h-1zM77 45h1v1h-1zM77 46h1v1h-1zM80 51h1v1h-1z"/>
<path fill="#62cdee" d="M90 30h1v1h-1zM97 31h1v1h-1zM78 49h1v1h-1zM81 51h1v1h-1z"/>
<path fill="#63d1ed" d="M94 27h1v1h-1zM95 32h1v1h-1zM83 33h1v1h-1zM79 38h1v1h-1zM78 40h1v1h-1zM90 42h2v1h-2zM77 43h1v1h-1z"/>
<path fill="#63d5eb" d="M93 26h1v1h-1zM94 28h1v1h-1zM82 35h1v1h-1zM95 35h1v1h-1zM80 37h1v1h-1zM78 47h1v1h-1zM78 48h1v1h-1zM79 49h1v1h-1z"/>
<path fill="#63d8ea" d="M91 28h1v1h-1zM81 36h1v1h-1zM80 38h1v1h-1zM79 39h1v1h-1zM79 50h1v1h-1zM82 51h1v1h-1z"/>
<path fill="#64dce8" d="M87 27h1v1h-1zM89 30h1v1h-1zM95 31h1v1h-1zM83 34h1v1h-1zM95 34h1v1h-1zM92 41h1v1h-1zM83 51h1v1h-1z"/>
<path fill="#64dfe7" d="M86 27h1v1h-1zM88 29h1v1h-1zM94 38h1v1h-1zM91 41h1v1h-1zM89 44h1v1h-1zM80 50h1v1h-1z"/>
<path fill="#65e3e5" d="M93 27h1v1h-1zM85 29h1v1h-1zM90 31h1v1h-1zM95 33h1v1h-1zM81 37h1v1h-1zM93 40h1v1h-1zM78 42h1v1h-1zM78 43h1v1h-1zM80 49h1v1h-1z"/>
<path fill="#65e6e3" d="M91 29h1v1h-1zM79 40h1v1h-1zM78 46h1v1h-1z"/>
<path fill="#66e9e2" d="M94 29h1v1h-1zM79 48h1v1h-1zM81 50h1v1h-1z"/>
<path fill="#67ede0" d="M93 28h1v1h-1zM94 37h1v1h-1zM93 39h1v1h-1zM91 40h1v1h-1zM78 44h1v1h-1z"/>
<path fill="#68f0de" d="M94 30h1v1h-1zM84 32h1v1h-1zM90 41h1v1h-1zM78 45h1v1h-1z"/>
<path fill="#68f2dc" d="M92 40h1v1h-1zM79 47h1v1h-1zM84 50h2v1h-2z"/>
<path fill="#68f5d8" d="M92 27h1v1h-1zM92 28h1v1h-1zM89 31h1v1h-1zM94 31h1v1h-1zM83 35h1v1h-1zM80 39h1v1h-1zM90 40h1v1h-1zM86 49h1v1h-1zM82 50h1v1h-1z"/>
<path fill="#68f6d7" d="M79 41h1v1h-1zM87 48h1v1h-1z"/>
<path fill="#69f8d5" d="M82 36h1v1h-1zM79 42h1v1h-1zM83 50h1v1h-1z"/>
<path fill="#6af9d3" d="M88 30h1v1h-1zM91 30h1v1h-1zM90 32h1v1h-1zM94 35h1v1h-1zM91 39h1v1h-1zM79 44h1v1h-1zM80 47h1v1h-1zM80 48h1v1h-1z"/>
<path fill="#6afad1" d="M86 28h2v1h-2zM85 30h1v1h-1zM94 32h1v1h-1zM84 33h1v1h-1zM94 33h1v1h-1zM94 36h1v1h-1zM88 46h1v1h-1zM81 49h1v1h-1z"/>
<path fill="#6cfcd0" d="M93 38h1v1h-1zM79 46h1v1h-1z"/>
<path fill="#6dfdce" d="M93 29h1v1h-1zM94 34h1v1h-1zM80 40h1v1h-1zM89 43h1v1h-1zM79 45h1v1h-1zM81 48h1v1h-1z"/>
<path fill="#6efecc" d="M89 32h1v1h-1zM90 39h1v1h-1zM79 43h1v1h-1zM83 49h1v1h-1z"/>
<path fill="#70ffcb" d="M81 38h1v1h-1zM82 49h1v1h-1z"/>
<path fill="#6effc5" d="M91 31h1v1h-1zM84 49h1v1h-1z"/>
<path fill="#6effc2" d="M86 29h1v1h-1zM81 39h1v1h-1zM92 39h1v1h-1zM80 44h1v1h-1zM85 49h1v1h-1z"/>
<path fill="#6dffbf" d="M92 29h1v1h-1zM90 33h1v1h-1zM91 38h1v1h-1z"/>
<path fill="#6dffbb" d="M90 34h1v1h-1zM82 37h1v1h-1zM80 42h1v1h-1zM89 42h1v1h-1zM82 48h1v1h-1z"/>
<path fill="#6dffb8" d="M87 29h1v1h-1zM80 41h1v1h-1zM81 47h1v1h-1z"/>
<path fill="#6effb4" d="M91 33h1v1h-1zM84 34h1v1h-1zM90 35h1v1h-1zM83 36h1v1h-1zM91 37h1v1h-1zM80 46h1v1h-1zM86 48h1v1h-1z"/>
<path fill="#6effb0" d="M91 32h1v1h-1zM90 38h1v1h-1zM80 45h1v1h-1z"/>
<path fill="#6effad" d="M93 30h1v1h-1zM90 36h1v1h-1zM80 43h1v1h-1zM81 46h1v1h-1z"/>
<path fill="#6fffa9" d="M91 34h1v1h-1zM90 37h1v1h-1zM93 37h1v1h-1zM81 40h1v1h-1zM81 41h1v1h-1zM83 48h1v1h-1z"/>
<path fill="#70ffa5" d="M88 31h1v1h-1zM93 35h1v1h-1zM91 36h1v1h-1zM93 36h1v1h-1zM92 38h1v1h-1z"/>
<path fill="#71ffa1" d="M85 31h1v1h-1z"/>
<path fill="#72ff9d" d="M92 30h1v1h-1zM93 31h1v1h-1zM89 41h1v1h-1z"/>
<path fill="#73ff99" d="M93 32h1v1h-1zM93 34h1v1h-1zM92 36h1v1h-1zM83 37h1v1h-1zM82 38h1v1h-1zM88 45h1v1h-1z"/>
<path fill="#74ff95" d="M88 32h1v1h-1zM91 35h1v1h-1z"/>
<path fill="#76ff91" d="M89 33h1v1h-1zM82 47h1v1h-1zM87 47h1v1h-1zM84 48h1v1h-1z"/>
<path fill="#77ff8d" d="M87 30h1v1h-1zM92 32h1v1h-1zM93 33h1v1h-1zM84 35h1v1h-1zM81 44h1v1h-1z"/>
<path fill="#79ff89" d="M92 37h1v1h-1zM81 45h1v1h-1z"/>
<path fill="#7aff85" d="M92 31h1v1h-1zM92 35h1v1h-1zM81 43h1v1h-1z"/>
<path fill="#7cff81" d="M82 39h1v1h-1zM83 47h1v1h-1z"/>
<path fill="#7eff7d" d="M89 40h1v1h-1zM81 42h1v1h-1z"/>
<path fill="#83ff76" d="M83 38h1v1h-1zM85 48h1v1h-1z"/>
<path fill="#88ff70" d="M85 32h1v1h-1z"/>
<path fill="#8aff6d" d="M92 34h1v1h-1zM89 35h1v1h-1z"/>
<path fill="#8dff6a" d="M92 33h1v1h-1zM89 34h1v1h-1zM88 44h1v1h-1z"/>
<path fill="#90ff67" d="M82 40h1v1h-1zM82 41h1v1h-1z"/>
<path fill="#92ff64" d="M86 30h1v1h-1zM83 46h1v1h-1zM84 47h1v1h-1z"/>
<path fill="#95ff61" d="M89 39h1v1h-1zM82 46h1v1h-1z"/>
<path fill="#97ff5e" d="M89 36h1v1h-1zM87 46h1v1h-1z"/>
<path fill="#9aff5b" d="M82 43h1v1h-1z"/>
<path fill="#9cff58" d="M87 31h1v1h-1zM89 37h1v1h-1zM83 45h1v1h-1z"/>
<path fill="#9fff56" d="M88 33h1v1h-1zM84 36h1v1h-1zM82 42h1v1h-1zM82 44h1v1h-1zM82 45h1v1h-1z"/>
<path fill="#a1ff53" d="M83 39h1v1h-1z"/>
<path fill="#a5ff4f" d="M86 47h1v1h-1z"/>
<path fill="#a7ff4d" d="M86 31h1v1h-1z"/>
<path fill="#a9ff4b" d="M85 33h1v1h-1zM89 38h1v1h-1z"/>
<path fill="#aeff45" d="M84 46h1v1h-1z"/>
<path fill="#b2fe43" d="M88 43h1v1h-1z"/>
<path fill="#b4fd41" d="M88 34h1v1h-1zM83 43h1v1h-1zM85 47h1v1h-1z"/>
<path fill="#b5fd40" d="M84 37h1v1h-1zM83 40h1v1h-1zM83 44h1v1h-1z"/>
<path fill="#b7fc3f" d="M87 32h1v1h-1z"/>
<path fill="#b9fb3f" d="M83 41h1v1h-1z"/>
<path fill="#bff73d" d="M83 42h1v1h-1z"/>
<path fill="#c1f63d" d="M85 34h1v1h-1z"/>
<path fill="#c6f23c" d="M85 46h1v1h-1z"/>
<path fill="#caef3c" d="M86 32h1v1h-1z"/>
<path fill="#cced3c" d="M84 45h1v1h-1zM87 45h1v1h-1z"/>
<path fill="#cfea3c" d="M84 38h1v1h-1zM88 42h1v1h-1z"/>
<path fill="#d2e73d" d="M85 35h1v1h-1z"/>
<path fill="#d4e53d" d="M86 46h1v1h-1z"/>
<path fill="#d7e13e" d="M88 35h1v1h-1z"/>
<path fill="#dadd3f" d="M87 33h1v1h-1zM84 44h1v1h-1z"/>
<path fill="#ddd940" d="M84 40h1v1h-1z"/>
<path fill="#ded740" d="M84 39h1v1h-1z"/>
<path fill="#dfd540" d="M84 43h1v1h-1z"/>
<path fill="#e0d341" d="M86 33h1v1h-1zM88 36h1v1h-1z"/>
<path fill="#e4ca42" d="M88 39h1v1h-1zM88 41h1v1h-1z"/>
<path fill="#e5c642" d="M84 42h1v1h-1zM87 44h1v1h-1z"/>
<path fill="#e6c442" d="M85 36h1v1h-1z"/>
<path fill="#e7c142" d="M84 41h1v1h-1z"/>
<path fill="#e8bb41" d="M88 37h1v1h-1zM85 45h1v1h-1z"/>
<path fill="#e8b841" d="M87 34h1v1h-1z"/>
<path fill="#e9b440" d="M88 38h1v1h-1z"/>
<path fill="#ecad3e" d="M86 34h1v1h-1zM88 40h1v1h-1z"/>
<path fill="#edab3d" d="M85 44h1v1h-1z"/>
<path fill="#eea83c" d="M86 45h1v1h-1z"/>
<path fill="#f29335" d="M86 35h1v1h-1z"/>
<path fill="#f28e32" d="M85 38h1v1h-1zM85 43h1v1h-1z"/>
<path fill="#f38b31" d="M87 35h1v1h-1z"/>
<path fill="#f3852f" d="M87 36h1v1h-1z"/>
<path fill="#f3822e" d="M85 37h1v1h-1z"/>
<path fill="#f27f2d" d="M87 43h1v1h-1z"/>
<path fill="#ef6321" d="M85 40h1v1h-1z"/>
<path fill="#eb561d" d="M85 42h1v1h-1z"/>
<path fill="#ea531c" d="M85 39h1v1h-1z"/>
<path fill="#e54819" d="M86 36h1v1h-1z"/>
<path fill="#e14317" d="M87 42h1v1h-1zM86 44h1v1h-1z"/>
<path fill="#e04116" d="M85 41h1v1h-1z"/>
<path fill="#db3c14" d="M86 39h1v1h-1zM87 41h1v1h-1z"/>
<path fill="#d93a14" d="M86 37h2v1h-2z"/>
<path fill="#d33512" d="M87 38h1v1h-1z"/>
<path fill="#ce3011" d="M87 40h1v1h-1zM86 43h1v1h-1z"/>
<path fill="#c52b10" d="M86 41h1v1h-1z"/>
<path fill="#c3290f" d="M87 39h1v1h-1z"/>
<path fill="#b2210e" d="M86 38h1v1h-1z"/>
<path fill="#aa1d0e" d="M86 42h1v1h-1z"/>
<path fill="#a41b0e" d="M86 40h1v1h-1z"/>
</g>
<rect x="651" y="469.5" width="201" height="199" rx="27" fill="#fff"/>
<rect x="722.5" y="538" width="111" height="111" rx="1" fill="#a9a9a9"/>
<circle cx="807.8" cy="565.8" r="17.2" fill="#fff"/><circle cx="749.8" cy="623.6" r="17.2" fill="#fff"/><circle cx="807.8" cy="623.6" r="17.2" fill="#fff"/>
<rect x="667" y="488" width="111" height="111" rx="1" fill="#000"/>
<rect x="142" y="38" width="753" height="677" fill="none" stroke="#000" stroke-width="1.9"/>
<path d="M142.00 715.00v8.6M330.25 715.00v8.6M518.50 715.00v8.6M706.75 715.00v8.6M895.00 715.00v8.6" stroke="#000" stroke-width="1.9" fill="none"/>
<path d="M236.12 715.00v4.8M424.38 715.00v4.8M612.62 715.00v4.8M800.88 715.00v4.8" stroke="#000" stroke-width="1.4" fill="none"/>
<path d="M142.00 715.00h-8.6M142.00 594.11h-8.6M142.00 473.21h-8.6M142.00 352.32h-8.6M142.00 231.43h-8.6M142.00 110.54h-8.6" stroke="#000" stroke-width="1.9" fill="none"/>
<g font-family="'DejaVu Sans','Liberation Sans',sans-serif" font-size="39.6" fill="#000">
<text x="142.00" y="763.2" text-anchor="middle">840</text>
<text x="330.25" y="763.2" text-anchor="middle">850</text>
<text x="518.50" y="763.2" text-anchor="middle">860</text>
<text x="706.75" y="763.2" text-anchor="middle">870</text>
<text x="895.00" y="763.2" text-anchor="middle">880</text>
<text x="125" y="730.20" text-anchor="end">850</text>
<text x="125" y="609.31" text-anchor="end">855</text>
<text x="125" y="488.41" text-anchor="end">860</text>
<text x="125" y="367.52" text-anchor="end">865</text>
<text x="125" y="246.63" text-anchor="end">870</text>
<text x="125" y="125.74" text-anchor="end">875</text>
<text x="518.6" y="811" text-anchor="middle">Detected photon energy (eV)</text>
<text transform="translate(31.4,377.1) rotate(-90)" text-anchor="middle">Inconming FEL energy (eV)</text>
</g>
<rect x="942" y="38" width="34.5" height="677" fill="url(#tg)"/>
<rect x="942" y="38" width="34.5" height="677" fill="none" stroke="#000" stroke-width="1.9"/>
<path d="M976.50 715.00h8.4M976.50 602.17h8.4M976.50 489.33h8.4M976.50 376.50h8.4M976.50 263.67h8.4M976.50 150.83h8.4M976.50 38.00h8.4" stroke="#000" stroke-width="1.9" fill="none"/>
<g font-family="'DejaVu Sans','Liberation Sans',sans-serif" font-size="35" fill="#000">
<text x="992.8" y="728.40">0</text>
<text x="992.8" y="615.57">50</text>
<text x="992.8" y="502.73">100</text>
<text x="992.8" y="389.90">150</text>
<text x="992.8" y="277.07">200</text>
<text x="992.8" y="164.23">250</text>
<text x="992.8" y="51.40">300</text>
</g>
</g>
<text transform="translate(7.2,40) scale(0.8,1)" font-family="'Liberation Sans','DejaVu Sans',sans-serif" font-weight="bold" font-size="76" fill="#000">a</text>
<g transform="translate(0,834.25)">
<rect x="142" y="38" width="753" height="677" fill="#2c113e"/>
<g transform="translate(142,38) scale(5.70455,5.95398)" shape-rendering="crispEdges">
<path fill="#2e1446" d="M84 0h1v1h-1zM105 0h4v1h-4zM111 0h5v1h-5zM130 0h1v1h-1zM111 1h1v1h-1zM113 1h2v1h-2zM117 1h1v1h-1zM131 1h1v1h-1zM107 2h1v1h-1zM110 2h1v1h-1zM112 2h3v1h-3zM116 2h1v1h-1zM130 2h2v1h-2zM108 3h1v1h-1zM110 3h3v1h-3zM129 3h3v1h-3zM67 4h1v1h-1zM90 4h1v1h-1zM108 4h6v1h-6zM128 4h4v1h-4zM102 5h1v1h-1zM105 5h3v1h-3zM110 5h2v1h-2zM127 5h4v1h-4zM106 6h4v1h-4zM111 6h1v1h-1zM126 6h6v1h-6zM104 7h1v1h-1zM106 7h4v1h-4zM126 7h4v1h-4zM101 8h1v1h-1zM103 8h6v1h-6zM110 8h1v1h-1zM112 8h1v1h-1zM124 8h1v1h-1zM126 8h2v1h-2zM129 8h2v1h-2zM104 9h5v1h-5zM123 9h1v1h-1zM125 9h2v1h-2zM75 10h1v1h-1zM101 10h2v1h-2zM104 10h3v1h-3zM123 10h3v1h-3zM127 10h2v1h-2zM104 11h2v1h-2zM122 11h1v1h-1zM125 11h2v1h-2zM84 12h1v1h-1zM97 12h1v1h-1zM100 12h6v1h-6zM118 12h1v1h-1zM122 12h6v1h-6zM72 13h1v1h-1zM97 13h1v1h-1zM101 13h4v1h-4zM121 13h5v1h-5zM72 14h1v1h-1zM98 14h1v1h-1zM100 14h1v1h-1zM102 14h4v1h-4zM119 14h1v1h-1zM121 14h2v1h-2zM125 14h1v1h-1zM130 14h1v1h-1zM88 15h1v1h-1zM92 15h1v1h-1zM95 15h1v1h-1zM97 15h1v1h-1zM99 15h5v1h-5zM121 15h1v1h-1zM123 15h1v1h-1zM125 15h1v1h-1zM92 16h1v1h-1zM94 16h2v1h-2zM98 16h6v1h-6zM118 16h4v1h-4zM123 16h1v1h-1zM95 17h6v1h-6zM116 17h1v1h-1zM118 17h5v1h-5zM127 17h1v1h-1zM59 18h1v1h-1zM90 18h1v1h-1zM93 18h6v1h-6zM100 18h3v1h-3zM116 18h3v1h-3zM121 18h1v1h-1zM90 19h5v1h-5zM96 19h4v1h-4zM117 19h5v1h-5zM82 20h1v1h-1zM90 20h9v1h-9zM115 20h6v1h-6zM91 21h9v1h-9zM114 21h5v1h-5zM79 22h1v1h-1zM85 22h1v1h-1zM91 22h7v1h-7zM113 22h3v1h-3zM117 22h1v1h-1zM84 23h4v1h-4zM89 23h1v1h-1zM91 23h2v1h-2zM94 23h4v1h-4zM113 23h3v1h-3zM117 23h1v1h-1zM80 24h1v1h-1zM82 24h1v1h-1zM84 24h2v1h-2zM90 24h6v1h-6zM97 24h1v1h-1zM111 24h7v1h-7zM80 25h1v1h-1zM83 25h1v1h-1zM87 25h1v1h-1zM89 25h3v1h-3zM96 25h1v1h-1zM112 25h2v1h-2zM115 25h1v1h-1zM80 26h1v1h-1zM87 26h5v1h-5zM110 26h5v1h-5zM81 27h2v1h-2zM85 27h2v1h-2zM89 27h2v1h-2zM111 27h3v1h-3zM115 27h1v1h-1zM82 28h9v1h-9zM108 28h4v1h-4zM84 29h6v1h-6zM108 29h4v1h-4zM45 30h1v1h-1zM65 30h1v1h-1zM74 30h2v1h-2zM77 30h1v1h-1zM80 30h1v1h-1zM82 30h4v1h-4zM87 30h4v1h-4zM107 30h2v1h-2zM110 30h2v1h-2zM77 31h1v1h-1zM80 31h1v1h-1zM82 31h3v1h-3zM86 31h4v1h-4zM106 31h4v1h-4zM77 32h1v1h-1zM79 32h5v1h-5zM87 32h1v1h-1zM89 32h1v1h-1zM105 32h4v1h-4zM73 33h1v1h-1zM79 33h2v1h-2zM82 33h1v1h-1zM89 33h1v1h-1zM105 33h4v1h-4zM78 34h4v1h-4zM103 34h1v1h-1zM105 34h4v1h-4zM73 35h1v1h-1zM75 35h8v1h-8zM101 35h1v1h-1zM103 35h3v1h-3zM107 35h1v1h-1zM39 36h1v1h-1zM69 36h1v1h-1zM76 36h3v1h-3zM80 36h1v1h-1zM103 36h3v1h-3zM12 37h1v1h-1zM56 37h1v1h-1zM60 37h1v1h-1zM72 37h2v1h-2zM75 37h1v1h-1zM77 37h1v1h-1zM102 37h5v1h-5zM74 38h5v1h-5zM100 38h5v1h-5zM73 39h5v1h-5zM100 39h4v1h-4zM105 39h1v1h-1zM37 40h1v1h-1zM67 40h1v1h-1zM72 40h4v1h-4zM100 40h5v1h-5zM67 41h2v1h-2zM70 41h7v1h-7zM97 41h1v1h-1zM99 41h4v1h-4zM58 42h1v1h-1zM66 42h1v1h-1zM71 42h3v1h-3zM98 42h4v1h-4zM71 43h2v1h-2zM96 43h1v1h-1zM98 43h2v1h-2zM101 43h1v1h-1zM65 44h1v1h-1zM69 44h5v1h-5zM97 44h2v1h-2zM100 44h1v1h-1zM42 45h1v1h-1zM50 45h1v1h-1zM66 45h3v1h-3zM71 45h2v1h-2zM96 45h3v1h-3zM65 46h1v1h-1zM67 46h6v1h-6zM96 46h2v1h-2zM55 47h1v1h-1zM65 47h2v1h-2zM68 47h3v1h-3zM95 47h4v1h-4zM106 47h1v1h-1zM51 48h1v1h-1zM66 48h3v1h-3zM94 48h4v1h-4zM60 49h1v1h-1zM62 49h1v1h-1zM64 49h6v1h-6zM95 49h1v1h-1zM97 49h1v1h-1zM63 50h1v1h-1zM65 50h4v1h-4zM94 50h2v1h-2zM97 50h1v1h-1zM47 51h2v1h-2zM61 51h6v1h-6zM93 51h3v1h-3zM97 51h1v1h-1zM51 52h1v1h-1zM59 52h8v1h-8zM93 52h2v1h-2zM97 52h1v1h-1zM59 53h1v1h-1zM61 53h1v1h-1zM63 53h4v1h-4zM92 53h3v1h-3zM1 54h1v1h-1zM57 54h1v1h-1zM59 54h1v1h-1zM61 54h3v1h-3zM89 54h2v1h-2zM92 54h2v1h-2zM53 55h1v1h-1zM60 55h5v1h-5zM88 55h6v1h-6zM95 55h1v1h-1zM26 56h1v1h-1zM29 56h1v1h-1zM50 56h1v1h-1zM58 56h5v1h-5zM64 56h1v1h-1zM88 56h5v1h-5zM56 57h7v1h-7zM88 57h2v1h-2zM51 58h2v1h-2zM54 58h2v1h-2zM58 58h5v1h-5zM87 58h1v1h-1zM89 58h1v1h-1zM91 58h1v1h-1zM51 59h1v1h-1zM55 59h1v1h-1zM58 59h3v1h-3zM87 59h2v1h-2zM90 59h1v1h-1zM55 60h6v1h-6zM87 60h1v1h-1zM54 61h5v1h-5zM86 61h2v1h-2zM90 61h1v1h-1zM44 62h1v1h-1zM52 62h6v1h-6zM86 62h1v1h-1zM41 63h1v1h-1zM51 63h1v1h-1zM53 63h6v1h-6zM85 63h3v1h-3zM30 64h1v1h-1zM47 64h1v1h-1zM50 64h1v1h-1zM52 64h6v1h-6zM84 64h3v1h-3zM29 65h1v1h-1zM41 65h1v1h-1zM44 65h1v1h-1zM49 65h1v1h-1zM53 65h2v1h-2zM56 65h1v1h-1zM84 65h2v1h-2zM88 65h1v1h-1zM130 65h1v1h-1zM49 66h6v1h-6zM84 66h2v1h-2zM35 67h1v1h-1zM49 67h6v1h-6zM83 67h2v1h-2zM86 67h1v1h-1zM90 67h1v1h-1zM48 68h4v1h-4zM53 68h1v1h-1zM82 68h2v1h-2zM47 69h7v1h-7zM81 69h4v1h-4zM28 70h1v1h-1zM41 70h1v1h-1zM47 70h5v1h-5zM81 70h4v1h-4zM46 71h7v1h-7zM80 71h4v1h-4zM95 71h1v1h-1zM14 72h1v1h-1zM42 72h1v1h-1zM46 72h3v1h-3zM79 72h4v1h-4zM41 73h1v1h-1zM45 73h6v1h-6zM78 73h3v1h-3zM43 74h1v1h-1zM45 74h1v1h-1zM47 74h1v1h-1zM49 74h1v1h-1zM77 74h2v1h-2zM80 74h1v1h-1zM44 75h4v1h-4zM77 75h1v1h-1zM79 75h2v1h-2zM21 76h1v1h-1zM32 76h2v1h-2zM38 76h1v1h-1zM40 76h1v1h-1zM42 76h5v1h-5zM77 76h2v1h-2zM82 76h1v1h-1zM34 77h1v1h-1zM38 77h2v1h-2zM42 77h5v1h-5zM75 77h3v1h-3zM35 78h1v1h-1zM39 78h1v1h-1zM42 78h4v1h-4zM74 78h5v1h-5zM35 79h1v1h-1zM39 79h3v1h-3zM43 79h1v1h-1zM45 79h1v1h-1zM74 79h2v1h-2zM77 79h1v1h-1zM27 80h1v1h-1zM39 80h2v1h-2zM43 80h1v1h-1zM73 80h2v1h-2zM102 80h1v1h-1zM35 81h1v1h-1zM39 81h2v1h-2zM42 81h1v1h-1zM71 81h4v1h-4zM21 82h1v1h-1zM29 82h1v1h-1zM32 82h11v1h-11zM71 82h4v1h-4zM22 83h1v1h-1zM28 83h1v1h-1zM32 83h2v1h-2zM38 83h1v1h-1zM42 83h1v1h-1zM70 83h4v1h-4zM76 83h1v1h-1zM131 83h1v1h-1zM14 84h1v1h-1zM33 84h1v1h-1zM36 84h5v1h-5zM70 84h1v1h-1zM72 84h1v1h-1zM21 85h1v1h-1zM35 85h4v1h-4zM40 85h1v1h-1zM69 85h2v1h-2zM72 85h1v1h-1zM23 86h1v1h-1zM32 86h1v1h-1zM35 86h4v1h-4zM68 86h4v1h-4zM73 86h1v1h-1zM4 87h1v1h-1zM19 87h1v1h-1zM22 87h1v1h-1zM33 87h2v1h-2zM36 87h2v1h-2zM67 87h2v1h-2zM71 87h1v1h-1zM14 88h1v1h-1zM31 88h1v1h-1zM33 88h1v1h-1zM35 88h3v1h-3zM66 88h3v1h-3zM70 88h1v1h-1zM30 89h1v1h-1zM33 89h4v1h-4zM66 89h3v1h-3zM16 90h1v1h-1zM27 90h1v1h-1zM30 90h1v1h-1zM32 90h4v1h-4zM65 90h4v1h-4zM26 91h1v1h-1zM29 91h1v1h-1zM32 91h2v1h-2zM65 91h1v1h-1zM11 92h1v1h-1zM21 92h1v1h-1zM28 92h1v1h-1zM30 92h3v1h-3zM34 92h1v1h-1zM64 92h1v1h-1zM67 92h1v1h-1zM69 92h1v1h-1zM27 93h1v1h-1zM29 93h4v1h-4zM63 93h4v1h-4zM22 94h1v1h-1zM24 94h1v1h-1zM28 94h5v1h-5zM62 94h2v1h-2zM18 95h1v1h-1zM26 95h1v1h-1zM28 95h3v1h-3zM61 95h2v1h-2zM16 96h2v1h-2zM25 96h3v1h-3zM29 96h2v1h-2zM60 96h3v1h-3zM21 97h2v1h-2zM26 97h4v1h-4zM60 97h3v1h-3zM18 98h1v1h-1zM20 98h1v1h-1zM25 98h4v1h-4zM58 98h2v1h-2zM61 98h1v1h-1zM19 99h1v1h-1zM21 99h1v1h-1zM24 99h5v1h-5zM57 99h2v1h-2zM60 99h2v1h-2zM63 99h1v1h-1zM15 100h1v1h-1zM18 100h1v1h-1zM22 100h6v1h-6zM56 100h4v1h-4zM15 101h1v1h-1zM17 101h1v1h-1zM20 101h1v1h-1zM22 101h1v1h-1zM24 101h3v1h-3zM56 101h3v1h-3zM73 101h1v1h-1zM8 102h1v1h-1zM16 102h1v1h-1zM18 102h3v1h-3zM22 102h5v1h-5zM56 102h1v1h-1zM59 102h1v1h-1zM62 102h1v1h-1zM9 103h1v1h-1zM15 103h3v1h-3zM20 103h1v1h-1zM22 103h3v1h-3zM55 103h2v1h-2zM18 104h5v1h-5zM54 104h2v1h-2zM112 104h1v1h-1zM10 105h2v1h-2zM17 105h6v1h-6zM54 105h1v1h-1zM18 106h4v1h-4zM53 106h1v1h-1zM56 106h1v1h-1zM4 107h1v1h-1zM6 107h1v1h-1zM10 107h1v1h-1zM14 107h2v1h-2zM18 107h5v1h-5zM51 107h4v1h-4zM14 108h1v1h-1zM16 108h6v1h-6zM51 108h3v1h-3zM6 109h1v1h-1zM9 109h1v1h-1zM12 109h7v1h-7zM21 109h1v1h-1zM49 109h3v1h-3zM2 110h1v1h-1zM5 110h1v1h-1zM12 110h1v1h-1zM15 110h3v1h-3zM49 110h1v1h-1zM7 111h1v1h-1zM11 111h3v1h-3zM15 111h3v1h-3zM49 111h2v1h-2zM53 111h1v1h-1zM10 112h1v1h-1zM12 112h6v1h-6zM47 112h3v1h-3z"/>
<path fill="#30174e" d="M116 0h3v1h-3zM121 0h1v1h-1zM126 0h4v1h-4zM131 0h1v1h-1zM115 1h2v1h-2zM118 1h3v1h-3zM123 1h1v1h-1zM126 1h5v1h-5zM115 2h1v1h-1zM117 2h2v1h-2zM120 2h1v1h-1zM125 2h2v1h-2zM128 2h2v1h-2zM113 3h6v1h-6zM120 3h1v1h-1zM125 3h4v1h-4zM114 4h1v1h-1zM116 4h2v1h-2zM119 4h1v1h-1zM121 4h1v1h-1zM123 4h1v1h-1zM126 4h2v1h-2zM112 5h2v1h-2zM115 5h1v1h-1zM118 5h1v1h-1zM124 5h3v1h-3zM110 6h1v1h-1zM112 6h3v1h-3zM122 6h4v1h-4zM110 7h4v1h-4zM115 7h1v1h-1zM117 7h1v1h-1zM122 7h4v1h-4zM109 8h1v1h-1zM111 8h1v1h-1zM113 8h1v1h-1zM115 8h1v1h-1zM117 8h1v1h-1zM119 8h5v1h-5zM125 8h1v1h-1zM109 9h4v1h-4zM114 9h1v1h-1zM116 9h2v1h-2zM121 9h2v1h-2zM124 9h1v1h-1zM107 10h6v1h-6zM114 10h1v1h-1zM120 10h3v1h-3zM106 11h6v1h-6zM113 11h1v1h-1zM119 11h3v1h-3zM123 11h1v1h-1zM106 12h7v1h-7zM115 12h3v1h-3zM120 12h2v1h-2zM105 13h8v1h-8zM116 13h5v1h-5zM106 14h3v1h-3zM111 14h2v1h-2zM115 14h4v1h-4zM120 14h1v1h-1zM104 15h3v1h-3zM108 15h3v1h-3zM115 15h6v1h-6zM104 16h1v1h-1zM106 16h1v1h-1zM108 16h1v1h-1zM116 16h2v1h-2zM101 17h6v1h-6zM108 17h1v1h-1zM113 17h1v1h-1zM115 17h1v1h-1zM117 17h1v1h-1zM99 18h1v1h-1zM103 18h3v1h-3zM107 18h2v1h-2zM111 18h1v1h-1zM113 18h3v1h-3zM100 19h4v1h-4zM106 19h1v1h-1zM113 19h4v1h-4zM99 20h6v1h-6zM106 20h2v1h-2zM110 20h1v1h-1zM113 20h2v1h-2zM100 21h2v1h-2zM103 21h2v1h-2zM111 21h3v1h-3zM98 22h4v1h-4zM107 22h1v1h-1zM109 22h4v1h-4zM93 23h1v1h-1zM98 23h6v1h-6zM109 23h4v1h-4zM96 24h1v1h-1zM98 24h3v1h-3zM108 24h3v1h-3zM92 25h4v1h-4zM97 25h3v1h-3zM103 25h1v1h-1zM106 25h6v1h-6zM93 26h6v1h-6zM103 26h1v1h-1zM107 26h3v1h-3zM91 27h2v1h-2zM95 27h2v1h-2zM98 27h1v1h-1zM104 27h2v1h-2zM107 27h4v1h-4zM91 28h2v1h-2zM94 28h3v1h-3zM98 28h2v1h-2zM101 28h1v1h-1zM104 28h2v1h-2zM107 28h1v1h-1zM90 29h2v1h-2zM97 29h1v1h-1zM106 29h2v1h-2zM86 30h1v1h-1zM95 30h1v1h-1zM103 30h4v1h-4zM85 31h1v1h-1zM90 31h1v1h-1zM102 31h4v1h-4zM84 32h3v1h-3zM88 32h1v1h-1zM90 32h1v1h-1zM96 32h1v1h-1zM101 32h4v1h-4zM81 33h1v1h-1zM83 33h6v1h-6zM100 33h1v1h-1zM102 33h3v1h-3zM82 34h8v1h-8zM101 34h2v1h-2zM104 34h1v1h-1zM86 35h2v1h-2zM89 35h1v1h-1zM100 35h1v1h-1zM102 35h1v1h-1zM81 36h3v1h-3zM88 36h1v1h-1zM99 36h4v1h-4zM78 37h4v1h-4zM99 37h3v1h-3zM79 38h2v1h-2zM89 38h1v1h-1zM97 38h3v1h-3zM78 39h3v1h-3zM88 39h1v1h-1zM96 39h1v1h-1zM98 39h2v1h-2zM76 40h3v1h-3zM97 40h3v1h-3zM77 41h1v1h-1zM98 41h1v1h-1zM74 42h4v1h-4zM96 42h2v1h-2zM73 43h4v1h-4zM97 43h1v1h-1zM74 44h2v1h-2zM96 44h1v1h-1zM73 45h2v1h-2zM95 45h1v1h-1zM73 46h1v1h-1zM95 46h1v1h-1zM71 47h2v1h-2zM94 47h1v1h-1zM69 48h5v1h-5zM93 48h1v1h-1zM70 49h2v1h-2zM94 49h1v1h-1zM69 50h3v1h-3zM90 50h1v1h-1zM93 50h1v1h-1zM67 51h2v1h-2zM88 51h5v1h-5zM67 52h3v1h-3zM89 52h4v1h-4zM67 53h3v1h-3zM88 53h4v1h-4zM64 54h5v1h-5zM88 54h1v1h-1zM91 54h1v1h-1zM65 55h1v1h-1zM63 56h1v1h-1zM65 56h1v1h-1zM63 57h2v1h-2zM87 57h1v1h-1zM63 58h2v1h-2zM86 58h1v1h-1zM61 59h3v1h-3zM86 59h1v1h-1zM61 60h2v1h-2zM86 60h1v1h-1zM59 61h2v1h-2zM85 61h1v1h-1zM58 62h3v1h-3zM84 62h2v1h-2zM59 63h1v1h-1zM84 63h1v1h-1zM58 64h2v1h-2zM55 65h1v1h-1zM57 65h2v1h-2zM82 65h2v1h-2zM55 66h4v1h-4zM83 66h1v1h-1zM55 67h3v1h-3zM81 67h1v1h-1zM52 68h1v1h-1zM54 68h3v1h-3zM81 68h1v1h-1zM80 69h1v1h-1zM52 70h1v1h-1zM54 70h1v1h-1zM79 70h2v1h-2zM53 71h1v1h-1zM79 71h1v1h-1zM49 72h5v1h-5zM78 72h1v1h-1zM51 73h1v1h-1zM76 73h2v1h-2zM48 74h1v1h-1zM50 74h2v1h-2zM76 74h1v1h-1zM48 75h3v1h-3zM76 75h1v1h-1zM47 76h3v1h-3zM74 76h3v1h-3zM47 77h2v1h-2zM73 77h2v1h-2zM46 78h3v1h-3zM73 78h1v1h-1zM44 79h1v1h-1zM46 79h2v1h-2zM72 79h2v1h-2zM42 80h1v1h-1zM44 80h2v1h-2zM71 80h2v1h-2zM43 81h2v1h-2zM70 81h1v1h-1zM44 82h1v1h-1zM69 82h2v1h-2zM40 83h2v1h-2zM69 83h1v1h-1zM41 84h2v1h-2zM68 84h2v1h-2zM39 85h1v1h-1zM41 85h2v1h-2zM68 85h1v1h-1zM39 86h3v1h-3zM66 86h2v1h-2zM38 87h3v1h-3zM66 87h1v1h-1zM38 88h1v1h-1zM65 88h1v1h-1zM37 89h2v1h-2zM64 89h2v1h-2zM36 90h2v1h-2zM64 90h1v1h-1zM34 91h2v1h-2zM63 91h2v1h-2zM33 92h1v1h-1zM35 92h2v1h-2zM62 92h2v1h-2zM33 93h3v1h-3zM61 93h2v1h-2zM33 94h1v1h-1zM60 94h2v1h-2zM31 95h3v1h-3zM60 95h1v1h-1zM31 96h3v1h-3zM59 96h1v1h-1zM30 97h3v1h-3zM58 97h2v1h-2zM29 98h3v1h-3zM57 98h1v1h-1zM29 99h3v1h-3zM56 99h1v1h-1zM28 100h2v1h-2zM27 101h2v1h-2zM55 101h1v1h-1zM27 102h1v1h-1zM53 102h3v1h-3zM25 103h3v1h-3zM53 103h2v1h-2zM23 104h3v1h-3zM53 104h1v1h-1zM23 105h3v1h-3zM52 105h2v1h-2zM22 106h2v1h-2zM51 106h2v1h-2zM23 107h2v1h-2zM50 107h1v1h-1zM22 108h2v1h-2zM49 108h2v1h-2zM19 109h2v1h-2zM18 110h4v1h-4zM48 110h1v1h-1zM18 111h3v1h-3zM47 111h2v1h-2zM18 112h3v1h-3zM46 112h1v1h-1z"/>
<path fill="#311b56" d="M119 0h2v1h-2zM122 0h4v1h-4zM121 1h2v1h-2zM124 1h2v1h-2zM119 2h1v1h-1zM121 2h4v1h-4zM127 2h1v1h-1zM119 3h1v1h-1zM121 3h4v1h-4zM115 4h1v1h-1zM118 4h1v1h-1zM120 4h1v1h-1zM122 4h1v1h-1zM124 4h2v1h-2zM114 5h1v1h-1zM116 5h2v1h-2zM119 5h5v1h-5zM115 6h7v1h-7zM114 7h1v1h-1zM116 7h1v1h-1zM118 7h4v1h-4zM114 8h1v1h-1zM116 8h1v1h-1zM118 8h1v1h-1zM113 9h1v1h-1zM115 9h1v1h-1zM118 9h3v1h-3zM113 10h1v1h-1zM115 10h5v1h-5zM112 11h1v1h-1zM114 11h5v1h-5zM113 12h2v1h-2zM119 12h1v1h-1zM113 13h3v1h-3zM109 14h2v1h-2zM113 14h2v1h-2zM107 15h1v1h-1zM111 15h4v1h-4zM105 16h1v1h-1zM107 16h1v1h-1zM109 16h7v1h-7zM107 17h1v1h-1zM109 17h4v1h-4zM114 17h1v1h-1zM106 18h1v1h-1zM109 18h2v1h-2zM112 18h1v1h-1zM104 19h2v1h-2zM107 19h6v1h-6zM105 20h1v1h-1zM108 20h2v1h-2zM111 20h2v1h-2zM102 21h1v1h-1zM105 21h6v1h-6zM102 22h5v1h-5zM108 22h1v1h-1zM104 23h5v1h-5zM101 24h7v1h-7zM100 25h3v1h-3zM104 25h2v1h-2zM92 26h1v1h-1zM99 26h4v1h-4zM104 26h3v1h-3zM93 27h2v1h-2zM97 27h1v1h-1zM99 27h5v1h-5zM106 27h1v1h-1zM93 28h1v1h-1zM97 28h1v1h-1zM100 28h1v1h-1zM102 28h2v1h-2zM106 28h1v1h-1zM92 29h5v1h-5zM98 29h3v1h-3zM102 29h4v1h-4zM91 30h2v1h-2zM94 30h1v1h-1zM96 30h7v1h-7zM91 31h1v1h-1zM94 31h8v1h-8zM91 32h1v1h-1zM95 32h1v1h-1zM97 32h4v1h-4zM90 33h2v1h-2zM95 33h5v1h-5zM101 33h1v1h-1zM90 34h1v1h-1zM95 34h1v1h-1zM97 34h4v1h-4zM83 35h3v1h-3zM88 35h1v1h-1zM90 35h2v1h-2zM96 35h4v1h-4zM84 36h4v1h-4zM89 36h1v1h-1zM96 36h3v1h-3zM82 37h3v1h-3zM86 37h5v1h-5zM95 37h4v1h-4zM81 38h2v1h-2zM86 38h3v1h-3zM95 38h1v1h-1zM81 39h1v1h-1zM86 39h2v1h-2zM89 39h1v1h-1zM95 39h1v1h-1zM97 39h1v1h-1zM79 40h1v1h-1zM87 40h3v1h-3zM96 40h1v1h-1zM78 41h2v1h-2zM88 41h1v1h-1zM96 41h1v1h-1zM78 42h2v1h-2zM88 42h1v1h-1zM95 42h1v1h-1zM77 43h2v1h-2zM90 43h1v1h-1zM95 43h1v1h-1zM76 44h2v1h-2zM95 44h1v1h-1zM75 45h1v1h-1zM89 45h1v1h-1zM94 45h1v1h-1zM74 46h3v1h-3zM94 46h1v1h-1zM73 47h2v1h-2zM91 47h1v1h-1zM93 47h1v1h-1zM89 48h1v1h-1zM91 48h2v1h-2zM72 49h2v1h-2zM89 49h5v1h-5zM88 50h2v1h-2zM91 50h2v1h-2zM69 51h3v1h-3zM87 51h1v1h-1zM70 52h1v1h-1zM88 52h1v1h-1zM87 54h1v1h-1zM66 55h2v1h-2zM87 55h1v1h-1zM66 56h2v1h-2zM87 56h1v1h-1zM65 57h2v1h-2zM86 57h1v1h-1zM65 59h1v1h-1zM85 59h1v1h-1zM63 60h2v1h-2zM85 60h1v1h-1zM61 61h3v1h-3zM61 62h2v1h-2zM60 63h2v1h-2zM83 63h1v1h-1zM60 64h1v1h-1zM83 64h1v1h-1zM59 65h1v1h-1zM81 66h2v1h-2zM58 67h1v1h-1zM80 67h1v1h-1zM82 67h1v1h-1zM79 68h2v1h-2zM54 69h3v1h-3zM78 69h2v1h-2zM53 70h1v1h-1zM55 70h2v1h-2zM78 70h1v1h-1zM54 71h2v1h-2zM77 71h2v1h-2zM76 72h2v1h-2zM52 73h2v1h-2zM75 74h1v1h-1zM51 75h1v1h-1zM74 75h2v1h-2zM73 76h1v1h-1zM49 77h1v1h-1zM49 78h1v1h-1zM72 78h1v1h-1zM48 79h1v1h-1zM71 79h1v1h-1zM46 80h2v1h-2zM70 80h1v1h-1zM45 81h2v1h-2zM69 81h1v1h-1zM43 82h1v1h-1zM45 82h2v1h-2zM68 82h1v1h-1zM43 83h3v1h-3zM68 83h1v1h-1zM43 84h2v1h-2zM43 85h1v1h-1zM66 85h2v1h-2zM42 86h1v1h-1zM41 87h1v1h-1zM65 87h1v1h-1zM39 88h1v1h-1zM41 88h1v1h-1zM64 88h1v1h-1zM39 89h2v1h-2zM63 89h1v1h-1zM38 90h2v1h-2zM63 90h1v1h-1zM36 91h3v1h-3zM61 91h2v1h-2zM37 92h1v1h-1zM61 92h1v1h-1zM36 93h1v1h-1zM60 93h1v1h-1zM34 94h2v1h-2zM59 94h1v1h-1zM34 95h1v1h-1zM59 95h1v1h-1zM58 96h1v1h-1zM33 97h2v1h-2zM57 97h1v1h-1zM32 98h2v1h-2zM56 98h1v1h-1zM30 100h1v1h-1zM54 100h2v1h-2zM29 101h2v1h-2zM53 101h2v1h-2zM28 102h1v1h-1zM30 102h1v1h-1zM28 103h1v1h-1zM52 103h1v1h-1zM26 104h3v1h-3zM51 104h2v1h-2zM26 105h2v1h-2zM51 105h1v1h-1zM24 106h3v1h-3zM49 106h2v1h-2zM25 107h1v1h-1zM49 107h1v1h-1zM24 108h2v1h-2zM48 108h1v1h-1zM22 109h3v1h-3zM46 109h3v1h-3zM22 110h1v1h-1zM47 110h1v1h-1zM21 111h2v1h-2zM46 111h1v1h-1zM21 112h1v1h-1zM45 112h1v1h-1z"/>
<path fill="#331e5d" d="M101 29h1v1h-1zM93 30h1v1h-1zM92 31h2v1h-2zM92 32h3v1h-3zM91 34h1v1h-1zM94 34h1v1h-1zM96 34h1v1h-1zM94 35h2v1h-2zM90 36h1v1h-1zM95 36h1v1h-1zM85 37h1v1h-1zM91 37h1v1h-1zM83 38h3v1h-3zM90 38h1v1h-1zM94 38h1v1h-1zM96 38h1v1h-1zM82 39h2v1h-2zM90 39h2v1h-2zM80 40h2v1h-2zM90 40h1v1h-1zM95 40h1v1h-1zM80 41h2v1h-2zM87 41h1v1h-1zM89 41h2v1h-2zM94 41h2v1h-2zM89 42h2v1h-2zM94 42h1v1h-1zM79 43h2v1h-2zM88 43h2v1h-2zM94 43h1v1h-1zM78 44h1v1h-1zM87 44h4v1h-4zM93 44h2v1h-2zM76 45h2v1h-2zM88 45h1v1h-1zM90 45h1v1h-1zM93 45h1v1h-1zM77 46h1v1h-1zM88 46h4v1h-4zM93 46h1v1h-1zM75 47h2v1h-2zM88 47h3v1h-3zM92 47h1v1h-1zM74 48h3v1h-3zM87 48h2v1h-2zM90 48h1v1h-1zM74 49h1v1h-1zM88 49h1v1h-1zM72 50h3v1h-3zM87 50h1v1h-1zM72 51h1v1h-1zM71 52h2v1h-2zM87 52h1v1h-1zM70 53h1v1h-1zM87 53h1v1h-1zM69 54h2v1h-2zM86 54h1v1h-1zM68 55h2v1h-2zM86 55h1v1h-1zM68 56h2v1h-2zM86 56h1v1h-1zM67 57h1v1h-1zM65 58h3v1h-3zM64 59h1v1h-1zM65 60h1v1h-1zM84 60h1v1h-1zM64 61h1v1h-1zM84 61h1v1h-1zM63 62h1v1h-1zM83 62h1v1h-1zM62 63h1v1h-1zM61 64h2v1h-2zM82 64h1v1h-1zM60 65h1v1h-1zM80 65h2v1h-2zM59 66h2v1h-2zM80 66h1v1h-1zM59 67h2v1h-2zM79 67h1v1h-1zM57 68h2v1h-2zM78 68h1v1h-1zM57 69h1v1h-1zM76 70h2v1h-2zM54 72h2v1h-2zM75 72h1v1h-1zM54 73h1v1h-1zM74 73h2v1h-2zM52 74h2v1h-2zM74 74h1v1h-1zM52 75h2v1h-2zM50 76h2v1h-2zM72 76h1v1h-1zM50 77h1v1h-1zM52 77h1v1h-1zM72 77h1v1h-1zM50 78h1v1h-1zM71 78h1v1h-1zM49 79h1v1h-1zM70 79h1v1h-1zM48 80h1v1h-1zM69 80h1v1h-1zM47 81h1v1h-1zM68 81h1v1h-1zM47 82h1v1h-1zM67 82h1v1h-1zM46 83h1v1h-1zM67 83h1v1h-1zM66 84h2v1h-2zM44 85h2v1h-2zM65 85h1v1h-1zM65 86h1v1h-1zM42 87h2v1h-2zM64 87h1v1h-1zM40 88h1v1h-1zM42 88h1v1h-1zM63 88h1v1h-1zM41 89h1v1h-1zM62 89h1v1h-1zM40 90h1v1h-1zM61 90h2v1h-2zM39 91h2v1h-2zM38 92h2v1h-2zM60 92h1v1h-1zM37 93h2v1h-2zM59 93h1v1h-1zM36 94h1v1h-1zM58 94h1v1h-1zM35 95h2v1h-2zM57 95h2v1h-2zM34 96h3v1h-3zM57 96h1v1h-1zM56 97h1v1h-1zM55 98h1v1h-1zM32 99h2v1h-2zM54 99h2v1h-2zM31 100h2v1h-2zM31 101h1v1h-1zM52 101h1v1h-1zM29 102h1v1h-1zM31 102h1v1h-1zM52 102h1v1h-1zM29 103h2v1h-2zM51 103h1v1h-1zM29 104h1v1h-1zM50 104h1v1h-1zM49 105h2v1h-2zM27 106h1v1h-1zM48 107h1v1h-1zM47 108h1v1h-1zM25 109h1v1h-1zM23 110h1v1h-1zM46 110h1v1h-1zM23 111h2v1h-2zM45 111h1v1h-1zM44 112h1v1h-1z"/>
<path fill="#352165" d="M92 33h3v1h-3zM92 34h2v1h-2zM92 35h2v1h-2zM91 36h2v1h-2zM94 36h1v1h-1zM94 37h1v1h-1zM91 38h3v1h-3zM84 39h2v1h-2zM92 39h1v1h-1zM94 39h1v1h-1zM82 40h5v1h-5zM91 40h1v1h-1zM94 40h1v1h-1zM82 41h2v1h-2zM91 41h1v1h-1zM93 41h1v1h-1zM80 42h2v1h-2zM86 42h2v1h-2zM91 42h1v1h-1zM93 42h1v1h-1zM87 43h1v1h-1zM91 43h1v1h-1zM93 43h1v1h-1zM79 44h1v1h-1zM91 44h2v1h-2zM78 45h2v1h-2zM87 45h1v1h-1zM91 45h2v1h-2zM78 46h1v1h-1zM87 46h1v1h-1zM92 46h1v1h-1zM87 47h1v1h-1zM75 49h2v1h-2zM87 49h1v1h-1zM73 51h2v1h-2zM73 52h2v1h-2zM71 53h2v1h-2zM71 54h1v1h-1zM85 56h1v1h-1zM68 57h1v1h-1zM85 57h1v1h-1zM68 58h1v1h-1zM85 58h1v1h-1zM66 59h2v1h-2zM83 59h2v1h-2zM83 60h1v1h-1zM65 61h1v1h-1zM83 61h1v1h-1zM64 62h2v1h-2zM82 62h1v1h-1zM63 63h1v1h-1zM81 63h2v1h-2zM81 64h1v1h-1zM61 65h2v1h-2zM61 66h1v1h-1zM79 66h1v1h-1zM61 67h1v1h-1zM78 67h1v1h-1zM59 68h2v1h-2zM77 68h1v1h-1zM58 69h2v1h-2zM57 70h2v1h-2zM56 71h2v1h-2zM75 71h2v1h-2zM56 72h1v1h-1zM55 73h2v1h-2zM73 74h1v1h-1zM72 75h2v1h-2zM52 76h2v1h-2zM71 76h1v1h-1zM51 77h1v1h-1zM71 77h1v1h-1zM51 78h1v1h-1zM70 78h1v1h-1zM69 79h1v1h-1zM49 80h1v1h-1zM68 80h1v1h-1zM48 81h2v1h-2zM67 81h1v1h-1zM48 82h1v1h-1zM66 83h1v1h-1zM45 84h2v1h-2zM65 84h1v1h-1zM64 85h1v1h-1zM43 86h2v1h-2zM64 86h1v1h-1zM44 87h1v1h-1zM62 87h2v1h-2zM43 88h1v1h-1zM42 89h1v1h-1zM61 89h1v1h-1zM41 90h1v1h-1zM60 90h1v1h-1zM59 91h2v1h-2zM59 92h1v1h-1zM58 93h1v1h-1zM37 94h2v1h-2zM57 94h1v1h-1zM37 95h1v1h-1zM56 95h1v1h-1zM35 97h1v1h-1zM55 97h1v1h-1zM34 98h2v1h-2zM34 99h1v1h-1zM33 100h1v1h-1zM53 100h1v1h-1zM32 101h1v1h-1zM51 101h1v1h-1zM51 102h1v1h-1zM50 103h1v1h-1zM49 104h1v1h-1zM28 105h2v1h-2zM48 105h1v1h-1zM28 106h1v1h-1zM26 107h2v1h-2zM47 107h1v1h-1zM26 108h1v1h-1zM46 108h1v1h-1zM24 110h2v1h-2zM45 110h1v1h-1zM44 111h1v1h-1zM22 112h1v1h-1zM24 112h1v1h-1zM43 112h1v1h-1z"/>
<path fill="#36246c" d="M93 36h1v1h-1zM92 37h2v1h-2zM93 39h1v1h-1zM92 40h2v1h-2zM84 41h3v1h-3zM82 42h2v1h-2zM92 42h1v1h-1zM81 43h1v1h-1zM84 43h1v1h-1zM86 43h1v1h-1zM92 43h1v1h-1zM80 44h2v1h-2zM86 44h1v1h-1zM80 45h1v1h-1zM86 45h1v1h-1zM79 46h2v1h-2zM77 47h2v1h-2zM77 48h1v1h-1zM86 48h1v1h-1zM75 50h2v1h-2zM86 50h1v1h-1zM75 51h1v1h-1zM86 51h1v1h-1zM74 53h1v1h-1zM86 53h1v1h-1zM72 54h1v1h-1zM85 54h1v1h-1zM70 55h2v1h-2zM70 56h2v1h-2zM69 57h1v1h-1zM69 58h1v1h-1zM83 58h2v1h-2zM68 59h1v1h-1zM66 60h2v1h-2zM66 61h1v1h-1zM82 61h1v1h-1zM64 63h3v1h-3zM80 63h1v1h-1zM63 64h1v1h-1zM80 64h1v1h-1zM63 65h1v1h-1zM79 65h1v1h-1zM62 66h1v1h-1zM62 67h1v1h-1zM61 68h1v1h-1zM76 68h1v1h-1zM60 69h1v1h-1zM76 69h2v1h-2zM59 70h1v1h-1zM75 70h1v1h-1zM58 71h1v1h-1zM57 72h1v1h-1zM73 72h2v1h-2zM57 73h1v1h-1zM73 73h1v1h-1zM54 74h2v1h-2zM72 74h1v1h-1zM54 75h2v1h-2zM71 75h1v1h-1zM54 76h1v1h-1zM53 77h1v1h-1zM70 77h1v1h-1zM52 78h1v1h-1zM69 78h1v1h-1zM50 79h3v1h-3zM50 80h2v1h-2zM67 80h1v1h-1zM50 81h1v1h-1zM49 82h1v1h-1zM65 82h2v1h-2zM47 83h2v1h-2zM65 83h1v1h-1zM47 84h1v1h-1zM64 84h1v1h-1zM46 85h1v1h-1zM45 86h1v1h-1zM62 86h2v1h-2zM45 87h1v1h-1zM44 88h1v1h-1zM61 88h2v1h-2zM43 89h1v1h-1zM60 89h1v1h-1zM42 91h1v1h-1zM40 92h1v1h-1zM58 92h1v1h-1zM39 93h2v1h-2zM57 93h1v1h-1zM56 94h1v1h-1zM38 95h1v1h-1zM37 96h1v1h-1zM55 96h2v1h-2zM36 97h2v1h-2zM54 97h1v1h-1zM54 98h1v1h-1zM35 99h1v1h-1zM52 99h2v1h-2zM35 100h1v1h-1zM51 100h2v1h-2zM33 101h1v1h-1zM32 102h2v1h-2zM49 102h1v1h-1zM31 103h2v1h-2zM49 103h1v1h-1zM30 104h2v1h-2zM30 105h1v1h-1zM29 106h1v1h-1zM47 106h2v1h-2zM28 107h1v1h-1zM46 107h1v1h-1zM27 108h2v1h-2zM45 108h1v1h-1zM26 109h2v1h-2zM45 109h1v1h-1zM26 110h1v1h-1zM44 110h1v1h-1zM25 111h1v1h-1zM43 111h1v1h-1zM23 112h1v1h-1z"/>
<path fill="#382773" d="M92 41h1v1h-1zM84 42h2v1h-2zM82 43h2v1h-2zM85 43h1v1h-1zM82 44h4v1h-4zM81 45h1v1h-1zM86 46h1v1h-1zM79 47h1v1h-1zM81 47h1v1h-1zM86 47h1v1h-1zM78 48h2v1h-2zM77 49h1v1h-1zM86 49h1v1h-1zM77 50h1v1h-1zM76 51h1v1h-1zM75 52h1v1h-1zM85 52h2v1h-2zM73 53h1v1h-1zM85 53h1v1h-1zM73 54h1v1h-1zM72 55h2v1h-2zM85 55h1v1h-1zM84 56h1v1h-1zM70 57h2v1h-2zM84 57h1v1h-1zM70 58h2v1h-2zM69 59h1v1h-1zM68 60h2v1h-2zM82 60h1v1h-1zM67 61h2v1h-2zM66 62h2v1h-2zM80 62h2v1h-2zM67 63h1v1h-1zM64 64h1v1h-1zM79 64h1v1h-1zM64 65h1v1h-1zM63 66h1v1h-1zM78 66h1v1h-1zM77 67h1v1h-1zM61 69h1v1h-1zM75 69h1v1h-1zM60 70h1v1h-1zM74 71h1v1h-1zM58 72h1v1h-1zM72 73h1v1h-1zM56 74h1v1h-1zM56 75h1v1h-1zM55 76h1v1h-1zM70 76h1v1h-1zM69 77h1v1h-1zM53 78h1v1h-1zM68 78h1v1h-1zM68 79h1v1h-1zM52 80h1v1h-1zM66 81h1v1h-1zM50 82h2v1h-2zM49 83h1v1h-1zM48 84h1v1h-1zM47 85h1v1h-1zM46 86h2v1h-2zM61 87h1v1h-1zM45 88h1v1h-1zM42 90h2v1h-2zM59 90h1v1h-1zM41 91h1v1h-1zM43 91h1v1h-1zM41 92h2v1h-2zM57 92h1v1h-1zM41 93h1v1h-1zM39 94h2v1h-2zM55 95h1v1h-1zM38 96h1v1h-1zM54 96h1v1h-1zM36 98h1v1h-1zM52 98h2v1h-2zM51 99h1v1h-1zM34 100h1v1h-1zM34 101h1v1h-1zM50 101h1v1h-1zM50 102h1v1h-1zM32 104h1v1h-1zM48 104h1v1h-1zM31 105h1v1h-1zM47 105h1v1h-1zM46 106h1v1h-1zM29 107h1v1h-1zM45 107h1v1h-1zM29 108h1v1h-1zM44 109h1v1h-1zM27 110h1v1h-1zM43 110h1v1h-1zM27 111h1v1h-1zM42 111h1v1h-1zM25 112h1v1h-1zM42 112h1v1h-1z"/>
<path fill="#392a7a" d="M82 45h4v1h-4zM81 46h1v1h-1zM85 46h1v1h-1zM80 47h1v1h-1zM85 47h1v1h-1zM78 49h1v1h-1zM78 50h1v1h-1zM77 51h1v1h-1zM79 51h1v1h-1zM76 52h1v1h-1zM75 53h1v1h-1zM74 54h2v1h-2zM74 55h1v1h-1zM84 55h1v1h-1zM72 56h2v1h-2zM83 56h1v1h-1zM72 57h1v1h-1zM72 58h1v1h-1zM82 58h1v1h-1zM71 59h1v1h-1zM82 59h1v1h-1zM70 60h1v1h-1zM69 61h1v1h-1zM81 61h1v1h-1zM68 63h1v1h-1zM79 63h1v1h-1zM65 64h2v1h-2zM78 64h1v1h-1zM65 65h1v1h-1zM78 65h1v1h-1zM64 66h1v1h-1zM63 67h2v1h-2zM63 68h1v1h-1zM62 69h1v1h-1zM74 70h1v1h-1zM59 71h1v1h-1zM73 71h1v1h-1zM59 72h1v1h-1zM72 72h1v1h-1zM58 73h2v1h-2zM57 74h1v1h-1zM71 74h1v1h-1zM57 75h1v1h-1zM70 75h1v1h-1zM56 76h1v1h-1zM54 77h2v1h-2zM54 78h1v1h-1zM67 78h1v1h-1zM53 79h1v1h-1zM66 80h1v1h-1zM51 81h1v1h-1zM65 81h1v1h-1zM50 83h1v1h-1zM63 83h2v1h-2zM49 84h1v1h-1zM63 84h1v1h-1zM48 85h2v1h-2zM62 85h2v1h-2zM48 86h1v1h-1zM61 86h1v1h-1zM46 87h1v1h-1zM46 88h1v1h-1zM60 88h1v1h-1zM44 89h2v1h-2zM59 89h1v1h-1zM58 90h1v1h-1zM57 91h2v1h-2zM43 92h1v1h-1zM55 93h2v1h-2zM41 94h1v1h-1zM55 94h1v1h-1zM39 95h1v1h-1zM54 95h1v1h-1zM39 96h2v1h-2zM53 96h1v1h-1zM38 97h1v1h-1zM52 97h2v1h-2zM37 98h1v1h-1zM36 99h2v1h-2zM36 100h1v1h-1zM35 101h1v1h-1zM49 101h1v1h-1zM34 102h1v1h-1zM33 103h1v1h-1zM48 103h1v1h-1zM47 104h1v1h-1zM46 105h1v1h-1zM30 106h2v1h-2zM30 107h2v1h-2zM44 108h1v1h-1zM28 109h1v1h-1zM43 109h1v1h-1zM28 110h2v1h-2zM42 110h1v1h-1zM26 111h1v1h-1zM26 112h1v1h-1zM41 112h1v1h-1z"/>
<path fill="#3b2d81" d="M82 46h1v1h-1zM84 46h1v1h-1zM82 47h1v1h-1zM80 48h2v1h-2zM84 48h2v1h-2zM79 49h1v1h-1zM82 49h1v1h-1zM84 49h2v1h-2zM80 50h1v1h-1zM85 50h1v1h-1zM78 51h1v1h-1zM85 51h1v1h-1zM77 52h1v1h-1zM84 52h1v1h-1zM76 53h2v1h-2zM76 54h1v1h-1zM84 54h1v1h-1zM75 55h1v1h-1zM74 56h2v1h-2zM73 57h1v1h-1zM82 57h2v1h-2zM81 58h1v1h-1zM70 59h1v1h-1zM81 59h1v1h-1zM72 60h1v1h-1zM81 60h1v1h-1zM70 61h1v1h-1zM79 61h2v1h-2zM68 62h3v1h-3zM78 63h1v1h-1zM68 64h1v1h-1zM77 64h1v1h-1zM66 65h1v1h-1zM76 65h2v1h-2zM65 66h2v1h-2zM75 66h3v1h-3zM65 67h1v1h-1zM76 67h1v1h-1zM62 68h1v1h-1zM64 68h1v1h-1zM74 68h2v1h-2zM63 69h2v1h-2zM74 69h1v1h-1zM61 70h1v1h-1zM73 70h1v1h-1zM60 71h2v1h-2zM72 71h1v1h-1zM60 72h1v1h-1zM60 73h1v1h-1zM70 73h1v1h-1zM58 74h1v1h-1zM57 76h1v1h-1zM68 76h2v1h-2zM56 77h1v1h-1zM68 77h1v1h-1zM55 78h1v1h-1zM57 78h1v1h-1zM54 79h2v1h-2zM66 79h2v1h-2zM53 80h1v1h-1zM52 81h1v1h-1zM52 82h1v1h-1zM64 82h1v1h-1zM50 85h1v1h-1zM60 86h1v1h-1zM47 87h1v1h-1zM60 87h1v1h-1zM47 88h1v1h-1zM59 88h1v1h-1zM46 89h1v1h-1zM44 90h2v1h-2zM44 91h1v1h-1zM56 92h1v1h-1zM42 93h2v1h-2zM42 94h1v1h-1zM54 94h1v1h-1zM40 95h3v1h-3zM53 95h1v1h-1zM39 97h1v1h-1zM38 98h2v1h-2zM51 98h1v1h-1zM50 99h1v1h-1zM37 100h1v1h-1zM36 101h1v1h-1zM35 102h1v1h-1zM48 102h1v1h-1zM34 103h1v1h-1zM33 104h1v1h-1zM32 105h1v1h-1zM34 105h1v1h-1zM45 106h1v1h-1zM44 107h1v1h-1zM30 108h1v1h-1zM29 109h2v1h-2zM42 109h1v1h-1zM41 111h1v1h-1zM27 112h1v1h-1z"/>
<path fill="#3c3188" d="M83 46h1v1h-1zM83 47h2v1h-2zM82 48h2v1h-2zM80 49h2v1h-2zM83 49h1v1h-1zM79 50h1v1h-1zM81 50h2v1h-2zM84 50h1v1h-1zM80 51h2v1h-2zM83 51h2v1h-2zM78 52h3v1h-3zM78 53h1v1h-1zM80 53h1v1h-1zM84 53h1v1h-1zM77 54h1v1h-1zM76 55h1v1h-1zM79 55h1v1h-1zM81 55h1v1h-1zM83 55h1v1h-1zM81 57h1v1h-1zM73 58h1v1h-1zM72 59h1v1h-1zM80 59h1v1h-1zM71 60h1v1h-1zM78 60h1v1h-1zM80 60h1v1h-1zM77 62h3v1h-3zM69 63h1v1h-1zM77 63h1v1h-1zM67 64h1v1h-1zM76 64h1v1h-1zM67 65h1v1h-1zM70 65h1v1h-1zM74 67h2v1h-2zM65 69h2v1h-2zM73 69h1v1h-1zM62 70h1v1h-1zM71 72h1v1h-1zM61 73h1v1h-1zM71 73h1v1h-1zM59 74h1v1h-1zM69 74h2v1h-2zM58 75h3v1h-3zM69 75h1v1h-1zM58 76h1v1h-1zM57 77h1v1h-1zM67 77h1v1h-1zM66 78h1v1h-1zM56 79h1v1h-1zM65 79h1v1h-1zM54 80h1v1h-1zM56 80h1v1h-1zM64 80h2v1h-2zM55 81h1v1h-1zM64 81h1v1h-1zM63 82h1v1h-1zM51 83h3v1h-3zM50 84h2v1h-2zM62 84h1v1h-1zM61 85h1v1h-1zM49 86h1v1h-1zM51 86h1v1h-1zM48 87h2v1h-2zM59 87h1v1h-1zM48 89h1v1h-1zM58 89h1v1h-1zM46 90h1v1h-1zM57 90h1v1h-1zM45 91h1v1h-1zM56 91h1v1h-1zM44 92h1v1h-1zM44 93h1v1h-1zM54 93h1v1h-1zM43 95h1v1h-1zM41 96h2v1h-2zM52 96h1v1h-1zM40 97h1v1h-1zM51 97h1v1h-1zM50 98h1v1h-1zM38 99h1v1h-1zM38 100h1v1h-1zM49 100h2v1h-2zM37 101h1v1h-1zM47 102h1v1h-1zM35 103h1v1h-1zM47 103h1v1h-1zM34 104h2v1h-2zM46 104h1v1h-1zM33 105h1v1h-1zM45 105h1v1h-1zM32 106h1v1h-1zM32 107h1v1h-1zM43 107h1v1h-1zM31 108h1v1h-1zM43 108h1v1h-1zM31 109h1v1h-1zM30 110h1v1h-1zM41 110h1v1h-1zM28 111h1v1h-1zM40 111h1v1h-1zM29 112h1v1h-1zM39 112h2v1h-2z"/>
<path fill="#3e348e" d="M82 51h1v1h-1zM82 52h1v1h-1zM79 53h1v1h-1zM81 53h1v1h-1zM83 53h1v1h-1zM82 54h2v1h-2zM77 55h2v1h-2zM76 56h1v1h-1zM78 56h3v1h-3zM82 56h1v1h-1zM74 57h3v1h-3zM78 57h1v1h-1zM80 57h1v1h-1zM74 58h4v1h-4zM73 59h2v1h-2zM79 59h1v1h-1zM73 60h1v1h-1zM76 60h1v1h-1zM79 60h1v1h-1zM71 61h1v1h-1zM74 61h2v1h-2zM78 61h1v1h-1zM71 62h1v1h-1zM74 62h1v1h-1zM70 63h2v1h-2zM75 63h2v1h-2zM69 64h2v1h-2zM68 65h2v1h-2zM71 65h1v1h-1zM75 65h1v1h-1zM67 66h3v1h-3zM74 66h1v1h-1zM66 67h1v1h-1zM71 67h1v1h-1zM73 67h1v1h-1zM65 68h2v1h-2zM72 69h1v1h-1zM63 70h2v1h-2zM69 70h1v1h-1zM71 70h2v1h-2zM62 71h2v1h-2zM71 71h1v1h-1zM61 72h1v1h-1zM63 72h1v1h-1zM68 72h1v1h-1zM70 72h1v1h-1zM68 73h2v1h-2zM60 74h2v1h-2zM68 74h1v1h-1zM67 75h2v1h-2zM67 76h1v1h-1zM58 77h1v1h-1zM66 77h1v1h-1zM56 78h1v1h-1zM58 78h1v1h-1zM65 78h1v1h-1zM57 79h1v1h-1zM55 80h1v1h-1zM63 80h1v1h-1zM53 81h2v1h-2zM53 82h1v1h-1zM54 83h1v1h-1zM62 83h1v1h-1zM53 84h1v1h-1zM60 84h2v1h-2zM51 85h1v1h-1zM59 85h2v1h-2zM50 86h1v1h-1zM59 86h1v1h-1zM50 87h1v1h-1zM58 87h1v1h-1zM47 89h1v1h-1zM55 90h2v1h-2zM46 91h2v1h-2zM55 91h1v1h-1zM45 92h3v1h-3zM55 92h1v1h-1zM43 94h1v1h-1zM53 94h1v1h-1zM52 95h1v1h-1zM40 98h1v1h-1zM39 99h2v1h-2zM39 100h1v1h-1zM38 101h1v1h-1zM47 101h2v1h-2zM36 102h1v1h-1zM36 103h1v1h-1zM46 103h1v1h-1zM45 104h1v1h-1zM44 105h1v1h-1zM33 106h1v1h-1zM43 106h2v1h-2zM33 107h1v1h-1zM42 107h1v1h-1zM33 108h1v1h-1zM42 108h1v1h-1zM32 109h1v1h-1zM41 109h1v1h-1zM31 110h1v1h-1zM29 111h1v1h-1zM28 112h1v1h-1z"/>
<path fill="#3f3795" d="M83 50h1v1h-1zM81 52h1v1h-1zM83 52h1v1h-1zM78 54h4v1h-4zM80 55h1v1h-1zM82 55h1v1h-1zM77 56h1v1h-1zM81 56h1v1h-1zM77 57h1v1h-1zM79 57h1v1h-1zM78 58h3v1h-3zM75 59h1v1h-1zM77 59h2v1h-2zM74 60h2v1h-2zM77 60h1v1h-1zM72 61h2v1h-2zM76 61h2v1h-2zM72 62h1v1h-1zM76 62h1v1h-1zM72 63h1v1h-1zM74 63h1v1h-1zM71 64h1v1h-1zM73 64h3v1h-3zM72 65h3v1h-3zM73 66h1v1h-1zM67 67h2v1h-2zM70 67h1v1h-1zM72 67h1v1h-1zM67 68h3v1h-3zM71 68h3v1h-3zM67 69h1v1h-1zM69 69h1v1h-1zM65 70h2v1h-2zM68 70h1v1h-1zM70 70h1v1h-1zM64 71h3v1h-3zM68 71h1v1h-1zM70 71h1v1h-1zM62 72h1v1h-1zM64 72h1v1h-1zM62 73h1v1h-1zM65 73h1v1h-1zM62 74h2v1h-2zM67 74h1v1h-1zM61 75h1v1h-1zM65 75h1v1h-1zM59 76h3v1h-3zM66 76h1v1h-1zM59 77h1v1h-1zM65 77h1v1h-1zM59 78h1v1h-1zM64 78h1v1h-1zM58 79h2v1h-2zM61 79h1v1h-1zM64 79h1v1h-1zM57 81h1v1h-1zM63 81h1v1h-1zM54 82h2v1h-2zM60 82h1v1h-1zM56 83h1v1h-1zM60 83h2v1h-2zM52 86h1v1h-1zM48 88h3v1h-3zM57 88h2v1h-2zM49 89h1v1h-1zM55 89h1v1h-1zM57 89h1v1h-1zM47 90h2v1h-2zM48 91h2v1h-2zM48 92h2v1h-2zM52 92h1v1h-1zM54 92h1v1h-1zM45 93h1v1h-1zM50 93h1v1h-1zM52 93h1v1h-1zM44 94h2v1h-2zM51 95h1v1h-1zM50 96h2v1h-2zM41 97h2v1h-2zM49 97h2v1h-2zM41 98h1v1h-1zM49 98h1v1h-1zM41 99h1v1h-1zM48 99h2v1h-2zM40 100h1v1h-1zM47 100h2v1h-2zM37 102h3v1h-3zM37 103h2v1h-2zM45 103h1v1h-1zM36 104h1v1h-1zM44 104h1v1h-1zM35 105h1v1h-1zM43 105h1v1h-1zM34 106h1v1h-1zM36 106h1v1h-1zM41 107h1v1h-1zM32 108h1v1h-1zM35 108h1v1h-1zM41 108h1v1h-1zM40 110h1v1h-1zM30 111h1v1h-1zM38 111h2v1h-2zM30 112h1v1h-1zM37 112h2v1h-2z"/>
<path fill="#403a9b" d="M82 53h1v1h-1zM76 59h1v1h-1zM73 62h1v1h-1zM73 63h1v1h-1zM72 64h1v1h-1zM70 66h3v1h-3zM69 67h1v1h-1zM70 68h1v1h-1zM68 69h1v1h-1zM70 69h2v1h-2zM67 70h1v1h-1zM67 71h1v1h-1zM69 71h1v1h-1zM65 72h2v1h-2zM69 72h1v1h-1zM63 73h2v1h-2zM66 73h2v1h-2zM64 74h1v1h-1zM66 74h1v1h-1zM63 75h1v1h-1zM66 75h1v1h-1zM62 76h3v1h-3zM60 77h1v1h-1zM64 77h1v1h-1zM60 78h1v1h-1zM63 78h1v1h-1zM62 79h2v1h-2zM59 80h1v1h-1zM61 80h2v1h-2zM56 81h1v1h-1zM58 81h1v1h-1zM62 81h1v1h-1zM57 82h1v1h-1zM61 82h2v1h-2zM55 83h1v1h-1zM58 83h2v1h-2zM52 84h1v1h-1zM54 84h2v1h-2zM52 85h2v1h-2zM55 85h1v1h-1zM58 85h1v1h-1zM57 86h2v1h-2zM51 87h2v1h-2zM54 87h1v1h-1zM57 87h1v1h-1zM51 88h2v1h-2zM55 88h1v1h-1zM50 89h2v1h-2zM56 89h1v1h-1zM50 90h1v1h-1zM54 90h1v1h-1zM53 91h2v1h-2zM46 93h2v1h-2zM51 93h1v1h-1zM53 93h1v1h-1zM46 94h3v1h-3zM51 94h2v1h-2zM44 95h1v1h-1zM46 95h1v1h-1zM49 95h2v1h-2zM43 96h2v1h-2zM43 97h1v1h-1zM48 97h1v1h-1zM43 98h2v1h-2zM43 99h1v1h-1zM47 99h1v1h-1zM41 100h2v1h-2zM40 101h1v1h-1zM45 101h1v1h-1zM46 102h1v1h-1zM39 103h1v1h-1zM43 103h1v1h-1zM37 104h1v1h-1zM43 104h1v1h-1zM36 105h2v1h-2zM35 106h1v1h-1zM37 106h1v1h-1zM40 106h1v1h-1zM42 106h1v1h-1zM34 107h2v1h-2zM34 108h1v1h-1zM36 108h1v1h-1zM40 108h1v1h-1zM33 109h2v1h-2zM39 109h2v1h-2zM32 110h1v1h-1zM38 110h1v1h-1zM31 111h2v1h-2zM36 111h1v1h-1zM31 112h2v1h-2zM36 112h1v1h-1z"/>
<path fill="#423da1" d="M75 62h1v1h-1zM67 72h1v1h-1zM65 74h1v1h-1zM62 75h1v1h-1zM64 75h1v1h-1zM65 76h1v1h-1zM61 77h3v1h-3zM61 78h2v1h-2zM60 79h1v1h-1zM57 80h1v1h-1zM60 80h1v1h-1zM59 81h1v1h-1zM61 81h1v1h-1zM56 82h1v1h-1zM58 82h2v1h-2zM56 84h1v1h-1zM58 84h2v1h-2zM54 85h1v1h-1zM56 85h2v1h-2zM55 86h2v1h-2zM53 87h1v1h-1zM55 87h2v1h-2zM53 88h2v1h-2zM56 88h1v1h-1zM52 89h3v1h-3zM49 90h1v1h-1zM51 90h2v1h-2zM51 91h2v1h-2zM50 92h1v1h-1zM53 92h1v1h-1zM48 93h2v1h-2zM49 94h2v1h-2zM45 95h1v1h-1zM47 95h2v1h-2zM45 96h2v1h-2zM48 96h2v1h-2zM46 97h2v1h-2zM42 98h1v1h-1zM45 98h2v1h-2zM48 98h1v1h-1zM42 99h1v1h-1zM44 99h1v1h-1zM46 100h1v1h-1zM39 101h1v1h-1zM41 101h1v1h-1zM44 101h1v1h-1zM46 101h1v1h-1zM40 102h3v1h-3zM44 102h2v1h-2zM40 103h1v1h-1zM44 103h1v1h-1zM38 104h1v1h-1zM41 104h2v1h-2zM38 105h1v1h-1zM41 106h1v1h-1zM37 107h1v1h-1zM40 107h1v1h-1zM39 108h1v1h-1zM35 109h1v1h-1zM38 109h1v1h-1zM33 110h3v1h-3zM39 110h1v1h-1zM33 111h1v1h-1zM37 111h1v1h-1z"/>
<path fill="#4340a7" d="M58 80h1v1h-1zM60 81h1v1h-1zM57 83h1v1h-1zM57 84h1v1h-1zM53 86h2v1h-2zM53 90h1v1h-1zM51 92h1v1h-1zM44 97h2v1h-2zM47 98h1v1h-1zM45 99h2v1h-2zM43 100h3v1h-3zM42 101h2v1h-2zM43 102h1v1h-1zM41 103h2v1h-2zM39 104h2v1h-2zM40 105h3v1h-3zM38 106h2v1h-2zM36 107h1v1h-1zM39 107h1v1h-1zM37 108h1v1h-1zM36 109h2v1h-2zM36 110h1v1h-1zM34 111h2v1h-2zM33 112h1v1h-1zM35 112h1v1h-1z"/>
<path fill="#4443ad" d="M50 91h1v1h-1zM47 96h1v1h-1zM39 105h1v1h-1zM38 107h1v1h-1zM38 108h1v1h-1zM37 110h1v1h-1zM34 112h1v1h-1z"/>
</g>
<rect x="142" y="710.8" width="753" height="3.0" fill="#fff"/>
<rect x="142" y="713.7" width="753" height="1.4" fill="#000"/>
<rect x="651" y="466.75" width="201" height="199" rx="27" fill="#fff"/>
<rect x="722.5" y="535.9" width="111" height="111" rx="1" fill="#a9a9a9"/>
<circle cx="807.8" cy="563.4" r="17.2" fill="#fff"/><circle cx="807.8" cy="621.8" r="17.2" fill="#fff"/>
<rect x="669.7" y="535.9" width="110.8" height="111" rx="1" fill="#000"/>
<rect x="142" y="38" width="753" height="677" fill="none" stroke="#000" stroke-width="1.9"/>
<path d="M142.00 715.00v8.6M330.25 715.00v8.6M518.50 715.00v8.6M706.75 715.00v8.6M895.00 715.00v8.6" stroke="#000" stroke-width="1.9" fill="none"/>
<path d="M236.12 715.00v4.8M424.38 715.00v4.8M612.62 715.00v4.8M800.88 715.00v4.8" stroke="#000" stroke-width="1.4" fill="none"/>
<path d="M142.00 715.00h-8.6M142.00 594.11h-8.6M142.00 473.21h-8.6M142.00 352.32h-8.6M142.00 231.43h-8.6M142.00 110.54h-8.6" stroke="#000" stroke-width="1.9" fill="none"/>
<g font-family="'DejaVu Sans','Liberation Sans',sans-serif" font-size="39.6" fill="#000">
<text x="142.00" y="763.2" text-anchor="middle">840</text>
<text x="330.25" y="763.2" text-anchor="middle">850</text>
<text x="518.50" y="763.2" text-anchor="middle">860</text>
<text x="706.75" y="763.2" text-anchor="middle">870</text>
<text x="895.00" y="763.2" text-anchor="middle">880</text>
<text x="125" y="730.20" text-anchor="end">850</text>
<text x="125" y="609.31" text-anchor="end">855</text>
<text x="125" y="488.41" text-anchor="end">860</text>
<text x="125" y="367.52" text-anchor="end">865</text>
<text x="125" y="246.63" text-anchor="end">870</text>
<text x="125" y="125.74" text-anchor="end">875</text>
<text x="518.6" y="811" text-anchor="middle">Detected photon energy (eV)</text>
<text transform="translate(31.4,377.1) rotate(-90)" text-anchor="middle">Inconming FEL energy (eV)</text>
</g>
<rect x="942" y="38" width="34.5" height="677" fill="url(#tg)"/>
<rect x="942" y="38" width="34.5" height="677" fill="none" stroke="#000" stroke-width="1.9"/>
<path d="M976.50 715.00h8.4M976.50 602.17h8.4M976.50 489.33h8.4M976.50 376.50h8.4M976.50 263.67h8.4M976.50 150.83h8.4M976.50 38.00h8.4" stroke="#000" stroke-width="1.9" fill="none"/>
<g font-family="'DejaVu Sans','Liberation Sans',sans-serif" font-size="35" fill="#000">
<text x="992.8" y="728.40">0</text>
<text x="992.8" y="615.57">50</text>
<text x="992.8" y="502.73">100</text>
<text x="992.8" y="389.90">150</text>
<text x="992.8" y="277.07">200</text>
<text x="992.8" y="164.23">250</text>
<text x="992.8" y="51.40">300</text>
</g>
</g>
<text transform="translate(4,865.6) scale(0.9,1)" font-family="'Liberation Sans','DejaVu Sans',sans-serif" font-weight="bold" font-size="74" fill="#000">b</text>
<g transform="translate(0,1668.5)">
<rect x="142" y="38" width="753" height="677" fill="#2c113e"/>
<g transform="translate(142,38) scale(5.70455,5.99115)" shape-rendering="crispEdges">
<path fill="#2e1446" d="M104 0h1v1h-1zM106 0h1v1h-1zM108 0h6v1h-6zM130 0h1v1h-1zM93 1h1v1h-1zM107 1h4v1h-4zM113 1h1v1h-1zM103 2h1v1h-1zM106 2h1v1h-1zM108 2h3v1h-3zM112 2h1v1h-1zM131 2h1v1h-1zM107 3h5v1h-5zM131 3h1v1h-1zM83 4h1v1h-1zM94 4h1v1h-1zM96 4h1v1h-1zM101 4h1v1h-1zM104 4h1v1h-1zM107 4h4v1h-4zM130 4h2v1h-2zM94 5h1v1h-1zM106 5h3v1h-3zM130 5h2v1h-2zM35 6h1v1h-1zM103 6h2v1h-2zM106 6h3v1h-3zM128 6h4v1h-4zM102 7h8v1h-8zM128 7h2v1h-2zM93 8h1v1h-1zM101 8h1v1h-1zM103 8h5v1h-5zM124 8h1v1h-1zM130 8h1v1h-1zM87 9h1v1h-1zM92 9h1v1h-1zM96 9h1v1h-1zM103 9h4v1h-4zM126 9h3v1h-3zM130 9h2v1h-2zM91 10h1v1h-1zM97 10h3v1h-3zM102 10h2v1h-2zM125 10h5v1h-5zM24 11h1v1h-1zM79 11h1v1h-1zM99 11h1v1h-1zM101 11h3v1h-3zM105 11h1v1h-1zM124 11h5v1h-5zM94 12h1v1h-1zM96 12h1v1h-1zM98 12h6v1h-6zM122 12h1v1h-1zM124 12h4v1h-4zM86 13h1v1h-1zM96 13h1v1h-1zM101 13h2v1h-2zM122 13h4v1h-4zM127 13h1v1h-1zM96 14h1v1h-1zM99 14h1v1h-1zM101 14h1v1h-1zM121 14h3v1h-3zM126 14h1v1h-1zM28 15h1v1h-1zM92 15h1v1h-1zM95 15h1v1h-1zM98 15h2v1h-2zM101 15h1v1h-1zM120 15h5v1h-5zM95 16h1v1h-1zM97 16h3v1h-3zM120 16h4v1h-4zM91 17h8v1h-8zM119 17h3v1h-3zM123 17h2v1h-2zM91 18h1v1h-1zM93 18h3v1h-3zM97 18h1v1h-1zM99 18h2v1h-2zM119 18h4v1h-4zM91 19h6v1h-6zM98 19h1v1h-1zM118 19h1v1h-1zM120 19h1v1h-1zM84 20h1v1h-1zM91 20h7v1h-7zM117 20h3v1h-3zM79 21h1v1h-1zM84 21h1v1h-1zM87 21h1v1h-1zM90 21h1v1h-1zM92 21h1v1h-1zM94 21h3v1h-3zM116 21h5v1h-5zM84 22h2v1h-2zM87 22h1v1h-1zM89 22h3v1h-3zM95 22h2v1h-2zM115 22h1v1h-1zM117 22h4v1h-4zM83 23h2v1h-2zM86 23h1v1h-1zM88 23h5v1h-5zM114 23h4v1h-4zM83 24h1v1h-1zM85 24h1v1h-1zM89 24h3v1h-3zM114 24h3v1h-3zM87 25h4v1h-4zM112 25h3v1h-3zM84 26h7v1h-7zM112 26h2v1h-2zM115 26h1v1h-1zM80 27h11v1h-11zM111 27h3v1h-3zM53 28h1v1h-1zM62 28h1v1h-1zM81 28h8v1h-8zM111 28h2v1h-2zM114 28h1v1h-1zM54 29h1v1h-1zM68 29h1v1h-1zM75 29h1v1h-1zM79 29h2v1h-2zM83 29h1v1h-1zM85 29h5v1h-5zM110 29h2v1h-2zM76 30h1v1h-1zM79 30h1v1h-1zM82 30h4v1h-4zM88 30h2v1h-2zM110 30h2v1h-2zM115 30h1v1h-1zM60 31h1v1h-1zM75 31h1v1h-1zM77 31h1v1h-1zM80 31h6v1h-6zM88 31h1v1h-1zM108 31h3v1h-3zM115 31h1v1h-1zM77 32h5v1h-5zM83 32h1v1h-1zM87 32h1v1h-1zM108 32h3v1h-3zM73 33h1v1h-1zM76 33h1v1h-1zM78 33h4v1h-4zM106 33h4v1h-4zM74 34h1v1h-1zM77 34h5v1h-5zM106 34h1v1h-1zM108 34h2v1h-2zM74 35h1v1h-1zM76 35h5v1h-5zM105 35h3v1h-3zM69 36h1v1h-1zM77 36h3v1h-3zM104 36h3v1h-3zM108 36h1v1h-1zM127 36h1v1h-1zM67 37h1v1h-1zM70 37h1v1h-1zM73 37h4v1h-4zM78 37h2v1h-2zM103 37h3v1h-3zM23 38h1v1h-1zM73 38h2v1h-2zM76 38h2v1h-2zM102 38h1v1h-1zM104 38h1v1h-1zM70 39h1v1h-1zM72 39h6v1h-6zM102 39h3v1h-3zM73 40h3v1h-3zM102 40h4v1h-4zM45 41h1v1h-1zM67 41h1v1h-1zM70 41h6v1h-6zM100 41h2v1h-2zM67 42h2v1h-2zM70 42h5v1h-5zM100 42h3v1h-3zM60 43h1v1h-1zM65 43h1v1h-1zM68 43h6v1h-6zM97 43h1v1h-1zM99 43h2v1h-2zM102 43h2v1h-2zM61 44h1v1h-1zM63 44h1v1h-1zM69 44h4v1h-4zM98 44h3v1h-3zM102 44h1v1h-1zM40 45h1v1h-1zM46 45h1v1h-1zM65 45h3v1h-3zM69 45h4v1h-4zM98 45h1v1h-1zM100 45h1v1h-1zM102 45h1v1h-1zM58 46h1v1h-1zM61 46h1v1h-1zM64 46h1v1h-1zM67 46h4v1h-4zM97 46h3v1h-3zM57 47h1v1h-1zM67 47h4v1h-4zM96 47h3v1h-3zM43 48h1v1h-1zM53 48h1v1h-1zM63 48h2v1h-2zM67 48h2v1h-2zM96 48h3v1h-3zM60 49h1v1h-1zM63 49h7v1h-7zM95 49h3v1h-3zM44 50h1v1h-1zM58 50h2v1h-2zM61 50h1v1h-1zM63 50h5v1h-5zM95 50h1v1h-1zM32 51h1v1h-1zM62 51h1v1h-1zM64 51h4v1h-4zM96 51h1v1h-1zM5 52h1v1h-1zM48 52h1v1h-1zM61 52h1v1h-1zM63 52h3v1h-3zM93 52h3v1h-3zM56 53h1v1h-1zM61 53h5v1h-5zM93 53h2v1h-2zM61 54h1v1h-1zM63 54h2v1h-2zM90 54h1v1h-1zM93 54h2v1h-2zM59 55h2v1h-2zM62 55h2v1h-2zM90 55h1v1h-1zM92 55h3v1h-3zM28 56h1v1h-1zM58 56h1v1h-1zM60 56h4v1h-4zM89 56h3v1h-3zM93 56h2v1h-2zM57 57h3v1h-3zM61 57h3v1h-3zM88 57h5v1h-5zM46 58h1v1h-1zM48 58h1v1h-1zM56 58h1v1h-1zM58 58h4v1h-4zM88 58h4v1h-4zM93 58h1v1h-1zM96 58h1v1h-1zM54 59h1v1h-1zM56 59h2v1h-2zM59 59h2v1h-2zM87 59h2v1h-2zM52 60h1v1h-1zM55 60h4v1h-4zM87 60h2v1h-2zM91 60h1v1h-1zM52 61h1v1h-1zM54 61h1v1h-1zM56 61h2v1h-2zM59 61h1v1h-1zM87 61h2v1h-2zM46 62h1v1h-1zM48 62h2v1h-2zM51 62h1v1h-1zM53 62h1v1h-1zM55 62h2v1h-2zM86 62h3v1h-3zM50 63h1v1h-1zM52 63h5v1h-5zM86 63h1v1h-1zM50 64h1v1h-1zM52 64h5v1h-5zM85 64h1v1h-1zM30 65h1v1h-1zM45 65h1v1h-1zM48 65h2v1h-2zM51 65h3v1h-3zM55 65h1v1h-1zM85 65h1v1h-1zM87 65h1v1h-1zM37 66h1v1h-1zM43 66h1v1h-1zM49 66h1v1h-1zM51 66h3v1h-3zM84 66h2v1h-2zM48 67h1v1h-1zM50 67h1v1h-1zM52 67h4v1h-4zM84 67h1v1h-1zM40 68h1v1h-1zM47 68h1v1h-1zM50 68h4v1h-4zM82 68h3v1h-3zM40 69h2v1h-2zM45 69h7v1h-7zM81 69h1v1h-1zM83 69h1v1h-1zM41 70h1v1h-1zM48 70h4v1h-4zM80 70h4v1h-4zM26 71h1v1h-1zM47 71h4v1h-4zM79 71h1v1h-1zM81 71h1v1h-1zM41 72h1v1h-1zM43 72h1v1h-1zM45 72h4v1h-4zM79 72h2v1h-2zM42 73h1v1h-1zM44 73h5v1h-5zM50 73h1v1h-1zM78 73h4v1h-4zM44 74h5v1h-5zM78 74h2v1h-2zM42 75h6v1h-6zM77 75h3v1h-3zM41 76h6v1h-6zM76 76h3v1h-3zM35 77h1v1h-1zM41 77h1v1h-1zM43 77h4v1h-4zM75 77h4v1h-4zM34 78h2v1h-2zM39 78h1v1h-1zM41 78h4v1h-4zM75 78h3v1h-3zM25 79h1v1h-1zM31 79h1v1h-1zM37 79h2v1h-2zM41 79h3v1h-3zM73 79h1v1h-1zM76 79h1v1h-1zM37 80h1v1h-1zM39 80h5v1h-5zM73 80h1v1h-1zM76 80h1v1h-1zM104 80h1v1h-1zM35 81h1v1h-1zM38 81h4v1h-4zM44 81h1v1h-1zM72 81h2v1h-2zM76 81h1v1h-1zM95 81h1v1h-1zM8 82h1v1h-1zM37 82h5v1h-5zM72 82h2v1h-2zM31 83h2v1h-2zM35 83h6v1h-6zM70 83h3v1h-3zM74 83h1v1h-1zM15 84h1v1h-1zM25 84h1v1h-1zM36 84h4v1h-4zM70 84h3v1h-3zM13 85h2v1h-2zM24 85h1v1h-1zM30 85h1v1h-1zM36 85h3v1h-3zM69 85h2v1h-2zM25 86h1v1h-1zM32 86h2v1h-2zM35 86h4v1h-4zM68 86h4v1h-4zM29 87h2v1h-2zM32 87h3v1h-3zM36 87h2v1h-2zM68 87h1v1h-1zM70 87h1v1h-1zM80 87h1v1h-1zM14 88h1v1h-1zM23 88h1v1h-1zM31 88h1v1h-1zM33 88h4v1h-4zM67 88h2v1h-2zM71 88h1v1h-1zM20 89h1v1h-1zM28 89h1v1h-1zM30 89h6v1h-6zM65 89h3v1h-3zM24 90h1v1h-1zM27 90h1v1h-1zM29 90h1v1h-1zM32 90h2v1h-2zM35 90h1v1h-1zM65 90h2v1h-2zM24 91h2v1h-2zM28 91h6v1h-6zM65 91h4v1h-4zM21 92h1v1h-1zM24 92h1v1h-1zM28 92h3v1h-3zM32 92h2v1h-2zM64 92h2v1h-2zM25 93h2v1h-2zM29 93h3v1h-3zM33 93h1v1h-1zM63 93h1v1h-1zM26 94h1v1h-1zM30 94h1v1h-1zM62 94h4v1h-4zM77 94h1v1h-1zM13 95h1v1h-1zM15 95h1v1h-1zM18 95h1v1h-1zM25 95h2v1h-2zM28 95h4v1h-4zM63 95h1v1h-1zM24 96h7v1h-7zM61 96h2v1h-2zM65 96h1v1h-1zM21 97h1v1h-1zM23 97h5v1h-5zM29 97h1v1h-1zM60 97h2v1h-2zM20 98h1v1h-1zM22 98h4v1h-4zM27 98h3v1h-3zM58 98h4v1h-4zM17 99h1v1h-1zM20 99h2v1h-2zM23 99h5v1h-5zM58 99h2v1h-2zM17 100h1v1h-1zM20 100h7v1h-7zM58 100h2v1h-2zM13 101h1v1h-1zM17 101h1v1h-1zM22 101h5v1h-5zM56 101h1v1h-1zM58 101h3v1h-3zM11 102h1v1h-1zM15 102h2v1h-2zM22 102h3v1h-3zM55 102h3v1h-3zM13 103h1v1h-1zM19 103h4v1h-4zM24 103h3v1h-3zM55 103h2v1h-2zM58 103h1v1h-1zM13 104h2v1h-2zM20 104h3v1h-3zM54 104h2v1h-2zM12 105h1v1h-1zM16 105h1v1h-1zM18 105h5v1h-5zM52 105h1v1h-1zM54 105h1v1h-1zM12 106h1v1h-1zM14 106h1v1h-1zM19 106h4v1h-4zM53 106h3v1h-3zM6 107h1v1h-1zM14 107h1v1h-1zM16 107h7v1h-7zM51 107h3v1h-3zM8 108h1v1h-1zM11 108h1v1h-1zM14 108h1v1h-1zM17 108h3v1h-3zM51 108h1v1h-1zM53 108h1v1h-1zM55 108h1v1h-1zM12 109h1v1h-1zM14 109h2v1h-2zM17 109h3v1h-3zM50 109h3v1h-3zM6 110h1v1h-1zM11 110h9v1h-9zM49 110h4v1h-4zM2 111h1v1h-1zM14 111h1v1h-1zM16 111h3v1h-3zM49 111h2v1h-2zM2 112h1v1h-1zM12 112h6v1h-6zM47 112h3v1h-3z"/>
<path fill="#30174e" d="M114 0h4v1h-4zM131 0h1v1h-1zM112 1h1v1h-1zM114 1h3v1h-3zM129 1h1v1h-1zM131 1h1v1h-1zM111 2h1v1h-1zM113 2h2v1h-2zM129 2h2v1h-2zM112 3h3v1h-3zM127 3h4v1h-4zM111 4h2v1h-2zM114 4h1v1h-1zM126 4h4v1h-4zM109 5h3v1h-3zM127 5h3v1h-3zM109 6h3v1h-3zM125 6h3v1h-3zM110 7h1v1h-1zM113 7h1v1h-1zM124 7h4v1h-4zM108 8h3v1h-3zM125 8h4v1h-4zM107 9h3v1h-3zM123 9h3v1h-3zM104 10h4v1h-4zM122 10h3v1h-3zM104 11h1v1h-1zM106 11h2v1h-2zM122 11h2v1h-2zM104 12h4v1h-4zM120 12h2v1h-2zM123 12h1v1h-1zM103 13h4v1h-4zM120 13h2v1h-2zM100 14h1v1h-1zM102 14h4v1h-4zM119 14h2v1h-2zM100 15h1v1h-1zM102 15h2v1h-2zM118 15h2v1h-2zM100 16h4v1h-4zM118 16h2v1h-2zM99 17h3v1h-3zM116 17h3v1h-3zM96 18h1v1h-1zM98 18h1v1h-1zM101 18h2v1h-2zM117 18h2v1h-2zM97 19h1v1h-1zM99 19h3v1h-3zM114 19h1v1h-1zM116 19h2v1h-2zM98 20h3v1h-3zM113 20h1v1h-1zM115 20h2v1h-2zM93 21h1v1h-1zM97 21h4v1h-4zM114 21h2v1h-2zM92 22h3v1h-3zM97 22h1v1h-1zM112 22h3v1h-3zM116 22h1v1h-1zM93 23h5v1h-5zM113 23h1v1h-1zM92 24h1v1h-1zM94 24h2v1h-2zM97 24h1v1h-1zM111 24h1v1h-1zM113 24h1v1h-1zM91 25h3v1h-3zM110 25h2v1h-2zM91 26h2v1h-2zM96 26h1v1h-1zM110 26h2v1h-2zM91 27h1v1h-1zM109 27h2v1h-2zM89 28h3v1h-3zM108 28h3v1h-3zM90 29h1v1h-1zM108 29h2v1h-2zM86 30h2v1h-2zM90 30h1v1h-1zM107 30h3v1h-3zM86 31h2v1h-2zM89 31h1v1h-1zM107 31h1v1h-1zM82 32h1v1h-1zM84 32h3v1h-3zM88 32h2v1h-2zM105 32h3v1h-3zM82 33h2v1h-2zM86 33h2v1h-2zM89 33h1v1h-1zM104 33h2v1h-2zM82 34h2v1h-2zM85 34h1v1h-1zM88 34h1v1h-1zM102 34h4v1h-4zM107 34h1v1h-1zM81 35h2v1h-2zM102 35h3v1h-3zM80 36h2v1h-2zM100 36h1v1h-1zM102 36h2v1h-2zM77 37h1v1h-1zM80 37h1v1h-1zM101 37h2v1h-2zM78 38h3v1h-3zM100 38h2v1h-2zM103 38h1v1h-1zM78 39h3v1h-3zM99 39h1v1h-1zM101 39h1v1h-1zM76 40h3v1h-3zM99 40h3v1h-3zM76 41h2v1h-2zM98 41h2v1h-2zM75 42h3v1h-3zM97 42h3v1h-3zM74 43h2v1h-2zM96 43h1v1h-1zM98 43h1v1h-1zM73 44h3v1h-3zM95 44h3v1h-3zM73 45h2v1h-2zM96 45h2v1h-2zM71 46h3v1h-3zM95 46h2v1h-2zM71 47h2v1h-2zM95 47h1v1h-1zM69 48h3v1h-3zM95 48h1v1h-1zM70 49h2v1h-2zM94 49h1v1h-1zM68 50h3v1h-3zM94 50h1v1h-1zM68 51h3v1h-3zM92 51h3v1h-3zM66 52h2v1h-2zM92 52h1v1h-1zM66 53h2v1h-2zM89 53h4v1h-4zM65 54h2v1h-2zM89 54h1v1h-1zM91 54h2v1h-2zM64 55h2v1h-2zM88 55h2v1h-2zM91 55h1v1h-1zM64 56h2v1h-2zM88 56h1v1h-1zM64 57h1v1h-1zM87 57h1v1h-1zM62 58h3v1h-3zM87 58h1v1h-1zM61 59h2v1h-2zM59 60h4v1h-4zM86 60h1v1h-1zM58 61h1v1h-1zM60 61h2v1h-2zM86 61h1v1h-1zM57 62h3v1h-3zM84 62h2v1h-2zM57 63h3v1h-3zM84 63h2v1h-2zM57 64h2v1h-2zM84 64h1v1h-1zM54 65h1v1h-1zM56 65h2v1h-2zM83 65h2v1h-2zM54 66h3v1h-3zM83 66h1v1h-1zM81 67h3v1h-3zM81 68h1v1h-1zM52 69h3v1h-3zM80 69h1v1h-1zM82 69h1v1h-1zM52 70h2v1h-2zM51 71h3v1h-3zM78 71h1v1h-1zM80 71h1v1h-1zM49 72h3v1h-3zM77 72h2v1h-2zM49 73h1v1h-1zM77 73h1v1h-1zM49 74h2v1h-2zM77 74h1v1h-1zM48 75h1v1h-1zM50 75h1v1h-1zM75 75h2v1h-2zM47 76h2v1h-2zM75 76h1v1h-1zM47 77h1v1h-1zM74 77h1v1h-1zM45 78h1v1h-1zM47 78h1v1h-1zM73 78h2v1h-2zM44 79h4v1h-4zM74 79h1v1h-1zM44 80h1v1h-1zM71 80h2v1h-2zM42 81h2v1h-2zM71 81h1v1h-1zM42 82h3v1h-3zM70 82h2v1h-2zM41 83h4v1h-4zM69 83h1v1h-1zM40 84h2v1h-2zM68 84h2v1h-2zM39 85h3v1h-3zM68 85h1v1h-1zM39 86h1v1h-1zM67 86h1v1h-1zM38 87h2v1h-2zM66 87h2v1h-2zM37 88h3v1h-3zM65 88h2v1h-2zM36 89h3v1h-3zM64 89h1v1h-1zM34 90h1v1h-1zM36 90h3v1h-3zM64 90h1v1h-1zM34 91h3v1h-3zM63 91h2v1h-2zM34 92h1v1h-1zM62 92h2v1h-2zM34 93h1v1h-1zM61 93h2v1h-2zM31 94h5v1h-5zM61 94h1v1h-1zM32 95h2v1h-2zM59 95h1v1h-1zM61 95h1v1h-1zM31 96h1v1h-1zM59 96h2v1h-2zM28 97h1v1h-1zM30 97h2v1h-2zM58 97h2v1h-2zM30 98h1v1h-1zM57 98h1v1h-1zM28 99h2v1h-2zM56 99h2v1h-2zM27 100h2v1h-2zM56 100h2v1h-2zM27 101h1v1h-1zM55 101h1v1h-1zM57 101h1v1h-1zM25 102h3v1h-3zM54 103h1v1h-1zM23 104h3v1h-3zM52 104h2v1h-2zM23 105h3v1h-3zM53 105h1v1h-1zM23 106h1v1h-1zM51 106h2v1h-2zM23 107h1v1h-1zM50 107h1v1h-1zM20 108h4v1h-4zM49 108h2v1h-2zM20 109h2v1h-2zM48 109h2v1h-2zM20 110h1v1h-1zM48 110h1v1h-1zM19 111h2v1h-2zM47 111h2v1h-2zM18 112h1v1h-1zM46 112h1v1h-1z"/>
<path fill="#311b56" d="M118 0h4v1h-4zM128 0h2v1h-2zM117 1h1v1h-1zM127 1h2v1h-2zM130 1h1v1h-1zM115 2h3v1h-3zM127 2h2v1h-2zM115 3h2v1h-2zM118 3h1v1h-1zM124 3h1v1h-1zM126 3h1v1h-1zM113 4h1v1h-1zM125 4h1v1h-1zM112 5h3v1h-3zM122 5h1v1h-1zM124 5h3v1h-3zM112 6h3v1h-3zM116 6h1v1h-1zM123 6h1v1h-1zM111 7h2v1h-2zM115 7h1v1h-1zM123 7h1v1h-1zM111 8h1v1h-1zM113 8h1v1h-1zM115 8h1v1h-1zM122 8h2v1h-2zM110 9h3v1h-3zM114 9h1v1h-1zM120 9h3v1h-3zM108 10h3v1h-3zM119 10h3v1h-3zM108 11h2v1h-2zM111 11h1v1h-1zM113 11h1v1h-1zM118 11h1v1h-1zM120 11h2v1h-2zM108 12h2v1h-2zM114 12h1v1h-1zM119 12h1v1h-1zM107 13h3v1h-3zM117 13h1v1h-1zM119 13h1v1h-1zM106 14h2v1h-2zM109 14h1v1h-1zM115 14h4v1h-4zM104 15h4v1h-4zM115 15h3v1h-3zM104 16h4v1h-4zM116 16h2v1h-2zM102 17h4v1h-4zM114 17h2v1h-2zM103 18h2v1h-2zM108 18h1v1h-1zM113 18h1v1h-1zM115 18h2v1h-2zM102 19h3v1h-3zM111 19h1v1h-1zM113 19h1v1h-1zM115 19h1v1h-1zM101 20h3v1h-3zM114 20h1v1h-1zM101 21h3v1h-3zM112 21h2v1h-2zM98 22h4v1h-4zM103 22h1v1h-1zM111 22h1v1h-1zM98 23h3v1h-3zM109 23h4v1h-4zM93 24h1v1h-1zM96 24h1v1h-1zM98 24h4v1h-4zM109 24h2v1h-2zM112 24h1v1h-1zM94 25h5v1h-5zM107 25h1v1h-1zM109 25h1v1h-1zM93 26h1v1h-1zM95 26h1v1h-1zM97 26h1v1h-1zM100 26h1v1h-1zM108 26h2v1h-2zM94 27h5v1h-5zM105 27h4v1h-4zM94 28h5v1h-5zM106 28h2v1h-2zM91 29h1v1h-1zM95 29h2v1h-2zM103 29h1v1h-1zM105 29h3v1h-3zM91 30h1v1h-1zM95 30h1v1h-1zM104 30h3v1h-3zM90 31h1v1h-1zM98 31h1v1h-1zM102 31h5v1h-5zM90 32h1v1h-1zM102 32h3v1h-3zM84 33h2v1h-2zM88 33h1v1h-1zM90 33h1v1h-1zM102 33h1v1h-1zM84 34h1v1h-1zM86 34h2v1h-2zM89 34h2v1h-2zM83 35h7v1h-7zM99 35h3v1h-3zM82 36h2v1h-2zM86 36h1v1h-1zM99 36h1v1h-1zM101 36h1v1h-1zM81 37h2v1h-2zM89 37h1v1h-1zM99 37h2v1h-2zM81 38h1v1h-1zM97 38h3v1h-3zM98 39h1v1h-1zM100 39h1v1h-1zM80 40h1v1h-1zM97 40h2v1h-2zM78 41h1v1h-1zM96 41h2v1h-2zM78 42h1v1h-1zM95 42h2v1h-2zM76 43h2v1h-2zM95 43h1v1h-1zM76 44h1v1h-1zM75 45h1v1h-1zM95 45h1v1h-1zM74 46h1v1h-1zM94 46h1v1h-1zM73 47h3v1h-3zM94 47h1v1h-1zM72 48h2v1h-2zM94 48h1v1h-1zM93 49h1v1h-1zM71 50h1v1h-1zM92 50h2v1h-2zM89 51h3v1h-3zM68 52h2v1h-2zM89 52h3v1h-3zM69 53h1v1h-1zM88 53h1v1h-1zM67 54h3v1h-3zM88 54h1v1h-1zM66 55h2v1h-2zM87 55h1v1h-1zM66 56h2v1h-2zM87 56h1v1h-1zM65 57h1v1h-1zM86 57h1v1h-1zM63 59h1v1h-1zM85 59h2v1h-2zM63 60h2v1h-2zM85 60h1v1h-1zM62 61h1v1h-1zM85 61h1v1h-1zM60 62h2v1h-2zM60 63h1v1h-1zM59 64h2v1h-2zM58 65h2v1h-2zM82 65h1v1h-1zM57 66h3v1h-3zM81 66h2v1h-2zM56 67h2v1h-2zM80 67h1v1h-1zM54 68h3v1h-3zM80 68h1v1h-1zM55 69h2v1h-2zM79 69h1v1h-1zM54 70h2v1h-2zM78 70h2v1h-2zM54 71h1v1h-1zM52 72h2v1h-2zM51 73h2v1h-2zM76 73h1v1h-1zM51 74h2v1h-2zM76 74h1v1h-1zM49 75h1v1h-1zM51 75h1v1h-1zM74 75h1v1h-1zM49 76h1v1h-1zM73 76h2v1h-2zM48 77h2v1h-2zM73 77h1v1h-1zM46 78h1v1h-1zM48 78h1v1h-1zM72 78h1v1h-1zM71 79h2v1h-2zM45 80h2v1h-2zM45 81h2v1h-2zM70 81h1v1h-1zM45 82h1v1h-1zM69 82h1v1h-1zM68 83h1v1h-1zM42 84h2v1h-2zM67 84h1v1h-1zM42 85h1v1h-1zM67 85h1v1h-1zM40 86h3v1h-3zM66 86h1v1h-1zM40 87h2v1h-2zM65 87h1v1h-1zM40 88h1v1h-1zM64 88h1v1h-1zM39 89h1v1h-1zM63 89h1v1h-1zM39 90h1v1h-1zM63 90h1v1h-1zM37 91h2v1h-2zM61 91h2v1h-2zM35 92h2v1h-2zM60 92h2v1h-2zM35 93h1v1h-1zM37 93h1v1h-1zM60 93h1v1h-1zM36 94h1v1h-1zM59 94h2v1h-2zM34 95h2v1h-2zM58 95h1v1h-1zM60 95h1v1h-1zM32 96h3v1h-3zM58 96h1v1h-1zM32 97h2v1h-2zM57 97h1v1h-1zM31 98h2v1h-2zM30 99h2v1h-2zM29 100h2v1h-2zM54 100h2v1h-2zM28 101h3v1h-3zM53 101h2v1h-2zM28 102h2v1h-2zM53 102h2v1h-2zM27 103h2v1h-2zM52 103h2v1h-2zM26 104h2v1h-2zM26 105h1v1h-1zM50 105h2v1h-2zM24 106h3v1h-3zM49 106h2v1h-2zM24 107h2v1h-2zM49 107h1v1h-1zM24 108h1v1h-1zM48 108h1v1h-1zM22 109h2v1h-2zM47 109h1v1h-1zM21 110h2v1h-2zM46 110h2v1h-2zM21 111h1v1h-1zM45 111h2v1h-2zM19 112h3v1h-3zM45 112h1v1h-1z"/>
<path fill="#331e5d" d="M122 0h1v1h-1zM124 0h4v1h-4zM118 1h3v1h-3zM122 1h2v1h-2zM125 1h2v1h-2zM118 2h9v1h-9zM117 3h1v1h-1zM119 3h5v1h-5zM125 3h1v1h-1zM115 4h5v1h-5zM122 4h3v1h-3zM115 5h7v1h-7zM123 5h1v1h-1zM115 6h1v1h-1zM117 6h6v1h-6zM124 6h1v1h-1zM114 7h1v1h-1zM117 7h6v1h-6zM112 8h1v1h-1zM114 8h1v1h-1zM117 8h5v1h-5zM113 9h1v1h-1zM115 9h2v1h-2zM119 9h1v1h-1zM111 10h4v1h-4zM116 10h3v1h-3zM110 11h1v1h-1zM112 11h1v1h-1zM114 11h1v1h-1zM116 11h2v1h-2zM119 11h1v1h-1zM110 12h2v1h-2zM113 12h1v1h-1zM115 12h4v1h-4zM110 13h3v1h-3zM114 13h3v1h-3zM118 13h1v1h-1zM108 14h1v1h-1zM110 14h2v1h-2zM113 14h2v1h-2zM108 15h4v1h-4zM113 15h2v1h-2zM108 16h8v1h-8zM106 17h3v1h-3zM111 17h1v1h-1zM113 17h1v1h-1zM105 18h3v1h-3zM109 18h1v1h-1zM111 18h2v1h-2zM114 18h1v1h-1zM105 19h5v1h-5zM112 19h1v1h-1zM104 20h4v1h-4zM109 20h4v1h-4zM104 21h8v1h-8zM102 22h1v1h-1zM104 22h7v1h-7zM101 23h8v1h-8zM102 24h3v1h-3zM107 24h2v1h-2zM99 25h8v1h-8zM108 25h1v1h-1zM94 26h1v1h-1zM98 26h2v1h-2zM101 26h7v1h-7zM92 27h2v1h-2zM99 27h2v1h-2zM102 27h1v1h-1zM104 27h1v1h-1zM92 28h2v1h-2zM99 28h7v1h-7zM92 29h3v1h-3zM97 29h6v1h-6zM104 29h1v1h-1zM96 30h3v1h-3zM100 30h4v1h-4zM91 31h1v1h-1zM95 31h3v1h-3zM99 31h3v1h-3zM91 32h1v1h-1zM95 32h1v1h-1zM97 32h1v1h-1zM99 32h3v1h-3zM96 33h6v1h-6zM103 33h1v1h-1zM91 34h1v1h-1zM98 34h4v1h-4zM90 35h1v1h-1zM97 35h2v1h-2zM84 36h2v1h-2zM87 36h4v1h-4zM96 36h1v1h-1zM98 36h1v1h-1zM83 37h2v1h-2zM86 37h3v1h-3zM96 37h3v1h-3zM83 38h1v1h-1zM87 38h3v1h-3zM96 38h1v1h-1zM81 39h2v1h-2zM88 39h1v1h-1zM96 39h2v1h-2zM79 40h1v1h-1zM81 40h1v1h-1zM87 40h2v1h-2zM95 40h2v1h-2zM79 41h2v1h-2zM95 41h1v1h-1zM79 42h1v1h-1zM88 42h2v1h-2zM78 43h1v1h-1zM77 44h2v1h-2zM94 44h1v1h-1zM76 45h2v1h-2zM94 45h1v1h-1zM75 46h2v1h-2zM88 47h1v1h-1zM93 47h1v1h-1zM93 48h1v1h-1zM72 49h2v1h-2zM88 49h5v1h-5zM72 50h2v1h-2zM89 50h3v1h-3zM71 51h1v1h-1zM88 51h1v1h-1zM70 52h1v1h-1zM88 52h1v1h-1zM68 53h1v1h-1zM87 54h1v1h-1zM68 55h1v1h-1zM68 56h1v1h-1zM66 57h2v1h-2zM65 58h1v1h-1zM86 58h1v1h-1zM64 59h2v1h-2zM65 60h1v1h-1zM63 61h2v1h-2zM62 62h1v1h-1zM83 62h1v1h-1zM61 63h2v1h-2zM82 63h2v1h-2zM83 64h1v1h-1zM60 65h1v1h-1zM81 65h1v1h-1zM80 66h1v1h-1zM58 67h1v1h-1zM57 68h2v1h-2zM57 69h1v1h-1zM78 69h1v1h-1zM56 70h1v1h-1zM77 70h1v1h-1zM55 71h1v1h-1zM77 71h1v1h-1zM54 72h1v1h-1zM76 72h1v1h-1zM53 73h2v1h-2zM53 74h1v1h-1zM74 74h2v1h-2zM50 76h3v1h-3zM50 77h1v1h-1zM72 77h1v1h-1zM49 78h2v1h-2zM48 79h2v1h-2zM70 79h1v1h-1zM47 80h1v1h-1zM70 80h1v1h-1zM47 81h1v1h-1zM69 81h1v1h-1zM46 82h1v1h-1zM68 82h1v1h-1zM45 83h1v1h-1zM67 83h1v1h-1zM44 84h2v1h-2zM66 84h1v1h-1zM43 85h2v1h-2zM65 85h2v1h-2zM65 86h1v1h-1zM42 87h1v1h-1zM64 87h1v1h-1zM41 88h1v1h-1zM63 88h1v1h-1zM40 89h1v1h-1zM40 90h1v1h-1zM62 90h1v1h-1zM39 91h1v1h-1zM37 92h2v1h-2zM36 93h1v1h-1zM58 94h1v1h-1zM35 96h1v1h-1zM57 96h1v1h-1zM34 97h1v1h-1zM33 98h1v1h-1zM55 98h2v1h-2zM32 99h2v1h-2zM54 99h2v1h-2zM31 100h1v1h-1zM30 102h1v1h-1zM52 102h1v1h-1zM51 103h1v1h-1zM28 104h1v1h-1zM51 104h1v1h-1zM27 105h1v1h-1zM27 106h1v1h-1zM25 108h1v1h-1zM47 108h1v1h-1zM24 109h1v1h-1zM46 109h1v1h-1zM23 110h1v1h-1zM22 111h1v1h-1zM44 112h1v1h-1z"/>
<path fill="#352165" d="M123 0h1v1h-1zM121 1h1v1h-1zM124 1h1v1h-1zM120 4h2v1h-2zM116 7h1v1h-1zM116 8h1v1h-1zM117 9h2v1h-2zM115 10h1v1h-1zM115 11h1v1h-1zM112 12h1v1h-1zM113 13h1v1h-1zM112 14h1v1h-1zM112 15h1v1h-1zM109 17h2v1h-2zM112 17h1v1h-1zM110 18h1v1h-1zM110 19h1v1h-1zM108 20h1v1h-1zM105 24h2v1h-2zM101 27h1v1h-1zM103 27h1v1h-1zM92 30h3v1h-3zM99 30h1v1h-1zM92 31h3v1h-3zM92 32h2v1h-2zM96 32h1v1h-1zM98 32h1v1h-1zM91 33h1v1h-1zM95 33h1v1h-1zM94 34h4v1h-4zM91 35h1v1h-1zM95 35h2v1h-2zM91 36h1v1h-1zM95 36h1v1h-1zM97 36h1v1h-1zM90 37h1v1h-1zM82 38h1v1h-1zM84 38h3v1h-3zM90 38h1v1h-1zM95 38h1v1h-1zM83 39h1v1h-1zM85 39h3v1h-3zM89 39h2v1h-2zM95 39h1v1h-1zM82 40h2v1h-2zM89 40h1v1h-1zM81 41h1v1h-1zM87 41h3v1h-3zM80 42h2v1h-2zM87 42h1v1h-1zM90 42h1v1h-1zM79 43h1v1h-1zM88 43h2v1h-2zM79 44h1v1h-1zM88 44h1v1h-1zM90 44h1v1h-1zM89 45h2v1h-2zM77 46h1v1h-1zM89 46h2v1h-2zM93 46h1v1h-1zM76 47h1v1h-1zM89 47h1v1h-1zM92 47h1v1h-1zM74 48h3v1h-3zM88 48h5v1h-5zM74 49h1v1h-1zM87 49h1v1h-1zM74 50h2v1h-2zM88 50h1v1h-1zM72 51h2v1h-2zM87 51h1v1h-1zM71 52h2v1h-2zM87 52h1v1h-1zM70 53h2v1h-2zM87 53h1v1h-1zM70 54h1v1h-1zM69 55h1v1h-1zM86 55h1v1h-1zM69 56h1v1h-1zM86 56h1v1h-1zM66 58h2v1h-2zM85 58h1v1h-1zM66 59h1v1h-1zM84 60h1v1h-1zM83 61h2v1h-2zM63 62h2v1h-2zM63 63h1v1h-1zM61 64h2v1h-2zM81 64h2v1h-2zM61 65h1v1h-1zM80 65h1v1h-1zM60 66h2v1h-2zM59 67h2v1h-2zM79 67h1v1h-1zM59 68h1v1h-1zM78 68h2v1h-2zM58 69h1v1h-1zM77 69h1v1h-1zM57 70h1v1h-1zM56 71h1v1h-1zM76 71h1v1h-1zM55 72h1v1h-1zM75 72h1v1h-1zM55 73h1v1h-1zM74 73h2v1h-2zM54 74h1v1h-1zM73 74h1v1h-1zM52 75h2v1h-2zM72 75h2v1h-2zM53 76h1v1h-1zM72 76h1v1h-1zM51 77h2v1h-2zM70 77h2v1h-2zM70 78h2v1h-2zM50 79h1v1h-1zM69 79h1v1h-1zM48 80h1v1h-1zM69 80h1v1h-1zM48 81h1v1h-1zM68 81h1v1h-1zM47 82h1v1h-1zM66 82h2v1h-2zM46 83h1v1h-1zM66 83h1v1h-1zM46 84h1v1h-1zM45 85h1v1h-1zM43 86h2v1h-2zM64 86h1v1h-1zM43 87h1v1h-1zM62 87h2v1h-2zM42 88h1v1h-1zM62 88h1v1h-1zM41 89h1v1h-1zM62 89h1v1h-1zM41 90h1v1h-1zM61 90h1v1h-1zM40 91h1v1h-1zM60 91h1v1h-1zM59 92h1v1h-1zM38 93h1v1h-1zM59 93h1v1h-1zM37 94h1v1h-1zM36 95h1v1h-1zM57 95h1v1h-1zM36 96h1v1h-1zM56 96h1v1h-1zM35 97h1v1h-1zM55 97h2v1h-2zM34 98h2v1h-2zM34 99h1v1h-1zM32 100h2v1h-2zM52 100h2v1h-2zM31 101h2v1h-2zM52 101h1v1h-1zM31 102h1v1h-1zM29 103h2v1h-2zM29 104h2v1h-2zM50 104h1v1h-1zM28 105h2v1h-2zM49 105h1v1h-1zM26 107h2v1h-2zM47 107h2v1h-2zM26 108h1v1h-1zM46 108h1v1h-1zM25 109h1v1h-1zM24 110h2v1h-2zM45 110h1v1h-1zM23 111h1v1h-1zM25 111h1v1h-1zM22 112h2v1h-2zM43 112h1v1h-1z"/>
<path fill="#36246c" d="M94 32h1v1h-1zM92 33h3v1h-3zM92 34h2v1h-2zM94 35h1v1h-1zM94 36h1v1h-1zM85 37h1v1h-1zM91 37h1v1h-1zM95 37h1v1h-1zM91 38h1v1h-1zM94 38h1v1h-1zM84 39h1v1h-1zM91 39h1v1h-1zM94 39h1v1h-1zM84 40h3v1h-3zM90 40h1v1h-1zM94 40h1v1h-1zM82 41h2v1h-2zM86 41h1v1h-1zM90 41h1v1h-1zM94 41h1v1h-1zM83 42h1v1h-1zM86 42h1v1h-1zM94 42h1v1h-1zM80 43h2v1h-2zM87 43h1v1h-1zM90 43h1v1h-1zM93 43h2v1h-2zM87 44h1v1h-1zM89 44h1v1h-1zM91 44h1v1h-1zM93 44h1v1h-1zM78 45h2v1h-2zM87 45h2v1h-2zM91 45h3v1h-3zM78 46h1v1h-1zM87 46h2v1h-2zM91 46h2v1h-2zM90 47h2v1h-2zM77 48h1v1h-1zM87 48h1v1h-1zM75 49h1v1h-1zM87 50h1v1h-1zM73 52h1v1h-1zM72 53h1v1h-1zM71 54h1v1h-1zM86 54h1v1h-1zM70 55h1v1h-1zM70 56h1v1h-1zM68 57h1v1h-1zM85 57h1v1h-1zM68 58h1v1h-1zM67 59h1v1h-1zM84 59h1v1h-1zM66 60h1v1h-1zM83 60h1v1h-1zM65 61h2v1h-2zM65 62h1v1h-1zM82 62h1v1h-1zM64 63h1v1h-1zM81 63h1v1h-1zM63 64h1v1h-1zM80 64h1v1h-1zM62 65h1v1h-1zM62 66h1v1h-1zM79 66h1v1h-1zM61 67h1v1h-1zM77 67h2v1h-2zM60 68h1v1h-1zM59 69h1v1h-1zM76 69h1v1h-1zM58 70h1v1h-1zM76 70h1v1h-1zM57 71h1v1h-1zM57 72h1v1h-1zM74 72h1v1h-1zM56 73h1v1h-1zM73 73h1v1h-1zM55 74h1v1h-1zM54 75h1v1h-1zM54 76h1v1h-1zM69 77h1v1h-1zM51 78h1v1h-1zM69 78h1v1h-1zM49 80h1v1h-1zM48 82h1v1h-1zM47 83h1v1h-1zM65 83h1v1h-1zM64 84h2v1h-2zM46 85h1v1h-1zM64 85h1v1h-1zM45 86h1v1h-1zM63 86h1v1h-1zM44 87h2v1h-2zM43 88h2v1h-2zM61 88h1v1h-1zM42 89h1v1h-1zM61 89h1v1h-1zM60 90h1v1h-1zM41 91h1v1h-1zM59 91h1v1h-1zM39 92h3v1h-3zM39 93h2v1h-2zM57 93h2v1h-2zM38 94h1v1h-1zM57 94h1v1h-1zM37 95h1v1h-1zM56 95h1v1h-1zM55 96h1v1h-1zM36 97h1v1h-1zM54 97h1v1h-1zM54 98h1v1h-1zM35 99h1v1h-1zM53 99h1v1h-1zM33 101h1v1h-1zM32 102h1v1h-1zM51 102h1v1h-1zM31 103h1v1h-1zM50 103h1v1h-1zM49 104h1v1h-1zM48 105h1v1h-1zM28 106h2v1h-2zM47 106h2v1h-2zM28 107h1v1h-1zM27 108h1v1h-1zM26 109h2v1h-2zM45 109h1v1h-1zM26 110h1v1h-1zM43 111h2v1h-2zM24 112h1v1h-1z"/>
<path fill="#382773" d="M92 35h2v1h-2zM92 36h2v1h-2zM92 37h1v1h-1zM94 37h1v1h-1zM92 38h1v1h-1zM92 39h1v1h-1zM91 40h1v1h-1zM93 40h1v1h-1zM84 41h2v1h-2zM91 41h1v1h-1zM93 41h1v1h-1zM82 42h1v1h-1zM85 42h1v1h-1zM91 42h2v1h-2zM82 43h1v1h-1zM85 43h2v1h-2zM91 43h2v1h-2zM80 44h1v1h-1zM86 44h1v1h-1zM92 44h1v1h-1zM80 45h2v1h-2zM86 45h1v1h-1zM79 46h1v1h-1zM77 47h2v1h-2zM87 47h1v1h-1zM76 49h2v1h-2zM76 50h1v1h-1zM74 51h1v1h-1zM86 51h1v1h-1zM74 52h1v1h-1zM86 52h1v1h-1zM73 53h2v1h-2zM86 53h1v1h-1zM72 54h2v1h-2zM85 55h1v1h-1zM85 56h1v1h-1zM69 57h2v1h-2zM84 57h1v1h-1zM69 58h1v1h-1zM84 58h1v1h-1zM68 59h1v1h-1zM67 60h1v1h-1zM67 61h1v1h-1zM82 61h1v1h-1zM66 62h1v1h-1zM64 64h1v1h-1zM79 65h1v1h-1zM63 66h1v1h-1zM77 66h1v1h-1zM76 67h1v1h-1zM75 68h3v1h-3zM60 69h2v1h-2zM59 70h1v1h-1zM75 70h1v1h-1zM58 71h1v1h-1zM74 71h2v1h-2zM56 72h1v1h-1zM73 72h1v1h-1zM57 73h2v1h-2zM56 74h1v1h-1zM72 74h1v1h-1zM55 75h1v1h-1zM71 75h1v1h-1zM55 76h1v1h-1zM70 76h2v1h-2zM53 77h2v1h-2zM52 78h2v1h-2zM51 79h2v1h-2zM68 79h1v1h-1zM50 80h2v1h-2zM68 80h1v1h-1zM49 81h3v1h-3zM67 81h1v1h-1zM49 82h1v1h-1zM51 82h1v1h-1zM48 83h1v1h-1zM47 84h2v1h-2zM63 85h1v1h-1zM46 86h2v1h-2zM62 86h1v1h-1zM60 88h1v1h-1zM43 89h2v1h-2zM60 89h1v1h-1zM42 90h1v1h-1zM59 90h1v1h-1zM43 91h1v1h-1zM57 92h2v1h-2zM40 94h1v1h-1zM56 94h1v1h-1zM38 95h1v1h-1zM37 96h1v1h-1zM37 97h1v1h-1zM36 98h1v1h-1zM53 98h1v1h-1zM34 100h2v1h-2zM51 100h1v1h-1zM51 101h1v1h-1zM50 102h1v1h-1zM32 103h1v1h-1zM49 103h1v1h-1zM31 104h2v1h-2zM48 104h1v1h-1zM30 105h1v1h-1zM30 106h1v1h-1zM46 106h1v1h-1zM46 107h1v1h-1zM44 109h1v1h-1zM27 110h2v1h-2zM44 110h1v1h-1zM24 111h1v1h-1zM41 112h2v1h-2z"/>
<path fill="#392a7a" d="M93 37h1v1h-1zM93 38h1v1h-1zM93 39h1v1h-1zM92 40h1v1h-1zM92 41h1v1h-1zM84 42h1v1h-1zM93 42h1v1h-1zM83 43h2v1h-2zM81 44h2v1h-2zM84 45h2v1h-2zM80 46h1v1h-1zM86 46h1v1h-1zM80 47h1v1h-1zM86 47h1v1h-1zM78 48h2v1h-2zM86 48h1v1h-1zM78 49h1v1h-1zM86 49h1v1h-1zM77 50h1v1h-1zM86 50h1v1h-1zM75 51h3v1h-3zM75 52h1v1h-1zM75 53h1v1h-1zM85 54h1v1h-1zM71 55h3v1h-3zM71 56h2v1h-2zM84 56h1v1h-1zM71 57h1v1h-1zM70 58h1v1h-1zM83 58h1v1h-1zM69 59h1v1h-1zM82 59h2v1h-2zM68 60h2v1h-2zM82 60h1v1h-1zM80 62h2v1h-2zM65 63h1v1h-1zM80 63h1v1h-1zM79 64h1v1h-1zM63 65h3v1h-3zM78 66h1v1h-1zM62 67h2v1h-2zM61 68h2v1h-2zM74 69h1v1h-1zM74 70h1v1h-1zM59 71h1v1h-1zM58 72h2v1h-2zM57 74h1v1h-1zM71 74h1v1h-1zM70 75h1v1h-1zM54 78h1v1h-1zM68 78h1v1h-1zM67 80h1v1h-1zM66 81h1v1h-1zM50 82h1v1h-1zM65 82h1v1h-1zM49 83h2v1h-2zM47 85h2v1h-2zM62 85h1v1h-1zM46 87h1v1h-1zM61 87h1v1h-1zM45 88h1v1h-1zM43 90h2v1h-2zM42 91h1v1h-1zM58 91h1v1h-1zM42 92h1v1h-1zM41 93h1v1h-1zM56 93h1v1h-1zM39 94h1v1h-1zM39 95h1v1h-1zM55 95h1v1h-1zM38 96h2v1h-2zM54 96h1v1h-1zM38 97h1v1h-1zM53 97h1v1h-1zM37 98h1v1h-1zM52 98h1v1h-1zM36 99h2v1h-2zM51 99h2v1h-2zM36 100h1v1h-1zM34 101h1v1h-1zM50 101h1v1h-1zM33 102h2v1h-2zM49 102h1v1h-1zM33 103h2v1h-2zM48 103h1v1h-1zM47 104h1v1h-1zM31 105h1v1h-1zM47 105h1v1h-1zM31 106h1v1h-1zM29 107h3v1h-3zM45 107h1v1h-1zM28 108h2v1h-2zM44 108h2v1h-2zM28 109h1v1h-1zM43 109h1v1h-1zM43 110h1v1h-1zM26 111h2v1h-2zM42 111h1v1h-1zM25 112h2v1h-2z"/>
<path fill="#3b2d81" d="M83 44h3v1h-3zM82 45h2v1h-2zM79 47h1v1h-1zM81 47h1v1h-1zM79 49h1v1h-1zM78 50h1v1h-1zM85 50h1v1h-1zM85 51h1v1h-1zM76 52h2v1h-2zM85 52h1v1h-1zM85 53h1v1h-1zM74 54h2v1h-2zM84 54h1v1h-1zM74 55h1v1h-1zM84 55h1v1h-1zM73 56h1v1h-1zM72 57h1v1h-1zM71 58h2v1h-2zM70 59h1v1h-1zM72 59h1v1h-1zM70 60h1v1h-1zM68 61h1v1h-1zM81 61h1v1h-1zM67 62h2v1h-2zM66 63h1v1h-1zM65 64h3v1h-3zM78 64h1v1h-1zM77 65h2v1h-2zM64 66h2v1h-2zM76 66h1v1h-1zM64 67h1v1h-1zM63 68h1v1h-1zM62 69h1v1h-1zM75 69h1v1h-1zM60 70h1v1h-1zM60 71h1v1h-1zM72 71h2v1h-2zM72 72h1v1h-1zM71 73h2v1h-2zM58 74h1v1h-1zM70 74h1v1h-1zM56 75h3v1h-3zM69 75h1v1h-1zM57 76h1v1h-1zM69 76h1v1h-1zM56 77h1v1h-1zM68 77h1v1h-1zM53 79h1v1h-1zM67 79h1v1h-1zM52 80h1v1h-1zM54 80h1v1h-1zM66 80h1v1h-1zM52 81h1v1h-1zM64 82h1v1h-1zM64 83h1v1h-1zM49 84h1v1h-1zM63 84h1v1h-1zM49 85h1v1h-1zM48 86h1v1h-1zM61 86h1v1h-1zM47 87h1v1h-1zM60 87h1v1h-1zM59 88h1v1h-1zM45 89h1v1h-1zM59 89h1v1h-1zM45 90h1v1h-1zM58 90h1v1h-1zM44 91h1v1h-1zM56 91h2v1h-2zM44 92h1v1h-1zM42 93h1v1h-1zM42 94h1v1h-1zM55 94h1v1h-1zM40 95h1v1h-1zM53 95h2v1h-2zM40 96h1v1h-1zM53 96h1v1h-1zM39 97h1v1h-1zM52 97h1v1h-1zM38 98h2v1h-2zM50 100h1v1h-1zM35 101h1v1h-1zM33 104h1v1h-1zM33 105h1v1h-1zM46 105h1v1h-1zM32 106h1v1h-1zM45 106h1v1h-1zM44 107h1v1h-1zM30 108h1v1h-1zM29 109h1v1h-1zM42 110h1v1h-1zM41 111h1v1h-1zM27 112h1v1h-1zM40 112h1v1h-1z"/>
<path fill="#3c3188" d="M81 46h2v1h-2zM84 46h2v1h-2zM82 47h2v1h-2zM85 47h1v1h-1zM80 48h1v1h-1zM85 48h1v1h-1zM85 49h1v1h-1zM79 50h1v1h-1zM78 51h1v1h-1zM78 52h1v1h-1zM83 52h1v1h-1zM76 53h1v1h-1zM84 53h1v1h-1zM76 54h1v1h-1zM75 55h1v1h-1zM74 56h1v1h-1zM83 56h1v1h-1zM83 57h1v1h-1zM71 59h1v1h-1zM81 59h1v1h-1zM80 60h2v1h-2zM69 61h1v1h-1zM80 61h1v1h-1zM69 62h1v1h-1zM79 62h1v1h-1zM67 63h1v1h-1zM69 63h1v1h-1zM78 63h2v1h-2zM76 64h2v1h-2zM66 65h1v1h-1zM66 66h1v1h-1zM63 69h1v1h-1zM73 69h1v1h-1zM61 70h3v1h-3zM73 70h1v1h-1zM61 71h1v1h-1zM60 72h1v1h-1zM70 72h2v1h-2zM59 73h3v1h-3zM56 76h1v1h-1zM58 76h1v1h-1zM55 77h1v1h-1zM57 77h1v1h-1zM67 77h1v1h-1zM55 78h1v1h-1zM67 78h1v1h-1zM54 79h2v1h-2zM65 79h2v1h-2zM53 80h1v1h-1zM53 81h1v1h-1zM64 81h2v1h-2zM51 83h2v1h-2zM62 83h2v1h-2zM50 84h1v1h-1zM62 84h1v1h-1zM49 86h1v1h-1zM59 87h1v1h-1zM46 88h3v1h-3zM46 89h1v1h-1zM58 89h1v1h-1zM57 90h1v1h-1zM43 92h1v1h-1zM56 92h1v1h-1zM43 93h1v1h-1zM55 93h1v1h-1zM41 94h1v1h-1zM54 94h1v1h-1zM41 95h2v1h-2zM52 96h1v1h-1zM51 98h1v1h-1zM39 99h1v1h-1zM50 99h1v1h-1zM37 100h2v1h-2zM36 101h1v1h-1zM49 101h1v1h-1zM35 102h1v1h-1zM35 103h1v1h-1zM46 103h2v1h-2zM34 104h2v1h-2zM46 104h1v1h-1zM32 105h1v1h-1zM34 105h1v1h-1zM31 108h1v1h-1zM43 108h1v1h-1zM30 109h1v1h-1zM29 110h1v1h-1zM41 110h1v1h-1zM28 111h1v1h-1z"/>
<path fill="#3e348e" d="M83 46h1v1h-1zM84 47h1v1h-1zM81 48h1v1h-1zM83 48h1v1h-1zM80 49h2v1h-2zM83 49h2v1h-2zM80 50h1v1h-1zM82 51h1v1h-1zM79 52h1v1h-1zM84 52h1v1h-1zM77 53h2v1h-2zM83 53h1v1h-1zM83 54h1v1h-1zM76 55h1v1h-1zM83 55h1v1h-1zM82 56h1v1h-1zM73 57h1v1h-1zM82 57h1v1h-1zM73 58h1v1h-1zM82 58h1v1h-1zM80 59h1v1h-1zM71 60h1v1h-1zM70 61h1v1h-1zM78 61h2v1h-2zM68 63h1v1h-1zM76 63h1v1h-1zM68 64h1v1h-1zM76 65h1v1h-1zM74 66h1v1h-1zM65 67h1v1h-1zM74 67h2v1h-2zM64 68h1v1h-1zM74 68h1v1h-1zM64 69h1v1h-1zM72 70h1v1h-1zM62 71h1v1h-1zM71 71h1v1h-1zM61 72h1v1h-1zM70 73h1v1h-1zM59 74h2v1h-2zM69 74h1v1h-1zM59 75h1v1h-1zM67 75h2v1h-2zM68 76h1v1h-1zM58 77h1v1h-1zM66 78h1v1h-1zM65 80h1v1h-1zM54 81h1v1h-1zM52 82h1v1h-1zM63 82h1v1h-1zM53 83h1v1h-1zM51 84h2v1h-2zM61 84h1v1h-1zM50 85h2v1h-2zM61 85h1v1h-1zM50 86h2v1h-2zM59 86h1v1h-1zM48 87h1v1h-1zM58 88h1v1h-1zM47 89h1v1h-1zM46 90h1v1h-1zM56 90h1v1h-1zM45 91h1v1h-1zM45 92h1v1h-1zM55 92h1v1h-1zM43 94h1v1h-1zM52 94h1v1h-1zM43 95h1v1h-1zM41 96h1v1h-1zM40 97h2v1h-2zM50 98h1v1h-1zM38 99h1v1h-1zM39 100h1v1h-1zM49 100h1v1h-1zM37 101h2v1h-2zM48 101h1v1h-1zM36 102h1v1h-1zM47 102h2v1h-2zM45 105h1v1h-1zM33 106h1v1h-1zM44 106h1v1h-1zM32 107h1v1h-1zM43 107h1v1h-1zM31 109h1v1h-1zM42 109h1v1h-1zM30 110h2v1h-2zM29 111h1v1h-1zM40 111h1v1h-1zM28 112h1v1h-1zM39 112h1v1h-1z"/>
<path fill="#3f3795" d="M82 48h1v1h-1zM84 48h1v1h-1zM82 49h1v1h-1zM81 50h1v1h-1zM83 50h1v1h-1zM80 51h2v1h-2zM83 51h2v1h-2zM80 52h3v1h-3zM79 53h1v1h-1zM81 53h1v1h-1zM77 54h4v1h-4zM82 54h1v1h-1zM77 55h2v1h-2zM82 55h1v1h-1zM75 56h1v1h-1zM77 56h1v1h-1zM81 56h1v1h-1zM74 57h1v1h-1zM76 57h1v1h-1zM81 57h1v1h-1zM74 58h2v1h-2zM77 58h1v1h-1zM80 58h2v1h-2zM73 59h2v1h-2zM77 59h1v1h-1zM79 59h1v1h-1zM72 60h3v1h-3zM78 60h2v1h-2zM71 61h2v1h-2zM74 61h1v1h-1zM70 62h2v1h-2zM76 62h3v1h-3zM70 63h2v1h-2zM77 63h1v1h-1zM69 64h3v1h-3zM67 65h2v1h-2zM67 66h2v1h-2zM75 66h1v1h-1zM66 67h1v1h-1zM73 67h1v1h-1zM66 68h1v1h-1zM72 68h2v1h-2zM65 69h1v1h-1zM71 69h2v1h-2zM64 70h1v1h-1zM63 71h1v1h-1zM70 71h1v1h-1zM62 72h1v1h-1zM69 72h1v1h-1zM68 73h2v1h-2zM61 74h1v1h-1zM68 74h1v1h-1zM60 75h2v1h-2zM59 76h1v1h-1zM59 77h1v1h-1zM66 77h1v1h-1zM56 78h2v1h-2zM65 78h1v1h-1zM56 79h1v1h-1zM55 80h1v1h-1zM64 80h1v1h-1zM55 81h2v1h-2zM63 81h1v1h-1zM53 82h1v1h-1zM62 82h1v1h-1zM60 84h1v1h-1zM60 85h1v1h-1zM58 86h1v1h-1zM60 86h1v1h-1zM49 87h1v1h-1zM58 87h1v1h-1zM48 89h1v1h-1zM57 89h1v1h-1zM47 90h1v1h-1zM49 90h1v1h-1zM55 90h1v1h-1zM46 91h1v1h-1zM55 91h1v1h-1zM46 92h1v1h-1zM44 93h2v1h-2zM53 93h2v1h-2zM44 94h1v1h-1zM53 94h1v1h-1zM44 95h2v1h-2zM51 95h2v1h-2zM42 96h1v1h-1zM51 97h1v1h-1zM40 98h3v1h-3zM49 98h1v1h-1zM40 99h1v1h-1zM37 102h2v1h-2zM37 103h1v1h-1zM43 104h1v1h-1zM45 104h1v1h-1zM44 105h1v1h-1zM34 106h1v1h-1zM43 106h1v1h-1zM32 108h2v1h-2zM42 108h1v1h-1zM41 109h1v1h-1zM40 110h1v1h-1zM39 111h1v1h-1zM29 112h2v1h-2z"/>
<path fill="#403a9b" d="M82 50h1v1h-1zM84 50h1v1h-1zM79 51h1v1h-1zM80 53h1v1h-1zM81 54h1v1h-1zM79 55h2v1h-2zM76 56h1v1h-1zM78 56h1v1h-1zM75 57h1v1h-1zM77 57h1v1h-1zM79 57h1v1h-1zM76 58h1v1h-1zM79 58h1v1h-1zM75 59h1v1h-1zM78 59h1v1h-1zM76 60h2v1h-2zM73 61h1v1h-1zM75 61h1v1h-1zM77 61h1v1h-1zM73 62h1v1h-1zM75 62h1v1h-1zM72 63h2v1h-2zM75 63h1v1h-1zM72 64h1v1h-1zM69 65h1v1h-1zM75 65h1v1h-1zM69 66h3v1h-3zM73 66h1v1h-1zM67 67h2v1h-2zM71 67h2v1h-2zM65 68h1v1h-1zM67 68h2v1h-2zM70 68h1v1h-1zM65 70h3v1h-3zM69 70h3v1h-3zM64 71h2v1h-2zM69 71h1v1h-1zM62 73h1v1h-1zM63 74h1v1h-1zM65 74h1v1h-1zM67 74h1v1h-1zM63 75h1v1h-1zM66 75h1v1h-1zM61 76h1v1h-1zM64 76h1v1h-1zM66 76h2v1h-2zM60 77h1v1h-1zM58 78h1v1h-1zM57 79h1v1h-1zM64 79h1v1h-1zM56 80h2v1h-2zM62 80h2v1h-2zM62 81h1v1h-1zM54 82h2v1h-2zM60 82h1v1h-1zM58 83h1v1h-1zM60 83h2v1h-2zM53 84h2v1h-2zM57 86h1v1h-1zM50 87h2v1h-2zM56 87h2v1h-2zM49 88h1v1h-1zM57 88h1v1h-1zM49 89h1v1h-1zM51 89h1v1h-1zM54 89h1v1h-1zM47 91h2v1h-2zM53 91h1v1h-1zM54 92h1v1h-1zM46 93h1v1h-1zM46 94h1v1h-1zM51 94h1v1h-1zM43 96h2v1h-2zM49 96h1v1h-1zM51 96h1v1h-1zM42 97h1v1h-1zM49 97h2v1h-2zM42 99h1v1h-1zM48 99h2v1h-2zM40 100h2v1h-2zM48 100h1v1h-1zM39 101h2v1h-2zM47 101h1v1h-1zM45 102h1v1h-1zM36 103h1v1h-1zM38 103h1v1h-1zM44 103h2v1h-2zM36 104h1v1h-1zM38 104h1v1h-1zM35 105h2v1h-2zM42 106h1v1h-1zM33 107h1v1h-1zM39 107h1v1h-1zM41 108h1v1h-1zM32 109h1v1h-1zM39 109h2v1h-2zM32 110h1v1h-1zM34 110h1v1h-1zM38 110h2v1h-2zM30 111h2v1h-2zM33 111h1v1h-1zM38 112h1v1h-1z"/>
<path fill="#423da1" d="M82 53h1v1h-1zM81 55h1v1h-1zM80 56h1v1h-1zM78 57h1v1h-1zM80 57h1v1h-1zM78 58h1v1h-1zM76 59h1v1h-1zM75 60h1v1h-1zM76 61h1v1h-1zM72 62h1v1h-1zM74 63h1v1h-1zM73 64h3v1h-3zM70 65h5v1h-5zM69 67h2v1h-2zM69 68h1v1h-1zM71 68h1v1h-1zM66 69h2v1h-2zM69 69h2v1h-2zM66 71h3v1h-3zM63 72h6v1h-6zM63 73h1v1h-1zM65 73h1v1h-1zM62 74h1v1h-1zM64 74h1v1h-1zM66 74h1v1h-1zM62 75h1v1h-1zM65 75h1v1h-1zM60 76h1v1h-1zM62 76h1v1h-1zM63 77h3v1h-3zM60 78h1v1h-1zM62 78h1v1h-1zM64 78h1v1h-1zM58 79h1v1h-1zM60 79h1v1h-1zM58 80h1v1h-1zM60 80h2v1h-2zM57 81h5v1h-5zM61 82h1v1h-1zM54 83h3v1h-3zM59 83h1v1h-1zM55 84h1v1h-1zM59 84h1v1h-1zM52 85h4v1h-4zM58 85h2v1h-2zM52 86h1v1h-1zM55 86h2v1h-2zM52 87h1v1h-1zM54 87h1v1h-1zM50 88h3v1h-3zM55 88h2v1h-2zM50 89h1v1h-1zM55 89h2v1h-2zM48 90h1v1h-1zM54 90h1v1h-1zM49 91h1v1h-1zM54 91h1v1h-1zM47 92h1v1h-1zM52 92h2v1h-2zM47 93h1v1h-1zM51 93h2v1h-2zM45 94h1v1h-1zM47 94h1v1h-1zM50 96h1v1h-1zM43 97h3v1h-3zM43 98h1v1h-1zM46 98h1v1h-1zM48 98h1v1h-1zM41 99h1v1h-1zM45 99h1v1h-1zM47 99h1v1h-1zM46 100h2v1h-2zM45 101h1v1h-1zM46 102h1v1h-1zM40 103h1v1h-1zM37 104h1v1h-1zM39 104h1v1h-1zM42 104h1v1h-1zM44 104h1v1h-1zM37 105h2v1h-2zM42 105h2v1h-2zM35 106h1v1h-1zM40 106h1v1h-1zM34 107h3v1h-3zM41 107h2v1h-2zM34 108h2v1h-2zM39 108h2v1h-2zM33 109h3v1h-3zM36 110h1v1h-1zM32 111h1v1h-1zM35 111h1v1h-1zM31 112h1v1h-1z"/>
<path fill="#4340a7" d="M79 56h1v1h-1zM74 62h1v1h-1zM72 66h1v1h-1zM68 69h1v1h-1zM68 70h1v1h-1zM64 73h1v1h-1zM66 73h2v1h-2zM63 76h1v1h-1zM65 76h1v1h-1zM61 77h2v1h-2zM59 78h1v1h-1zM63 78h1v1h-1zM59 79h1v1h-1zM61 79h3v1h-3zM59 80h1v1h-1zM57 82h3v1h-3zM57 83h1v1h-1zM56 84h1v1h-1zM58 84h1v1h-1zM56 85h2v1h-2zM53 86h2v1h-2zM53 87h1v1h-1zM55 87h1v1h-1zM54 88h1v1h-1zM51 90h3v1h-3zM52 91h1v1h-1zM48 92h1v1h-1zM48 93h3v1h-3zM50 94h1v1h-1zM47 95h4v1h-4zM46 96h3v1h-3zM46 97h1v1h-1zM48 97h1v1h-1zM44 98h2v1h-2zM47 98h1v1h-1zM43 99h1v1h-1zM46 99h1v1h-1zM42 100h1v1h-1zM44 100h1v1h-1zM42 101h1v1h-1zM46 101h1v1h-1zM39 102h4v1h-4zM44 102h1v1h-1zM39 103h1v1h-1zM41 103h1v1h-1zM43 103h1v1h-1zM39 105h2v1h-2zM36 106h2v1h-2zM39 106h1v1h-1zM41 106h1v1h-1zM38 107h1v1h-1zM40 107h1v1h-1zM37 108h1v1h-1zM37 109h1v1h-1zM33 110h1v1h-1zM35 110h1v1h-1zM34 111h1v1h-1zM37 111h2v1h-2zM32 112h2v1h-2zM36 112h2v1h-2z"/>
<path fill="#4443ad" d="M64 75h1v1h-1zM61 78h1v1h-1zM56 82h1v1h-1zM57 84h1v1h-1zM53 88h1v1h-1zM52 89h2v1h-2zM50 90h1v1h-1zM50 91h2v1h-2zM49 92h3v1h-3zM48 94h2v1h-2zM46 95h1v1h-1zM45 96h1v1h-1zM47 97h1v1h-1zM44 99h1v1h-1zM45 100h1v1h-1zM41 101h1v1h-1zM43 101h1v1h-1zM43 102h1v1h-1zM40 104h2v1h-2zM37 107h1v1h-1zM36 108h1v1h-1zM36 109h1v1h-1zM38 109h1v1h-1zM36 111h1v1h-1zM34 112h2v1h-2z"/>
<path fill="#4546b2" d="M43 100h1v1h-1zM44 101h1v1h-1zM42 103h1v1h-1zM41 105h1v1h-1zM38 106h1v1h-1zM38 108h1v1h-1zM37 110h1v1h-1z"/>
</g>
<rect x="651" y="460.3" width="201" height="199" rx="27" fill="#fff"/>
<rect x="722.5" y="528.5" width="111" height="111" rx="1" fill="#a9a9a9"/>
<circle cx="749.5" cy="615.2" r="17" fill="#fff"/><circle cx="807.8" cy="615.2" r="17.2" fill="#fff"/>
<rect x="722.5" y="479" width="111" height="108.3" rx="1" fill="#000"/>
<rect x="142" y="38" width="753" height="677" fill="none" stroke="#000" stroke-width="1.9"/>
<path d="M142.00 715.00v8.6M330.25 715.00v8.6M518.50 715.00v8.6M706.75 715.00v8.6M895.00 715.00v8.6" stroke="#000" stroke-width="1.9" fill="none"/>
<path d="M236.12 715.00v4.8M424.38 715.00v4.8M612.62 715.00v4.8M800.88 715.00v4.8" stroke="#000" stroke-width="1.4" fill="none"/>
<path d="M142.00 715.00h-8.6M142.00 594.11h-8.6M142.00 473.21h-8.6M142.00 352.32h-8.6M142.00 231.43h-8.6M142.00 110.54h-8.6" stroke="#000" stroke-width="1.9" fill="none"/>
<g font-family="'DejaVu Sans','Liberation Sans',sans-serif" font-size="39.6" fill="#000">
<text x="142.00" y="763.2" text-anchor="middle">840</text>
<text x="330.25" y="763.2" text-anchor="middle">850</text>
<text x="518.50" y="763.2" text-anchor="middle">860</text>
<text x="706.75" y="763.2" text-anchor="middle">870</text>
<text x="895.00" y="763.2" text-anchor="middle">880</text>
<text x="125" y="730.20" text-anchor="end">850</text>
<text x="125" y="609.31" text-anchor="end">855</text>
<text x="125" y="488.41" text-anchor="end">860</text>
<text x="125" y="367.52" text-anchor="end">865</text>
<text x="125" y="246.63" text-anchor="end">870</text>
<text x="125" y="125.74" text-anchor="end">875</text>
<text x="518.6" y="811" text-anchor="middle">Detected photon energy (eV)</text>
<text transform="translate(31.4,377.1) rotate(-90)" text-anchor="middle">Inconming FEL energy (eV)</text>
</g>
<rect x="942" y="38" width="34.5" height="677" fill="url(#tg)"/>
<rect x="942" y="38" width="34.5" height="677" fill="none" stroke="#000" stroke-width="1.9"/>
<path d="M976.50 715.00h8.4M976.50 602.17h8.4M976.50 489.33h8.4M976.50 376.50h8.4M976.50 263.67h8.4M976.50 150.83h8.4M976.50 38.00h8.4" stroke="#000" stroke-width="1.9" fill="none"/>
<g font-family="'DejaVu Sans','Liberation Sans',sans-serif" font-size="35" fill="#000">
<text x="992.8" y="728.40">0</text>
<text x="992.8" y="615.57">50</text>
<text x="992.8" y="502.73">100</text>
<text x="992.8" y="389.90">150</text>
<text x="992.8" y="277.07">200</text>
<text x="992.8" y="164.23">250</text>
<text x="992.8" y="51.40">300</text>
</g>
</g>
<text transform="translate(6,1699.6) scale(0.9,1)" font-family="'Liberation Sans','DejaVu Sans',sans-serif" font-weight="bold" font-size="76" fill="#000">c</text>
</svg></body></html>
